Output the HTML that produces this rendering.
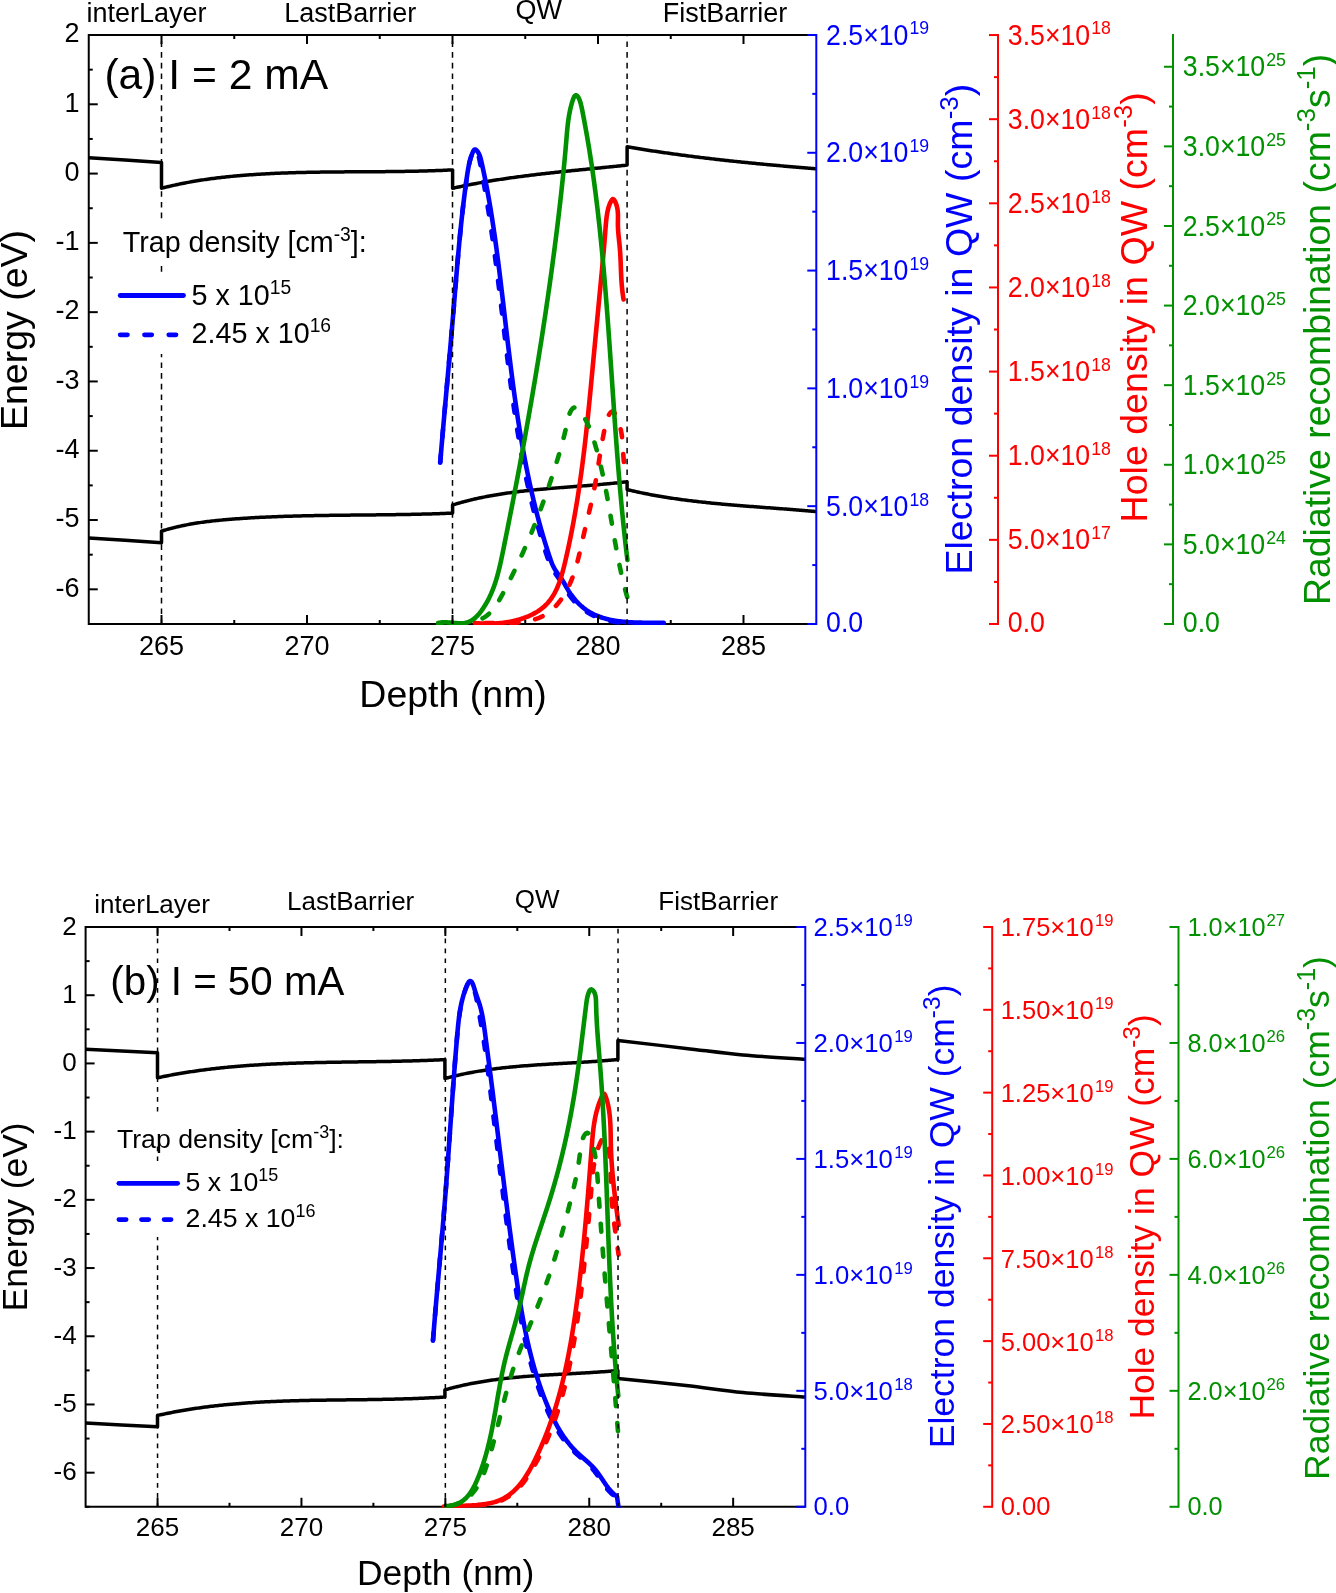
<!DOCTYPE html>
<html><head><meta charset="utf-8"><title>Band diagram</title>
<style>html,body{margin:0;padding:0;background:#fff;overflow:hidden;width:1336px;height:1593px;}svg{display:block;will-change:transform;}text{font-family:"Liberation Sans", sans-serif;}</style>
</head><body>
<svg width="1336" height="1593" viewBox="0 0 1336 1593">
<rect width="1336" height="1593" fill="#fff"/>
<line x1="88.75" y1="34" x2="88.75" y2="624.97" stroke="#000000" stroke-width="2" stroke-linecap="butt"/>
<line x1="88.75" y1="35" x2="816.25" y2="35" stroke="#000000" stroke-width="2" stroke-linecap="butt"/>
<line x1="88.75" y1="623.97" x2="816.25" y2="623.97" stroke="#000000" stroke-width="2" stroke-linecap="butt"/>
<path d="M88.75,157.7 C100.88,158.5 149.38,161.7 161.5,162.5 L161.5,162.5 C161.5,166.8 161.5,184 161.5,188.3 L161.5,188.29 L162.97,187.91 L164.44,187.54 L165.91,187.17 L167.39,186.81 L168.86,186.45 L170.34,186.1 L171.82,185.76 L173.29,185.42 L174.77,185.09 L176.25,184.76 L177.73,184.44 L179.21,184.13 L180.7,183.82 L182.18,183.52 L183.66,183.23 L185.15,182.93 L186.63,182.65 L188.12,182.37 L189.61,182.1 L191.1,181.83 L192.59,181.57 L194.08,181.31 L195.57,181.06 L197.06,180.81 L198.55,180.57 L200.04,180.33 L201.54,180.1 L203.03,179.87 L204.53,179.64 L206.02,179.43 L207.52,179.21 L209.01,179 L210.51,178.8 L212.01,178.6 L213.51,178.4 L215.01,178.21 L216.51,178.02 L218.01,177.84 L219.51,177.66 L221.01,177.49 L222.51,177.32 L224.01,177.15 L225.52,176.99 L227.02,176.83 L228.52,176.67 L230.03,176.52 L231.53,176.37 L233.04,176.23 L234.54,176.09 L236.05,175.95 L237.56,175.81 L239.06,175.68 L240.57,175.56 L242.08,175.43 L243.59,175.31 L245.1,175.19 L246.6,175.07 L248.11,174.96 L249.62,174.85 L251.13,174.74 L252.64,174.64 L254.15,174.54 L255.66,174.44 L257.17,174.34 L258.68,174.25 L260.19,174.15 L261.71,174.06 L263.22,173.98 L264.73,173.89 L266.24,173.81 L267.75,173.73 L269.27,173.65 L270.78,173.58 L272.29,173.51 L273.8,173.43 L275.32,173.37 L276.83,173.3 L278.34,173.23 L279.86,173.17 L281.37,173.11 L282.89,173.05 L284.4,173 L285.92,172.94 L287.43,172.89 L288.95,172.84 L290.46,172.79 L291.98,172.74 L293.49,172.69 L295.01,172.65 L296.52,172.61 L298.04,172.57 L299.55,172.53 L301.07,172.49 L302.59,172.45 L304.1,172.42 L305.62,172.38 L307.14,172.35 L308.65,172.32 L310.17,172.29 L311.69,172.26 L313.2,172.23 L314.72,172.21 L316.24,172.18 L317.76,172.16 L319.27,172.14 L320.79,172.11 L322.31,172.09 L323.83,172.07 L325.34,172.05 L326.86,172.04 L328.38,172.02 L329.9,172 L331.41,171.99 L332.93,171.97 L334.45,171.96 L335.97,171.94 L337.49,171.93 L339,171.92 L340.52,171.91 L342.04,171.89 L343.56,171.88 L345.08,171.87 L346.6,171.86 L348.11,171.85 L349.63,171.84 L351.15,171.83 L352.67,171.83 L354.19,171.82 L355.7,171.81 L357.22,171.8 L358.74,171.79 L360.26,171.78 L361.77,171.77 L363.29,171.77 L364.81,171.76 L366.33,171.75 L367.85,171.74 L369.36,171.73 L370.88,171.72 L372.4,171.71 L373.92,171.7 L375.43,171.69 L376.95,171.68 L378.47,171.67 L379.98,171.66 L381.5,171.65 L383.02,171.64 L384.53,171.63 L386.05,171.61 L387.57,171.6 L389.08,171.59 L390.6,171.57 L392.12,171.55 L393.63,171.54 L395.15,171.52 L396.66,171.5 L398.18,171.48 L399.69,171.46 L401.21,171.44 L402.72,171.42 L404.24,171.4 L405.75,171.37 L407.27,171.35 L408.78,171.32 L410.3,171.29 L411.81,171.27 L413.32,171.24 L414.84,171.21 L416.35,171.17 L417.86,171.14 L419.38,171.1 L420.89,171.07 L422.4,171.03 L423.91,170.99 L425.43,170.95 L426.94,170.91 L428.45,170.86 L429.96,170.81 L431.47,170.77 L432.98,170.72 L434.49,170.67 L436,170.61 L437.51,170.56 L439.02,170.5 L440.53,170.44 L442.04,170.38 L443.55,170.32 L445.06,170.25 L446.57,170.19 L448.08,170.12 L449.59,170.05 L451.09,169.97 L452.6,169.9 L452.6,169.9 C452.6,172.97 452.6,185.23 452.6,188.3 L452.6,188.3 L454.08,187.97 L455.57,187.64 L457.05,187.31 L458.54,186.99 L460.02,186.67 L461.51,186.36 L463,186.05 L464.49,185.74 L465.98,185.44 L467.46,185.14 L468.95,184.85 L470.45,184.55 L471.94,184.26 L473.43,183.98 L474.92,183.7 L476.41,183.42 L477.91,183.14 L479.4,182.87 L480.89,182.6 L482.39,182.34 L483.88,182.08 L485.38,181.82 L486.87,181.56 L488.37,181.31 L489.87,181.06 L491.37,180.81 L492.86,180.57 L494.36,180.33 L495.86,180.09 L497.36,179.85 L498.86,179.62 L500.36,179.39 L501.86,179.16 L503.36,178.93 L504.86,178.71 L506.36,178.49 L507.87,178.27 L509.37,178.06 L510.87,177.84 L512.38,177.63 L513.88,177.42 L515.38,177.22 L516.89,177.01 L518.39,176.81 L519.9,176.61 L521.4,176.41 L522.91,176.22 L524.41,176.02 L525.92,175.83 L527.43,175.64 L528.93,175.45 L530.44,175.27 L531.95,175.08 L533.45,174.9 L534.96,174.72 L536.47,174.54 L537.98,174.36 L539.49,174.19 L540.99,174.01 L542.5,173.84 L544.01,173.66 L545.52,173.49 L547.03,173.32 L548.54,173.16 L550.05,172.99 L551.56,172.82 L553.07,172.66 L554.58,172.5 L556.09,172.33 L557.6,172.17 L559.11,172.01 L560.62,171.85 L562.13,171.69 L563.64,171.54 L565.16,171.38 L566.67,171.22 L568.18,171.07 L569.69,170.91 L571.2,170.76 L572.71,170.6 L574.22,170.45 L575.74,170.3 L577.25,170.15 L578.76,169.99 L580.27,169.84 L581.78,169.69 L583.29,169.54 L584.81,169.39 L586.32,169.24 L587.83,169.09 L589.34,168.94 L590.85,168.79 L592.36,168.64 L593.87,168.49 L595.39,168.34 L596.9,168.19 L598.41,168.04 L599.92,167.89 L601.43,167.74 L602.94,167.59 L604.45,167.44 L605.96,167.29 L607.47,167.13 L608.98,166.98 L610.5,166.83 L612.01,166.67 L613.52,166.52 L615.03,166.37 L616.54,166.21 L618.05,166.05 L619.56,165.9 L621.06,165.74 L622.57,165.58 L624.08,165.42 L625.59,165.26 L627.1,165.1 L627.1,165.1 C627.1,162.05 627.1,149.85 627.1,146.8 L627.1,146.8 L628.59,147.06 L630.08,147.31 L631.57,147.56 L633.06,147.81 L634.55,148.05 L636.04,148.3 L637.53,148.54 L639.03,148.79 L640.52,149.03 L642.01,149.27 L643.5,149.5 L645,149.74 L646.49,149.97 L647.98,150.21 L649.47,150.44 L650.97,150.67 L652.46,150.9 L653.96,151.12 L655.45,151.35 L656.95,151.57 L658.44,151.79 L659.94,152.01 L661.43,152.23 L662.93,152.45 L664.42,152.67 L665.92,152.88 L667.42,153.09 L668.91,153.31 L670.41,153.52 L671.91,153.73 L673.4,153.93 L674.9,154.14 L676.4,154.35 L677.9,154.55 L679.4,154.75 L680.89,154.95 L682.39,155.15 L683.89,155.35 L685.39,155.55 L686.89,155.74 L688.39,155.94 L689.89,156.13 L691.39,156.32 L692.89,156.51 L694.39,156.7 L695.89,156.89 L697.39,157.07 L698.89,157.26 L700.39,157.44 L701.89,157.63 L703.39,157.81 L704.89,157.99 L706.39,158.17 L707.89,158.35 L709.4,158.53 L710.9,158.7 L712.4,158.88 L713.9,159.05 L715.4,159.22 L716.91,159.39 L718.41,159.57 L719.91,159.73 L721.41,159.9 L722.92,160.07 L724.42,160.24 L725.92,160.4 L727.43,160.57 L728.93,160.73 L730.43,160.89 L731.94,161.05 L733.44,161.21 L734.95,161.37 L736.45,161.53 L737.95,161.69 L739.46,161.84 L740.96,162 L742.47,162.15 L743.97,162.31 L745.48,162.46 L746.98,162.61 L748.48,162.76 L749.99,162.91 L751.49,163.06 L753,163.21 L754.5,163.36 L756.01,163.5 L757.52,163.65 L759.02,163.79 L760.53,163.94 L762.03,164.08 L763.54,164.22 L765.04,164.37 L766.55,164.51 L768.05,164.65 L769.56,164.79 L771.07,164.93 L772.57,165.06 L774.08,165.2 L775.58,165.34 L777.09,165.47 L778.59,165.61 L780.1,165.74 L781.61,165.88 L783.11,166.01 L784.62,166.14 L786.13,166.28 L787.63,166.41 L789.14,166.54 L790.64,166.67 L792.15,166.8 L793.66,166.93 L795.16,167.06 L796.67,167.18 L798.18,167.31 L799.68,167.44 L801.19,167.56 L802.69,167.69 L804.2,167.82 L805.71,167.94 L807.21,168.06 L808.72,168.19 L810.23,168.31 L811.73,168.43 L813.24,168.56 L814.74,168.68 L816.25,168.8" fill="none" stroke="#000000" stroke-width="3.5" stroke-linecap="butt" stroke-linejoin="round"/>
<path d="M88.75,537.9 C100.88,538.7 149.38,541.9 161.5,542.7 L161.5,542.7 C161.5,540.78 161.5,533.12 161.5,531.2 L161.5,531.19 L162.95,530.74 L164.4,530.29 L165.86,529.86 L167.31,529.44 L168.77,529.02 L170.24,528.62 L171.7,528.23 L173.17,527.85 L174.63,527.48 L176.1,527.13 L177.57,526.78 L179.05,526.44 L180.52,526.11 L182,525.79 L183.48,525.48 L184.96,525.17 L186.44,524.88 L187.92,524.6 L189.41,524.32 L190.9,524.05 L192.38,523.79 L193.87,523.54 L195.36,523.3 L196.86,523.06 L198.35,522.83 L199.84,522.61 L201.34,522.39 L202.84,522.18 L204.33,521.98 L205.83,521.78 L207.33,521.59 L208.83,521.4 L210.34,521.23 L211.84,521.05 L213.34,520.88 L214.85,520.72 L216.35,520.56 L217.86,520.41 L219.36,520.26 L220.87,520.12 L222.38,519.98 L223.89,519.84 L225.4,519.71 L226.9,519.58 L228.41,519.45 L229.92,519.33 L231.43,519.21 L232.94,519.09 L234.46,518.98 L235.97,518.86 L237.48,518.76 L238.99,518.65 L240.5,518.54 L242.01,518.44 L243.52,518.34 L245.03,518.24 L246.55,518.14 L248.06,518.05 L249.57,517.96 L251.08,517.87 L252.6,517.78 L254.11,517.69 L255.62,517.61 L257.14,517.53 L258.65,517.45 L260.16,517.37 L261.68,517.3 L263.19,517.22 L264.7,517.15 L266.22,517.08 L267.73,517.01 L269.25,516.94 L270.76,516.88 L272.27,516.81 L273.79,516.75 L275.3,516.69 L276.82,516.63 L278.33,516.57 L279.85,516.52 L281.36,516.46 L282.88,516.41 L284.39,516.36 L285.91,516.31 L287.42,516.26 L288.94,516.22 L290.46,516.17 L291.97,516.13 L293.49,516.08 L295,516.04 L296.52,516 L298.04,515.96 L299.55,515.92 L301.07,515.88 L302.58,515.85 L304.1,515.81 L305.62,515.78 L307.13,515.75 L308.65,515.72 L310.17,515.69 L311.68,515.66 L313.2,515.63 L314.72,515.6 L316.23,515.57 L317.75,515.54 L319.27,515.52 L320.78,515.49 L322.3,515.47 L323.82,515.45 L325.33,515.42 L326.85,515.4 L328.37,515.38 L329.88,515.36 L331.4,515.34 L332.92,515.32 L334.44,515.3 L335.95,515.28 L337.47,515.27 L338.99,515.25 L340.5,515.23 L342.02,515.21 L343.54,515.2 L345.06,515.18 L346.57,515.17 L348.09,515.15 L349.61,515.14 L351.12,515.12 L352.64,515.1 L354.16,515.09 L355.68,515.08 L357.19,515.06 L358.71,515.05 L360.23,515.03 L361.74,515.02 L363.26,515 L364.78,514.99 L366.29,514.97 L367.81,514.96 L369.33,514.94 L370.84,514.93 L372.36,514.91 L373.88,514.9 L375.39,514.88 L376.91,514.87 L378.43,514.85 L379.94,514.83 L381.46,514.82 L382.97,514.8 L384.49,514.78 L386.01,514.76 L387.52,514.75 L389.04,514.73 L390.55,514.71 L392.07,514.69 L393.59,514.67 L395.1,514.65 L396.62,514.62 L398.13,514.6 L399.65,514.58 L401.16,514.55 L402.68,514.53 L404.19,514.5 L405.71,514.48 L407.22,514.45 L408.74,514.42 L410.25,514.39 L411.76,514.36 L413.28,514.33 L414.79,514.3 L416.31,514.27 L417.82,514.23 L419.33,514.2 L420.85,514.16 L422.36,514.12 L423.88,514.09 L425.39,514.05 L426.9,514 L428.41,513.96 L429.93,513.92 L431.44,513.88 L432.95,513.83 L434.46,513.78 L435.98,513.73 L437.49,513.68 L439,513.63 L440.51,513.58 L442.02,513.52 L443.54,513.47 L445.05,513.41 L446.56,513.35 L448.07,513.29 L449.58,513.23 L451.09,513.16 L452.6,513.1 L452.6,513.1 C452.6,511.75 452.6,506.35 452.6,505 L452.6,505 L454.06,504.55 L455.52,504.1 L456.98,503.67 L458.44,503.24 L459.9,502.83 L461.37,502.42 L462.84,502.02 L464.31,501.62 L465.78,501.24 L467.25,500.86 L468.72,500.48 L470.2,500.12 L471.67,499.76 L473.15,499.41 L474.63,499.07 L476.11,498.73 L477.59,498.41 L479.07,498.08 L480.56,497.77 L482.04,497.46 L483.53,497.15 L485.02,496.86 L486.51,496.57 L488,496.28 L489.49,496 L490.98,495.73 L492.47,495.46 L493.97,495.2 L495.46,494.95 L496.96,494.69 L498.46,494.45 L499.95,494.21 L501.45,493.97 L502.95,493.74 L504.46,493.52 L505.96,493.3 L507.46,493.08 L508.96,492.87 L510.47,492.66 L511.97,492.46 L513.48,492.26 L514.99,492.07 L516.49,491.88 L518,491.69 L519.51,491.51 L521.02,491.33 L522.53,491.15 L524.04,490.98 L525.55,490.81 L527.07,490.65 L528.58,490.49 L530.09,490.33 L531.61,490.17 L533.12,490.02 L534.64,489.87 L536.15,489.72 L537.67,489.58 L539.18,489.44 L540.7,489.29 L542.22,489.16 L543.73,489.02 L545.25,488.89 L546.77,488.75 L548.29,488.62 L549.81,488.5 L551.33,488.37 L552.84,488.24 L554.36,488.12 L555.88,488 L557.4,487.88 L558.92,487.75 L560.44,487.63 L561.96,487.52 L563.48,487.4 L565,487.28 L566.52,487.16 L568.04,487.05 L569.56,486.93 L571.08,486.81 L572.6,486.7 L574.12,486.58 L575.64,486.47 L577.16,486.35 L578.68,486.23 L580.2,486.12 L581.72,486 L583.24,485.88 L584.76,485.76 L586.28,485.64 L587.79,485.52 L589.31,485.4 L590.83,485.28 L592.35,485.15 L593.86,485.03 L595.38,484.9 L596.9,484.77 L598.41,484.64 L599.93,484.51 L601.44,484.37 L602.96,484.24 L604.47,484.1 L605.98,483.96 L607.49,483.82 L609.01,483.67 L610.52,483.52 L612.03,483.37 L613.54,483.22 L615.05,483.06 L616.56,482.9 L618.07,482.74 L619.57,482.58 L621.08,482.41 L622.59,482.24 L624.09,482.06 L625.6,481.88 L627.1,481.7 L627.1,481.7 C627.1,483.02 627.1,488.28 627.1,489.6 L627.1,489.6 L628.57,489.95 L630.05,490.3 L631.53,490.64 L633,490.98 L634.48,491.31 L635.96,491.64 L637.44,491.96 L638.92,492.28 L640.4,492.59 L641.88,492.9 L643.36,493.2 L644.85,493.5 L646.33,493.8 L647.81,494.09 L649.3,494.37 L650.78,494.66 L652.27,494.93 L653.76,495.21 L655.25,495.47 L656.73,495.74 L658.22,496 L659.71,496.26 L661.2,496.51 L662.69,496.76 L664.18,497 L665.68,497.24 L667.17,497.48 L668.66,497.71 L670.16,497.94 L671.65,498.17 L673.15,498.39 L674.64,498.61 L676.14,498.83 L677.63,499.04 L679.13,499.25 L680.63,499.46 L682.13,499.66 L683.62,499.86 L685.12,500.06 L686.62,500.25 L688.12,500.44 L689.62,500.63 L691.12,500.82 L692.62,501 L694.13,501.18 L695.63,501.35 L697.13,501.53 L698.63,501.7 L700.14,501.87 L701.64,502.04 L703.14,502.2 L704.65,502.36 L706.15,502.52 L707.66,502.68 L709.16,502.83 L710.67,502.99 L712.17,503.14 L713.68,503.29 L715.19,503.43 L716.69,503.58 L718.2,503.72 L719.71,503.86 L721.21,504 L722.72,504.14 L724.23,504.27 L725.74,504.41 L727.24,504.54 L728.75,504.67 L730.26,504.8 L731.77,504.93 L733.28,505.06 L734.79,505.18 L736.3,505.31 L737.81,505.43 L739.32,505.55 L740.83,505.68 L742.34,505.8 L743.85,505.92 L745.36,506.03 L746.87,506.15 L748.38,506.27 L749.89,506.38 L751.4,506.5 L752.91,506.61 L754.42,506.73 L755.93,506.84 L757.44,506.96 L758.95,507.07 L760.46,507.18 L761.97,507.29 L763.48,507.41 L764.99,507.52 L766.5,507.63 L768.01,507.74 L769.52,507.85 L771.03,507.96 L772.54,508.08 L774.05,508.19 L775.56,508.3 L777.07,508.41 L778.58,508.52 L780.09,508.64 L781.6,508.75 L783.11,508.87 L784.61,508.98 L786.12,509.09 L787.63,509.21 L789.14,509.33 L790.65,509.44 L792.16,509.56 L793.66,509.68 L795.17,509.8 L796.68,509.92 L798.19,510.04 L799.69,510.16 L801.2,510.29 L802.71,510.41 L804.21,510.54 L805.72,510.67 L807.22,510.8 L808.73,510.93 L810.23,511.06 L811.74,511.19 L813.24,511.33 L814.75,511.46 L816.25,511.6" fill="none" stroke="#000000" stroke-width="3.5" stroke-linecap="butt" stroke-linejoin="round"/>
<clipPath id="clip35"><rect x="88.75" y="35" width="727.5" height="589.97"/></clipPath>
<g clip-path="url(#clip35)">
<path d="M440.2,462.5 L440.33,461.01 L440.45,459.51 L440.58,458.02 L440.7,456.52 L440.83,455.03 L440.96,453.53 L441.08,452.04 L441.21,450.54 L441.34,449.05 L441.46,447.55 L441.59,446.06 L441.72,444.56 L441.85,443.06 L441.98,441.57 L442.11,440.07 L442.23,438.58 L442.36,437.08 L442.49,435.58 L442.62,434.08 L442.75,432.59 L442.89,431.09 L443.02,429.59 L443.15,428.09 L443.28,426.59 L443.41,425.1 L443.54,423.6 L443.67,422.1 L443.8,420.6 L443.94,419.1 L444.07,417.6 L444.2,416.1 L444.33,414.6 L444.47,413.11 L444.6,411.61 L444.73,410.11 L444.87,408.61 L445,407.11 L445.13,405.61 L445.27,404.11 L445.4,402.61 L445.53,401.11 L445.67,399.61 L445.8,398.11 L445.94,396.61 L446.07,395.11 L446.2,393.61 L446.34,392.11 L446.47,390.61 L446.61,389.11 L446.74,387.61 L446.87,386.11 L447.01,384.6 L447.14,383.1 L447.28,381.6 L447.41,380.1 L447.54,378.6 L447.68,377.1 L447.81,375.6 L447.95,374.1 L448.08,372.6 L448.21,371.1 L448.35,369.6 L448.48,368.1 L448.62,366.6 L448.75,365.1 L448.88,363.6 L449.02,362.1 L449.15,360.6 L449.28,359.1 L449.42,357.6 L449.55,356.1 L449.68,354.6 L449.82,353.1 L449.95,351.6 L450.08,350.1 L450.21,348.6 L450.34,347.1 L450.48,345.6 L450.61,344.1 L450.74,342.6 L450.87,341.1 L451,339.6 L451.13,338.1 L451.26,336.6 L451.39,335.1 L451.52,333.6 L451.65,332.1 L451.78,330.6 L451.91,329.11 L452.04,327.61 L452.17,326.11 L452.3,324.61 L452.43,323.11 L452.56,321.62 L452.68,320.12 L452.81,318.62 L452.94,317.12 L453.07,315.63 L453.19,314.13 L453.32,312.63 L453.44,311.14 L453.57,309.64 L453.69,308.14 L453.82,306.65 L453.94,305.15 L454.07,303.65 L454.19,302.16 L454.32,300.66 L454.44,299.17 L454.56,297.67 L454.69,296.18 L454.81,294.68 L454.93,293.19 L455.06,291.69 L455.18,290.2 L455.3,288.7 L455.43,287.21 L455.55,285.72 L455.67,284.22 L455.8,282.73 L455.92,281.23 L456.05,279.74 L456.17,278.24 L456.3,276.75 L456.42,275.26 L456.55,273.76 L456.67,272.27 L456.8,270.77 L456.93,269.28 L457.05,267.79 L457.18,266.29 L457.31,264.8 L457.44,263.3 L457.57,261.81 L457.7,260.32 L457.83,258.82 L457.96,257.33 L458.09,255.83 L458.23,254.34 L458.36,252.84 L458.5,251.35 L458.63,249.85 L458.77,248.36 L458.91,246.86 L459.04,245.37 L459.18,243.87 L459.32,242.38 L459.47,240.88 L459.61,239.39 L459.75,237.89 L459.9,236.39 L460.04,234.9 L460.19,233.4 L460.34,231.9 L460.49,230.41 L460.64,228.91 L460.79,227.41 L460.95,225.91 L461.1,224.42 L461.26,222.92 L461.42,221.42 L461.58,219.92 L461.74,218.42 L461.9,216.92 L462.06,215.43 L462.23,213.93 L462.4,212.43 L462.56,210.93 L462.74,209.42 L462.91,207.92 L463.08,206.42 L463.26,204.92 L463.44,203.42 L463.62,201.92 L463.8,200.41 L463.98,198.91 L464.17,197.41 L464.35,195.9 L464.54,194.4 L464.73,192.9 L464.93,191.39 L465.12,189.89 L465.32,188.38 L465.52,186.87 L465.72,185.37 L465.93,183.86 L466.13,182.35 L466.34,180.85 L466.55,179.34 L466.77,177.83 L466.98,176.32 L467.2,174.81 L467.43,173.3 L467.66,171.8 L467.91,170.3 L468.16,168.81 L468.44,167.32 L468.72,165.84 L469.03,164.38 L469.36,162.92 L469.7,161.48 L470.08,160.05 L470.48,158.63 L470.91,157.23 L471.37,155.85 L471.87,154.49 L472.4,153.15 L472.97,151.83 L473.58,150.6 L474.29,149.72 L475.11,149.45 L476.05,149.88 L477.01,150.79 L477.89,151.94 L478.65,153.18 L479.29,154.49 L479.84,155.87 L480.31,157.3 L480.72,158.77 L481.09,160.26 L481.43,161.76 L481.77,163.27 L482.1,164.78 L482.43,166.28 L482.76,167.79 L483.08,169.29 L483.4,170.8 L483.72,172.3 L484.03,173.8 L484.34,175.3 L484.65,176.8 L484.95,178.3 L485.25,179.8 L485.55,181.3 L485.84,182.8 L486.13,184.3 L486.42,185.79 L486.71,187.29 L486.99,188.79 L487.27,190.28 L487.55,191.78 L487.82,193.27 L488.1,194.76 L488.36,196.26 L488.63,197.75 L488.9,199.24 L489.16,200.73 L489.42,202.22 L489.67,203.71 L489.93,205.2 L490.18,206.69 L490.43,208.18 L490.68,209.67 L490.92,211.16 L491.16,212.65 L491.4,214.14 L491.64,215.63 L491.88,217.11 L492.11,218.6 L492.34,220.09 L492.57,221.57 L492.8,223.06 L493.03,224.55 L493.25,226.03 L493.47,227.52 L493.7,229 L493.91,230.49 L494.13,231.97 L494.35,233.46 L494.56,234.94 L494.77,236.43 L494.98,237.91 L495.19,239.4 L495.4,240.88 L495.6,242.37 L495.81,243.85 L496.01,245.33 L496.21,246.82 L496.41,248.3 L496.61,249.79 L496.81,251.27 L497,252.76 L497.2,254.24 L497.39,255.72 L497.59,257.21 L497.78,258.69 L497.97,260.18 L498.16,261.66 L498.35,263.15 L498.53,264.63 L498.72,266.12 L498.91,267.6 L499.09,269.09 L499.28,270.58 L499.46,272.06 L499.64,273.55 L499.82,275.04 L500.01,276.52 L500.19,278.01 L500.37,279.5 L500.55,280.98 L500.73,282.47 L500.9,283.96 L501.08,285.45 L501.26,286.94 L501.44,288.43 L501.62,289.92 L501.79,291.41 L501.97,292.9 L502.14,294.39 L502.32,295.88 L502.5,297.37 L502.67,298.86 L502.85,300.35 L503.02,301.84 L503.2,303.34 L503.37,304.83 L503.54,306.32 L503.72,307.81 L503.89,309.3 L504.07,310.8 L504.24,312.29 L504.41,313.78 L504.59,315.28 L504.76,316.77 L504.94,318.26 L505.11,319.76 L505.28,321.25 L505.46,322.75 L505.63,324.24 L505.81,325.73 L505.98,327.23 L506.16,328.72 L506.33,330.22 L506.51,331.71 L506.68,333.21 L506.86,334.7 L507.04,336.2 L507.21,337.69 L507.39,339.19 L507.57,340.68 L507.74,342.18 L507.92,343.67 L508.1,345.17 L508.28,346.66 L508.46,348.16 L508.64,349.65 L508.82,351.15 L509,352.64 L509.18,354.14 L509.36,355.63 L509.55,357.13 L509.73,358.62 L509.91,360.12 L510.1,361.61 L510.28,363.11 L510.47,364.6 L510.66,366.1 L510.84,367.59 L511.03,369.09 L511.22,370.58 L511.41,372.08 L511.6,373.57 L511.8,375.06 L511.99,376.56 L512.18,378.05 L512.38,379.55 L512.57,381.04 L512.77,382.53 L512.97,384.03 L513.17,385.52 L513.37,387.01 L513.57,388.51 L513.77,390 L513.97,391.49 L514.18,392.98 L514.38,394.48 L514.59,395.97 L514.8,397.46 L515.01,398.95 L515.22,400.44 L515.43,401.93 L515.64,403.43 L515.85,404.92 L516.07,406.41 L516.29,407.9 L516.51,409.39 L516.73,410.88 L516.95,412.37 L517.17,413.85 L517.39,415.34 L517.62,416.83 L517.85,418.32 L518.08,419.81 L518.31,421.3 L518.54,422.78 L518.77,424.27 L519.01,425.76 L519.25,427.24 L519.48,428.73 L519.73,430.21 L519.97,431.7 L520.21,433.18 L520.46,434.67 L520.7,436.15 L520.95,437.64 L521.21,439.12 L521.46,440.6 L521.71,442.08 L521.97,443.57 L522.23,445.05 L522.49,446.53 L522.75,448.01 L523.02,449.49 L523.28,450.97 L523.55,452.45 L523.82,453.93 L524.1,455.41 L524.37,456.88 L524.65,458.36 L524.93,459.84 L525.21,461.31 L525.5,462.79 L525.78,464.26 L526.07,465.74 L526.36,467.21 L526.65,468.69 L526.95,470.16 L527.25,471.63 L527.55,473.11 L527.85,474.58 L528.15,476.05 L528.46,477.52 L528.77,478.99 L529.08,480.46 L529.4,481.93 L529.71,483.39 L530.03,484.86 L530.36,486.33 L530.68,487.79 L531.01,489.26 L531.34,490.72 L531.67,492.19 L532.01,493.65 L532.34,495.12 L532.69,496.58 L533.03,498.04 L533.38,499.5 L533.72,500.96 L534.08,502.42 L534.43,503.88 L534.79,505.34 L535.15,506.79 L535.51,508.25 L535.88,509.71 L536.25,511.16 L536.62,512.62 L537,514.07 L537.37,515.52 L537.76,516.98 L538.14,518.43 L538.53,519.88 L538.92,521.33 L539.31,522.78 L539.71,524.22 L540.11,525.67 L540.51,527.12 L540.92,528.56 L541.33,530.01 L541.74,531.45 L542.16,532.9 L542.58,534.34 L543,535.78 L543.43,537.22 L543.85,538.66 L544.29,540.1 L544.72,541.54 L545.16,542.98 L545.61,544.41 L546.05,545.85 L546.5,547.28 L546.96,548.72 L547.42,550.15 L547.88,551.58 L548.34,553.01 L548.81,554.44 L549.28,555.87 L549.76,557.3 L550.24,558.73 L550.73,560.15 L551.25,561.56 L551.79,562.96 L552.36,564.35 L552.98,565.73 L553.64,567.08 L554.35,568.41 L555.13,569.72 L555.96,571.01 L556.82,572.27 L557.71,573.53 L558.62,574.77 L559.52,576.01 L560.41,577.25 L561.27,578.49 L562.1,579.74 L562.88,580.99 L563.63,582.25 L564.36,583.52 L565.08,584.79 L565.79,586.07 L566.51,587.35 L567.25,588.63 L568.01,589.9 L568.8,591.18 L569.62,592.44 L570.47,593.71 L571.35,594.96 L572.27,596.2 L573.21,597.42 L574.18,598.63 L575.17,599.82 L576.19,600.98 L577.24,602.12 L578.31,603.23 L579.41,604.32 L580.53,605.37 L581.67,606.38 L582.83,607.36 L584.01,608.3 L585.21,609.2 L586.43,610.07 L587.67,610.89 L588.92,611.68 L590.2,612.43 L591.49,613.15 L592.79,613.83 L594.12,614.48 L595.45,615.09 L596.81,615.68 L598.17,616.23 L599.55,616.76 L600.94,617.25 L602.35,617.72 L603.77,618.15 L605.19,618.57 L606.63,618.95 L608.08,619.31 L609.54,619.65 L611.01,619.96 L612.48,620.25 L613.97,620.52 L615.46,620.77 L616.96,621 L618.46,621.21 L619.97,621.4 L621.49,621.58 L623.01,621.74 L624.53,621.88 L626.06,622.01 L627.59,622.12 L629.12,622.22 L630.65,622.31 L632.19,622.39 L633.72,622.46 L635.26,622.51 L636.79,622.56 L638.33,622.6 L639.86,622.64 L641.39,622.66 L642.92,622.69 L644.44,622.7 L645.96,622.72 L647.48,622.73 L648.99,622.74 L650.49,622.74 L651.99,622.75 L653.48,622.76 L654.97,622.77 L656.45,622.78 L657.92,622.79 L659.38,622.81 L660.83,622.84 L662.27,622.86 L663.7,622.9" fill="none" stroke="#0000ff" stroke-width="4.6" stroke-linecap="round" stroke-linejoin="round"/>
<path d="M440.2,462.5 L440.33,461.01 L440.45,459.51 L440.58,458.02 L440.7,456.53 L440.83,455.03 L440.95,453.54 L441.08,452.04 L441.21,450.55 L441.33,449.05 L441.46,447.56 L441.59,446.06 L441.72,444.57 L441.84,443.07 L441.97,441.57 L442.1,440.08 L442.23,438.58 L442.36,437.09 L442.49,435.59 L442.62,434.09 L442.75,432.59 L442.88,431.1 L443.01,429.6 L443.14,428.1 L443.27,426.61 L443.4,425.11 L443.54,423.61 L443.67,422.11 L443.8,420.62 L443.93,419.12 L444.06,417.62 L444.2,416.12 L444.33,414.62 L444.46,413.12 L444.59,411.63 L444.73,410.13 L444.86,408.63 L444.99,407.13 L445.13,405.63 L445.26,404.13 L445.4,402.63 L445.53,401.13 L445.66,399.63 L445.8,398.13 L445.93,396.64 L446.06,395.14 L446.2,393.64 L446.33,392.14 L446.47,390.64 L446.6,389.14 L446.74,387.64 L446.87,386.14 L447,384.64 L447.14,383.14 L447.27,381.64 L447.41,380.14 L447.54,378.64 L447.68,377.14 L447.81,375.64 L447.94,374.14 L448.08,372.64 L448.21,371.14 L448.35,369.64 L448.48,368.14 L448.61,366.64 L448.75,365.14 L448.88,363.64 L449.02,362.14 L449.15,360.64 L449.28,359.15 L449.42,357.65 L449.55,356.15 L449.68,354.65 L449.81,353.15 L449.95,351.65 L450.08,350.15 L450.21,348.65 L450.34,347.15 L450.48,345.65 L450.61,344.15 L450.74,342.66 L450.87,341.16 L451,339.66 L451.13,338.16 L451.26,336.66 L451.39,335.16 L451.52,333.66 L451.65,332.17 L451.78,330.67 L451.91,329.17 L452.04,327.67 L452.17,326.18 L452.3,324.68 L452.43,323.18 L452.56,321.68 L452.68,320.19 L452.81,318.69 L452.94,317.19 L453.06,315.7 L453.19,314.2 L453.32,312.7 L453.44,311.21 L453.57,309.71 L453.69,308.22 L453.82,306.72 L453.94,305.22 L454.06,303.73 L454.19,302.23 L454.31,300.74 L454.44,299.24 L454.56,297.75 L454.68,296.25 L454.8,294.76 L454.93,293.26 L455.05,291.77 L455.17,290.28 L455.3,288.78 L455.42,287.29 L455.54,285.79 L455.67,284.3 L455.79,282.81 L455.91,281.31 L456.04,279.82 L456.16,278.32 L456.29,276.83 L456.41,275.34 L456.54,273.84 L456.66,272.35 L456.79,270.85 L456.91,269.36 L457.04,267.87 L457.17,266.37 L457.3,264.88 L457.43,263.39 L457.56,261.89 L457.69,260.4 L457.82,258.9 L457.95,257.41 L458.08,255.92 L458.21,254.42 L458.35,252.93 L458.48,251.43 L458.62,249.94 L458.75,248.44 L458.89,246.95 L459.03,245.46 L459.17,243.96 L459.31,242.47 L459.45,240.97 L459.59,239.48 L459.74,237.98 L459.88,236.48 L460.03,234.99 L460.17,233.49 L460.32,232 L460.47,230.5 L460.62,229 L460.77,227.51 L460.93,226.01 L461.08,224.51 L461.24,223.02 L461.4,221.52 L461.56,220.02 L461.72,218.52 L461.88,217.03 L462.04,215.53 L462.21,214.03 L462.38,212.53 L462.55,211.03 L462.72,209.53 L462.89,208.03 L463.07,206.53 L463.24,205.03 L463.42,203.53 L463.6,202.03 L463.78,200.53 L463.97,199.03 L464.15,197.53 L464.34,196.03 L464.53,194.52 L464.72,193.02 L464.91,191.52 L465.11,190.02 L465.31,188.51 L465.51,187.01 L465.71,185.5 L465.92,184 L466.13,182.49 L466.33,180.99 L466.55,179.48 L466.76,177.98 L466.98,176.47 L467.2,174.96 L467.43,173.46 L467.66,171.96 L467.9,170.46 L468.16,168.97 L468.43,167.48 L468.72,166 L469.03,164.53 L469.35,163.07 L469.7,161.62 L470.08,160.19 L470.48,158.77 L470.91,157.36 L471.37,155.97 L471.87,154.59 L472.4,153.24 L472.97,151.9 L473.58,150.65 L474.23,149.73 L474.95,149.45 L475.71,149.93 L476.46,150.92 L477.13,152.14 L477.71,153.44 L478.21,154.8 L478.64,156.22 L479.02,157.68 L479.35,159.17 L479.65,160.67 L479.95,162.19 L480.23,163.71 L480.52,165.22 L480.8,166.74 L481.09,168.25 L481.37,169.76 L481.64,171.28 L481.92,172.79 L482.19,174.3 L482.47,175.8 L482.74,177.31 L483.01,178.82 L483.27,180.32 L483.54,181.83 L483.8,183.33 L484.06,184.84 L484.33,186.34 L484.58,187.84 L484.84,189.34 L485.1,190.84 L485.35,192.34 L485.6,193.84 L485.85,195.33 L486.1,196.83 L486.35,198.33 L486.59,199.82 L486.84,201.31 L487.08,202.81 L487.32,204.3 L487.56,205.79 L487.8,207.29 L488.04,208.78 L488.27,210.27 L488.5,211.76 L488.74,213.25 L488.97,214.74 L489.2,216.23 L489.43,217.71 L489.65,219.2 L489.88,220.69 L490.1,222.18 L490.33,223.66 L490.55,225.15 L490.77,226.63 L490.99,228.12 L491.2,229.61 L491.42,231.09 L491.64,232.58 L491.85,234.06 L492.06,235.54 L492.28,237.03 L492.49,238.51 L492.7,239.99 L492.9,241.48 L493.11,242.96 L493.32,244.44 L493.52,245.93 L493.73,247.41 L493.93,248.89 L494.13,250.38 L494.33,251.86 L494.53,253.34 L494.73,254.82 L494.93,256.31 L495.13,257.79 L495.33,259.27 L495.52,260.76 L495.72,262.24 L495.91,263.72 L496.1,265.2 L496.3,266.69 L496.49,268.17 L496.68,269.66 L496.87,271.14 L497.06,272.62 L497.25,274.11 L497.43,275.59 L497.62,277.08 L497.81,278.56 L497.99,280.05 L498.18,281.54 L498.36,283.02 L498.54,284.51 L498.73,286 L498.91,287.48 L499.09,288.97 L499.27,290.46 L499.45,291.95 L499.63,293.44 L499.81,294.93 L499.99,296.41 L500.17,297.9 L500.35,299.39 L500.53,300.88 L500.71,302.37 L500.88,303.86 L501.06,305.36 L501.24,306.85 L501.42,308.34 L501.59,309.83 L501.77,311.32 L501.95,312.81 L502.12,314.3 L502.3,315.8 L502.47,317.29 L502.65,318.78 L502.83,320.27 L503,321.77 L503.18,323.26 L503.35,324.75 L503.53,326.25 L503.71,327.74 L503.88,329.23 L504.06,330.73 L504.24,332.22 L504.41,333.71 L504.59,335.21 L504.77,336.7 L504.94,338.2 L505.12,339.69 L505.3,341.19 L505.48,342.68 L505.65,344.17 L505.83,345.67 L506.01,347.16 L506.19,348.66 L506.37,350.15 L506.55,351.65 L506.73,353.14 L506.92,354.64 L507.1,356.13 L507.28,357.62 L507.46,359.12 L507.65,360.61 L507.83,362.11 L508.02,363.6 L508.2,365.1 L508.39,366.59 L508.58,368.09 L508.76,369.58 L508.95,371.07 L509.14,372.57 L509.33,374.06 L509.52,375.56 L509.72,377.05 L509.91,378.54 L510.1,380.04 L510.3,381.53 L510.49,383.02 L510.69,384.52 L510.89,386.01 L511.09,387.5 L511.29,388.99 L511.49,390.49 L511.69,391.98 L511.89,393.47 L512.1,394.96 L512.3,396.45 L512.51,397.95 L512.72,399.44 L512.92,400.93 L513.13,402.42 L513.35,403.91 L513.56,405.4 L513.77,406.89 L513.99,408.38 L514.21,409.87 L514.42,411.36 L514.64,412.85 L514.87,414.34 L515.09,415.82 L515.31,417.31 L515.54,418.8 L515.77,420.29 L516,421.77 L516.23,423.26 L516.46,424.75 L516.69,426.23 L516.93,427.72 L517.17,429.21 L517.4,430.69 L517.65,432.18 L517.89,433.66 L518.13,435.14 L518.38,436.63 L518.63,438.11 L518.88,439.59 L519.13,441.08 L519.38,442.56 L519.64,444.04 L519.89,445.52 L520.15,447 L520.42,448.48 L520.68,449.96 L520.95,451.44 L521.21,452.92 L521.48,454.4 L521.76,455.87 L522.03,457.35 L522.31,458.83 L522.58,460.31 L522.87,461.78 L523.15,463.26 L523.43,464.73 L523.72,466.21 L524.01,467.68 L524.3,469.15 L524.6,470.63 L524.9,472.1 L525.19,473.57 L525.5,475.04 L525.8,476.51 L526.11,477.98 L526.42,479.45 L526.73,480.92 L527.04,482.38 L527.36,483.85 L527.68,485.32 L528,486.78 L528.33,488.25 L528.66,489.71 L528.99,491.18 L529.32,492.64 L529.65,494.11 L529.99,495.57 L530.33,497.03 L530.68,498.49 L531.03,499.95 L531.38,501.41 L531.73,502.87 L532.08,504.32 L532.44,505.78 L532.81,507.24 L533.17,508.69 L533.54,510.15 L533.91,511.6 L534.28,513.06 L534.66,514.51 L535.04,515.96 L535.42,517.41 L535.81,518.86 L536.2,520.31 L536.59,521.76 L536.99,523.21 L537.39,524.66 L537.79,526.1 L538.19,527.55 L538.6,528.99 L539.02,530.43 L539.43,531.88 L539.85,533.32 L540.27,534.76 L540.7,536.2 L541.13,537.64 L541.56,539.08 L542,540.52 L542.44,541.95 L542.88,543.39 L543.33,544.82 L543.78,546.26 L544.24,547.69 L544.69,549.12 L545.16,550.55 L545.62,551.98 L546.09,553.41 L546.57,554.84 L547.04,556.27 L547.52,557.69 L548.01,559.12 L548.52,560.53 L549.04,561.94 L549.59,563.34 L550.18,564.73 L550.8,566.1 L551.47,567.45 L552.2,568.78 L552.98,570.08 L553.81,571.36 L554.67,572.63 L555.56,573.89 L556.45,575.13 L557.35,576.37 L558.23,577.61 L559.09,578.85 L559.9,580.09 L560.69,581.34 L561.45,582.59 L562.2,583.85 L562.93,585.11 L563.66,586.37 L564.4,587.64 L565.16,588.9 L565.94,590.16 L566.74,591.43 L567.58,592.69 L568.44,593.94 L569.34,595.18 L570.25,596.42 L571.2,597.64 L572.17,598.84 L573.16,600.03 L574.18,601.19 L575.23,602.33 L576.29,603.45 L577.38,604.54 L578.49,605.6 L579.63,606.63 L580.78,607.63 L581.95,608.58 L583.14,609.5 L584.35,610.38 L585.58,611.23 L586.83,612.04 L588.09,612.81 L589.37,613.55 L590.67,614.25 L591.98,614.93 L593.31,615.57 L594.65,616.18 L596,616.75 L597.37,617.3 L598.75,617.82 L600.15,618.32 L601.55,618.78 L602.97,619.22 L604.4,619.63 L605.84,620.02 L607.29,620.38 L608.74,620.72 L610.21,621.04 L611.68,621.34 L613.17,621.61 L614.66,621.87 L616.15,622.1 L617.65,622.32 L619.16,622.52 L620.67,622.7 L622.19,622.86 L623.71,623.01 L625.23,623.15 L626.76,623.27 L628.29,623.38 L629.82,623.47 L631.35,623.56 L632.88,623.63 L634.41,623.7 L635.95,623.75 L637.48,623.8 L639.01,623.84 L640.53,623.87 L642.06,623.89 L643.58,623.91 L645.1,623.93 L646.62,623.94 L648.13,623.95 L649.63,623.96 L651.13,623.97 L652.62,623.97 L654.11,623.98 L655.59,623.99 L657.06,624 L658.52,624.01 L659.98,624.02 L661.42,624.04 L662.86,624.07" fill="none" stroke="#0000ff" stroke-width="4.6" stroke-linecap="round" stroke-linejoin="round" stroke-dasharray="8 17"/>
<path d="M474.9,622.89 L476.27,623.06 L477.66,623.2 L479.07,623.33 L480.5,623.44 L481.95,623.54 L483.41,623.61 L484.88,623.67 L486.37,623.7 L487.87,623.72 L489.38,623.72 L490.91,623.7 L492.44,623.66 L493.98,623.6 L495.52,623.51 L497.08,623.41 L498.63,623.29 L500.19,623.14 L501.75,622.98 L503.31,622.79 L504.88,622.58 L506.44,622.35 L508,622.09 L509.55,621.82 L511.1,621.51 L512.65,621.19 L514.18,620.84 L515.71,620.47 L517.23,620.08 L518.74,619.66 L520.24,619.21 L521.72,618.74 L523.2,618.25 L524.65,617.73 L526.09,617.19 L527.52,616.61 L528.92,616.02 L530.31,615.39 L531.67,614.74 L533.01,614.07 L534.33,613.36 L535.63,612.63 L536.9,611.87 L538.14,611.08 L539.36,610.26 L540.55,609.42 L541.71,608.55 L542.83,607.64 L543.93,606.71 L544.99,605.75 L546.02,604.76 L547.01,603.74 L547.97,602.69 L548.89,601.6 L549.78,600.5 L550.63,599.36 L551.46,598.2 L552.25,597.01 L553.02,595.8 L553.75,594.57 L554.46,593.32 L555.14,592.04 L555.8,590.74 L556.43,589.43 L557.04,588.09 L557.62,586.74 L558.19,585.37 L558.73,583.99 L559.26,582.59 L559.76,581.17 L560.25,579.75 L560.72,578.31 L561.18,576.86 L561.62,575.41 L562.05,573.94 L562.46,572.46 L562.87,570.98 L563.26,569.5 L563.64,568 L564.02,566.51 L564.39,565.01 L564.75,563.5 L565.11,562 L565.46,560.5 L565.81,558.99 L566.15,557.49 L566.49,555.99 L566.83,554.49 L567.17,552.98 L567.5,551.48 L567.83,549.98 L568.16,548.49 L568.48,546.99 L568.8,545.49 L569.12,543.99 L569.43,542.5 L569.74,541 L570.05,539.5 L570.36,538.01 L570.66,536.51 L570.96,535.02 L571.26,533.53 L571.55,532.03 L571.84,530.54 L572.13,529.05 L572.42,527.56 L572.7,526.07 L572.98,524.58 L573.26,523.09 L573.53,521.6 L573.8,520.11 L574.07,518.62 L574.34,517.13 L574.61,515.64 L574.87,514.15 L575.13,512.67 L575.39,511.18 L575.64,509.69 L575.89,508.21 L576.14,506.72 L576.39,505.23 L576.64,503.75 L576.88,502.26 L577.12,500.78 L577.36,499.29 L577.6,497.81 L577.83,496.33 L578.06,494.84 L578.29,493.36 L578.52,491.87 L578.74,490.39 L578.97,488.91 L579.19,487.42 L579.41,485.94 L579.63,484.46 L579.84,482.98 L580.06,481.49 L580.27,480.01 L580.48,478.53 L580.69,477.05 L580.89,475.56 L581.1,474.08 L581.3,472.6 L581.5,471.12 L581.7,469.64 L581.9,468.15 L582.09,466.67 L582.29,465.19 L582.48,463.71 L582.67,462.23 L582.86,460.74 L583.05,459.26 L583.23,457.78 L583.42,456.3 L583.6,454.82 L583.78,453.33 L583.96,451.85 L584.14,450.37 L584.32,448.89 L584.49,447.4 L584.67,445.92 L584.84,444.44 L585.01,442.95 L585.19,441.47 L585.36,439.99 L585.52,438.5 L585.69,437.02 L585.86,435.54 L586.02,434.05 L586.19,432.57 L586.35,431.08 L586.51,429.6 L586.67,428.11 L586.83,426.62 L586.99,425.14 L587.15,423.65 L587.31,422.17 L587.46,420.68 L587.62,419.19 L587.77,417.7 L587.93,416.22 L588.08,414.73 L588.23,413.24 L588.39,411.75 L588.54,410.26 L588.69,408.77 L588.84,407.28 L588.99,405.79 L589.13,404.3 L589.28,402.8 L589.43,401.31 L589.58,399.82 L589.72,398.32 L589.87,396.83 L590.01,395.34 L590.16,393.84 L590.3,392.35 L590.45,390.85 L590.59,389.35 L590.73,387.86 L590.88,386.36 L591.02,384.86 L591.16,383.36 L591.31,381.86 L591.45,380.36 L591.59,378.86 L591.73,377.36 L591.87,375.86 L592.02,374.35 L592.16,372.85 L592.3,371.35 L592.44,369.84 L592.58,368.33 L592.73,366.83 L592.87,365.32 L593.01,363.81 L593.15,362.3 L593.29,360.79 L593.44,359.28 L593.58,357.77 L593.72,356.26 L593.86,354.75 L594.01,353.24 L594.15,351.72 L594.29,350.21 L594.44,348.7 L594.58,347.18 L594.73,345.67 L594.87,344.15 L595.01,342.64 L595.16,341.12 L595.3,339.61 L595.45,338.09 L595.59,336.58 L595.73,335.06 L595.88,333.55 L596.02,332.03 L596.17,330.52 L596.31,329.01 L596.46,327.5 L596.6,325.98 L596.75,324.47 L596.89,322.96 L597.04,321.45 L597.18,319.94 L597.32,318.43 L597.47,316.93 L597.61,315.42 L597.76,313.92 L597.9,312.41 L598.05,310.91 L598.19,309.41 L598.33,307.91 L598.48,306.41 L598.62,304.91 L598.77,303.42 L598.91,301.92 L599.05,300.43 L599.2,298.94 L599.34,297.45 L599.48,295.97 L599.63,294.48 L599.77,293 L599.91,291.52 L600.05,290.04 L600.19,288.56 L600.34,287.09 L600.48,285.61 L600.62,284.14 L600.76,282.67 L600.9,281.2 L601.04,279.73 L601.18,278.26 L601.32,276.8 L601.46,275.33 L601.6,273.86 L601.74,272.39 L601.88,270.92 L602.02,269.45 L602.16,267.98 L602.29,266.5 L602.43,265.03 L602.57,263.55 L602.7,262.07 L602.84,260.59 L602.97,259.1 L603.11,257.62 L603.24,256.13 L603.37,254.63 L603.5,253.13 L603.64,251.63 L603.77,250.12 L603.9,248.61 L604.03,247.09 L604.16,245.57 L604.28,244.05 L604.41,242.51 L604.54,240.98 L604.67,239.43 L604.79,237.88 L604.91,236.32 L605.04,234.76 L605.16,233.19 L605.28,231.61 L605.4,230.03 L605.52,228.43 L605.65,226.84 L605.77,225.24 L605.91,223.64 L606.05,222.05 L606.21,220.46 L606.38,218.89 L606.57,217.33 L606.78,215.79 L607.02,214.27 L607.28,212.78 L607.57,211.31 L607.89,209.88 L608.24,208.47 L608.64,207.11 L609.07,205.78 L609.54,204.5 L610.06,203.26 L610.63,202.08 L611.25,200.94 L611.92,199.87 L612.66,199.11 L613.46,199.2 L614.29,200.11 L615.08,201.47 L615.76,202.96 L616.34,204.47 L616.8,205.99 L617.17,207.51 L617.46,209.05 L617.67,210.59 L617.82,212.14 L617.91,213.69 L617.96,215.25 L617.97,216.8 L617.96,218.35 L617.94,219.9 L617.92,221.45 L617.9,222.99 L617.91,224.53 L617.93,226.06 L617.99,227.58 L618.06,229.09 L618.15,230.6 L618.26,232.1 L618.38,233.6 L618.52,235.1 L618.66,236.59 L618.81,238.08 L618.97,239.57 L619.13,241.05 L619.28,242.54 L619.44,244.03 L619.59,245.51 L619.73,247 L619.86,248.49 L619.98,249.98 L620.09,251.48 L620.19,252.97 L620.28,254.47 L620.36,255.97 L620.44,257.47 L620.51,258.98 L620.58,260.48 L620.64,261.99 L620.7,263.49 L620.76,265 L620.82,266.51 L620.87,268.01 L620.93,269.52 L620.99,271.03 L621.05,272.54 L621.12,274.05 L621.19,275.55 L621.26,277.06 L621.34,278.57 L621.43,280.07 L621.52,281.58 L621.63,283.08 L621.74,284.58 L621.86,286.08 L622,287.58 L622.14,289.08 L622.31,290.58 L622.48,292.07 L622.67,293.56 L622.88,295.05 L623.1,296.54 L623.34,298.02 L623.6,299.5" fill="none" stroke="#ff0000" stroke-width="4.6" stroke-linecap="round" stroke-linejoin="round"/>
<path d="M474.9,623.44 L476.29,623.34 L477.69,623.26 L479.11,623.19 L480.55,623.13 L482,623.09 L483.47,623.06 L484.95,623.03 L486.44,623.02 L487.95,623.01 L489.47,623.01 L490.99,623.01 L492.53,623.02 L494.07,623.03 L495.63,623.03 L497.18,623.04 L498.75,623.05 L500.32,623.05 L501.89,623.05 L503.46,623.04 L505.04,623.02 L506.61,623 L508.19,622.96 L509.77,622.91 L511.34,622.85 L512.91,622.78 L514.48,622.69 L516.04,622.59 L517.6,622.46 L519.15,622.32 L520.69,622.16 L522.23,621.97 L523.75,621.77 L525.27,621.53 L526.77,621.27 L528.26,620.99 L529.74,620.67 L531.21,620.33 L532.66,619.95 L534.09,619.55 L535.51,619.11 L536.91,618.63 L538.29,618.12 L539.65,617.56 L540.99,616.97 L542.31,616.34 L543.61,615.67 L544.88,614.96 L546.13,614.2 L547.35,613.39 L548.55,612.54 L549.73,611.65 L550.88,610.72 L552,609.74 L553.1,608.74 L554.17,607.69 L555.22,606.61 L556.25,605.51 L557.25,604.37 L558.22,603.2 L559.17,602.01 L560.1,600.8 L561,599.56 L561.87,598.3 L562.72,597.03 L563.55,595.74 L564.36,594.44 L565.14,593.12 L565.89,591.79 L566.62,590.46 L567.33,589.11 L568.01,587.76 L568.68,586.41 L569.32,585.04 L569.94,583.67 L570.54,582.29 L571.12,580.91 L571.68,579.52 L572.23,578.12 L572.76,576.72 L573.27,575.31 L573.76,573.9 L574.24,572.48 L574.71,571.06 L575.16,569.63 L575.6,568.2 L576.03,566.76 L576.45,565.32 L576.85,563.87 L577.25,562.42 L577.63,560.97 L578.01,559.51 L578.38,558.05 L578.74,556.58 L579.1,555.12 L579.45,553.65 L579.8,552.18 L580.14,550.7 L580.47,549.22 L580.81,547.75 L581.14,546.26 L581.47,544.78 L581.8,543.3 L582.13,541.81 L582.46,540.33 L582.79,538.84 L583.13,537.36 L583.47,535.87 L583.81,534.38 L584.15,532.89 L584.5,531.4 L584.84,529.92 L585.19,528.43 L585.55,526.94 L585.9,525.45 L586.26,523.97 L586.61,522.48 L586.97,520.99 L587.33,519.51 L587.69,518.02 L588.04,516.54 L588.4,515.05 L588.76,513.57 L589.11,512.09 L589.46,510.6 L589.81,509.12 L590.16,507.64 L590.51,506.17 L590.85,504.69 L591.19,503.21 L591.52,501.74 L591.85,500.27 L592.18,498.79 L592.5,497.32 L592.82,495.86 L593.13,494.39 L593.43,492.92 L593.73,491.46 L594.03,490 L594.31,488.54 L594.6,487.08 L594.87,485.63 L595.14,484.17 L595.4,482.72 L595.66,481.26 L595.92,479.81 L596.17,478.36 L596.42,476.9 L596.66,475.45 L596.9,473.99 L597.14,472.54 L597.38,471.08 L597.62,469.62 L597.85,468.16 L598.08,466.7 L598.32,465.23 L598.55,463.76 L598.78,462.29 L599.02,460.82 L599.25,459.34 L599.48,457.86 L599.72,456.37 L599.96,454.88 L600.2,453.39 L600.45,451.89 L600.69,450.38 L600.94,448.87 L601.2,447.36 L601.46,445.83 L601.72,444.3 L601.99,442.77 L602.26,441.23 L602.54,439.68 L602.83,438.12 L603.12,436.56 L603.42,434.99 L603.73,433.41 L604.04,431.82 L604.36,430.22 L604.69,428.61 L605.03,427 L605.39,425.39 L605.76,423.8 L606.16,422.24 L606.58,420.72 L607.04,419.26 L607.53,417.87 L608.07,416.56 L608.65,415.34 L609.28,414.23 L609.97,413.25 L610.73,412.4 L611.52,411.79 L612.32,411.57 L613.12,411.75 L613.9,412.29 L614.67,413.14 L615.42,414.24 L616.14,415.56 L616.83,417.02 L617.48,418.6 L618.1,420.23 L618.66,421.86 L619.17,423.48 L619.64,425.09 L620.07,426.68 L620.46,428.25 L620.81,429.82 L621.12,431.37 L621.4,432.9 L621.65,434.43 L621.87,435.95 L622.07,437.46 L622.24,438.95 L622.39,440.45 L622.53,441.93 L622.65,443.41 L622.75,444.88 L622.85,446.35 L622.94,447.81 L623.02,449.27 L623.1,450.73 L623.18,452.19 L623.26,453.64 L623.35,455.1 L623.44,456.56 L623.54,458.02 L623.66,459.48 L623.79,460.94 L623.93,462.41 L624.1,463.89 L624.29,465.37 L624.5,466.85 L624.74,468.35 L625.01,469.85 L625.32,471.36 L625.65,472.88 L626.03,474.41 L626.44,475.95 L626.9,477.5" fill="none" stroke="#ff0000" stroke-width="4.6" stroke-linecap="round" stroke-linejoin="round" stroke-dasharray="8 17" stroke-dashoffset="14.37"/>
<path d="M438.2,623 L439.47,622.68 L440.81,622.46 L442.2,622.33 L443.65,622.27 L445.15,622.29 L446.68,622.35 L448.25,622.45 L449.85,622.59 L451.46,622.74 L453.09,622.89 L454.72,623.03 L456.35,623.15 L457.97,623.24 L459.58,623.29 L461.16,623.27 L462.72,623.19 L464.24,623.02 L465.72,622.76 L467.15,622.4 L468.53,621.92 L469.86,621.35 L471.14,620.67 L472.38,619.91 L473.57,619.07 L474.72,618.16 L475.82,617.18 L476.89,616.14 L477.93,615.05 L478.92,613.91 L479.89,612.74 L480.82,611.54 L481.73,610.31 L482.6,609.07 L483.45,607.81 L484.27,606.55 L485.07,605.28 L485.85,603.99 L486.6,602.7 L487.32,601.39 L488.03,600.08 L488.71,598.75 L489.37,597.42 L490.01,596.08 L490.63,594.73 L491.23,593.37 L491.81,592.01 L492.37,590.63 L492.92,589.25 L493.45,587.87 L493.96,586.47 L494.45,585.07 L494.93,583.66 L495.4,582.25 L495.85,580.83 L496.29,579.4 L496.71,577.98 L497.13,576.54 L497.53,575.1 L497.92,573.66 L498.3,572.21 L498.67,570.76 L499.03,569.3 L499.39,567.84 L499.73,566.38 L500.07,564.91 L500.4,563.45 L500.73,561.98 L501.05,560.5 L501.37,559.03 L501.68,557.55 L501.99,556.08 L502.29,554.6 L502.6,553.12 L502.9,551.64 L503.2,550.16 L503.5,548.68 L503.8,547.2 L504.1,545.72 L504.4,544.24 L504.69,542.76 L504.99,541.28 L505.29,539.8 L505.59,538.33 L505.88,536.85 L506.18,535.37 L506.48,533.89 L506.77,532.41 L507.07,530.93 L507.36,529.45 L507.66,527.97 L507.95,526.49 L508.25,525.01 L508.54,523.53 L508.83,522.06 L509.13,520.58 L509.42,519.1 L509.71,517.62 L510,516.14 L510.29,514.66 L510.58,513.18 L510.87,511.7 L511.16,510.23 L511.45,508.75 L511.74,507.27 L512.03,505.79 L512.32,504.31 L512.61,502.83 L512.89,501.35 L513.18,499.88 L513.47,498.4 L513.75,496.92 L514.04,495.44 L514.33,493.96 L514.61,492.48 L514.9,491 L515.18,489.53 L515.46,488.05 L515.75,486.57 L516.03,485.09 L516.31,483.61 L516.59,482.13 L516.87,480.65 L517.16,479.18 L517.44,477.7 L517.72,476.22 L518,474.74 L518.28,473.26 L518.55,471.78 L518.83,470.3 L519.11,468.83 L519.39,467.35 L519.67,465.87 L519.94,464.39 L520.22,462.91 L520.49,461.43 L520.77,459.95 L521.04,458.48 L521.32,457 L521.59,455.52 L521.86,454.04 L522.14,452.56 L522.41,451.08 L522.68,449.6 L522.95,448.12 L523.22,446.65 L523.5,445.17 L523.77,443.69 L524.03,442.21 L524.3,440.73 L524.57,439.25 L524.84,437.77 L525.11,436.29 L525.38,434.81 L525.64,433.34 L525.91,431.86 L526.17,430.38 L526.44,428.9 L526.7,427.42 L526.97,425.94 L527.23,424.46 L527.5,422.98 L527.76,421.5 L528.02,420.02 L528.28,418.54 L528.54,417.06 L528.8,415.58 L529.06,414.1 L529.32,412.62 L529.58,411.14 L529.84,409.66 L530.1,408.19 L530.36,406.71 L530.61,405.23 L530.87,403.75 L531.13,402.27 L531.38,400.79 L531.64,399.31 L531.89,397.83 L532.15,396.35 L532.4,394.86 L532.65,393.38 L532.91,391.9 L533.16,390.42 L533.41,388.94 L533.66,387.46 L533.91,385.98 L534.16,384.5 L534.41,383.02 L534.66,381.54 L534.91,380.06 L535.15,378.58 L535.4,377.1 L535.65,375.62 L535.89,374.13 L536.14,372.65 L536.38,371.17 L536.63,369.69 L536.87,368.21 L537.11,366.73 L537.36,365.25 L537.6,363.76 L537.84,362.28 L538.08,360.8 L538.32,359.32 L538.56,357.84 L538.8,356.35 L539.04,354.87 L539.28,353.39 L539.51,351.91 L539.75,350.43 L539.99,348.94 L540.22,347.46 L540.46,345.98 L540.69,344.49 L540.93,343.01 L541.16,341.53 L541.39,340.05 L541.63,338.56 L541.86,337.08 L542.09,335.6 L542.32,334.11 L542.55,332.63 L542.78,331.14 L543.01,329.66 L543.24,328.18 L543.46,326.69 L543.69,325.21 L543.92,323.72 L544.14,322.24 L544.37,320.76 L544.59,319.27 L544.82,317.79 L545.04,316.3 L545.26,314.82 L545.48,313.33 L545.71,311.85 L545.93,310.36 L546.15,308.88 L546.37,307.39 L546.58,305.91 L546.8,304.42 L547.02,302.93 L547.24,301.45 L547.45,299.96 L547.67,298.48 L547.89,296.99 L548.1,295.5 L548.31,294.02 L548.53,292.53 L548.74,291.04 L548.95,289.56 L549.16,288.07 L549.37,286.58 L549.59,285.1 L549.79,283.61 L550,282.12 L550.21,280.63 L550.42,279.14 L550.63,277.66 L550.83,276.17 L551.04,274.68 L551.24,273.19 L551.45,271.7 L551.65,270.21 L551.85,268.73 L552.06,267.24 L552.26,265.75 L552.46,264.26 L552.66,262.77 L552.86,261.28 L553.06,259.79 L553.26,258.3 L553.45,256.81 L553.65,255.32 L553.85,253.83 L554.04,252.34 L554.24,250.85 L554.43,249.36 L554.63,247.87 L554.82,246.38 L555.01,244.89 L555.2,243.39 L555.39,241.9 L555.58,240.41 L555.77,238.92 L555.96,237.43 L556.15,235.93 L556.34,234.44 L556.52,232.95 L556.71,231.46 L556.9,229.96 L557.08,228.47 L557.26,226.98 L557.45,225.48 L557.63,223.99 L557.81,222.5 L557.99,221 L558.17,219.51 L558.35,218.02 L558.53,216.52 L558.71,215.03 L558.89,213.53 L559.06,212.04 L559.24,210.54 L559.41,209.05 L559.59,207.55 L559.76,206.06 L559.93,204.56 L560.1,203.07 L560.27,201.57 L560.44,200.07 L560.61,198.58 L560.78,197.08 L560.94,195.59 L561.11,194.09 L561.27,192.59 L561.44,191.1 L561.6,189.6 L561.76,188.1 L561.92,186.6 L562.08,185.11 L562.24,183.61 L562.4,182.11 L562.55,180.62 L562.71,179.12 L562.86,177.62 L563.02,176.12 L563.17,174.62 L563.32,173.13 L563.47,171.63 L563.62,170.13 L563.77,168.63 L563.91,167.13 L564.06,165.63 L564.2,164.13 L564.35,162.64 L564.49,161.14 L564.63,159.64 L564.77,158.14 L564.91,156.64 L565.05,155.14 L565.18,153.64 L565.32,152.14 L565.45,150.64 L565.58,149.14 L565.71,147.64 L565.84,146.14 L565.97,144.64 L566.1,143.14 L566.23,141.64 L566.35,140.14 L566.47,138.64 L566.6,137.14 L566.72,135.64 L566.85,134.14 L566.98,132.64 L567.11,131.14 L567.25,129.63 L567.4,128.13 L567.55,126.63 L567.72,125.12 L567.89,123.62 L568.07,122.11 L568.27,120.61 L568.49,119.1 L568.71,117.59 L568.96,116.08 L569.22,114.57 L569.5,113.06 L569.8,111.55 L570.12,110.03 L570.46,108.52 L570.82,107 L571.21,105.48 L571.63,103.96 L572.07,102.44 L572.54,100.92 L573.04,99.42 L573.57,98.04 L574.12,96.86 L574.7,95.97 L575.31,95.44 L575.93,95.29 L576.56,95.46 L577.18,95.89 L577.76,96.53 L578.32,97.33 L578.83,98.27 L579.32,99.34 L579.78,100.53 L580.21,101.83 L580.61,103.22 L581,104.68 L581.37,106.21 L581.72,107.79 L582.06,109.4 L582.39,111.04 L582.71,112.69 L583.03,114.34 L583.34,115.98 L583.65,117.61 L583.96,119.23 L584.26,120.85 L584.56,122.46 L584.86,124.07 L585.15,125.67 L585.44,127.26 L585.73,128.85 L586.01,130.43 L586.3,132 L586.57,133.57 L586.85,135.13 L587.12,136.69 L587.39,138.24 L587.65,139.79 L587.91,141.33 L588.17,142.87 L588.43,144.41 L588.68,145.94 L588.93,147.46 L589.18,148.98 L589.43,150.5 L589.67,152.02 L589.91,153.53 L590.15,155.03 L590.38,156.54 L590.62,158.04 L590.85,159.53 L591.08,161.03 L591.3,162.52 L591.53,164.01 L591.75,165.5 L591.97,166.98 L592.18,168.47 L592.4,169.95 L592.61,171.43 L592.82,172.91 L593.03,174.38 L593.24,175.86 L593.45,177.33 L593.65,178.81 L593.85,180.28 L594.05,181.75 L594.25,183.22 L594.45,184.69 L594.65,186.17 L594.84,187.64 L595.03,189.11 L595.22,190.58 L595.41,192.05 L595.6,193.53 L595.79,195 L595.97,196.47 L596.16,197.95 L596.34,199.42 L596.52,200.9 L596.7,202.37 L596.88,203.85 L597.06,205.33 L597.24,206.8 L597.41,208.28 L597.59,209.76 L597.76,211.24 L597.93,212.71 L598.1,214.19 L598.27,215.67 L598.44,217.15 L598.6,218.63 L598.77,220.11 L598.93,221.6 L599.1,223.08 L599.26,224.56 L599.42,226.04 L599.58,227.52 L599.74,229.01 L599.9,230.49 L600.05,231.97 L600.21,233.46 L600.36,234.94 L600.52,236.43 L600.67,237.91 L600.82,239.4 L600.97,240.89 L601.12,242.37 L601.27,243.86 L601.41,245.35 L601.56,246.83 L601.71,248.32 L601.85,249.81 L601.99,251.3 L602.14,252.79 L602.28,254.28 L602.42,255.77 L602.56,257.26 L602.7,258.75 L602.83,260.24 L602.97,261.73 L603.11,263.22 L603.24,264.71 L603.38,266.2 L603.51,267.7 L603.64,269.19 L603.77,270.68 L603.91,272.17 L604.04,273.67 L604.17,275.16 L604.29,276.65 L604.42,278.15 L604.55,279.64 L604.68,281.14 L604.8,282.63 L604.93,284.13 L605.05,285.62 L605.18,287.12 L605.3,288.61 L605.42,290.11 L605.54,291.61 L605.66,293.1 L605.78,294.6 L605.9,296.1 L606.02,297.6 L606.14,299.09 L606.26,300.59 L606.38,302.09 L606.49,303.59 L606.61,305.09 L606.73,306.58 L606.84,308.08 L606.96,309.58 L607.07,311.08 L607.18,312.58 L607.3,314.08 L607.41,315.58 L607.52,317.08 L607.64,318.58 L607.75,320.08 L607.86,321.58 L607.97,323.08 L608.08,324.58 L608.19,326.08 L608.3,327.59 L608.41,329.09 L608.51,330.59 L608.62,332.09 L608.73,333.59 L608.84,335.09 L608.95,336.6 L609.05,338.1 L609.16,339.6 L609.27,341.1 L609.37,342.61 L609.48,344.11 L609.58,345.61 L609.69,347.11 L609.79,348.62 L609.9,350.12 L610,351.62 L610.11,353.13 L610.21,354.63 L610.31,356.13 L610.42,357.64 L610.52,359.14 L610.63,360.65 L610.73,362.15 L610.83,363.65 L610.94,365.16 L611.04,366.66 L611.14,368.17 L611.24,369.67 L611.35,371.18 L611.45,372.68 L611.55,374.18 L611.65,375.69 L611.76,377.19 L611.86,378.7 L611.96,380.2 L612.06,381.71 L612.17,383.21 L612.27,384.72 L612.37,386.22 L612.47,387.73 L612.58,389.23 L612.68,390.74 L612.78,392.24 L612.89,393.75 L612.99,395.25 L613.09,396.75 L613.19,398.26 L613.3,399.76 L613.4,401.27 L613.51,402.77 L613.61,404.28 L613.71,405.78 L613.82,407.29 L613.92,408.79 L614.03,410.3 L614.13,411.8 L614.24,413.31 L614.34,414.81 L614.45,416.32 L614.55,417.82 L614.66,419.32 L614.76,420.83 L614.87,422.33 L614.98,423.84 L615.09,425.34 L615.19,426.85 L615.3,428.35 L615.41,429.85 L615.52,431.36 L615.63,432.86 L615.74,434.36 L615.85,435.87 L615.96,437.37 L616.07,438.87 L616.18,440.38 L616.29,441.88 L616.4,443.38 L616.51,444.89 L616.63,446.39 L616.74,447.89 L616.85,449.4 L616.97,450.9 L617.08,452.4 L617.2,453.9 L617.31,455.4 L617.43,456.91 L617.55,458.41 L617.66,459.91 L617.78,461.41 L617.9,462.91 L618.02,464.41 L618.14,465.91 L618.26,467.42 L618.38,468.92 L618.5,470.42 L618.63,471.92 L618.75,473.42 L618.87,474.92 L619,476.42 L619.12,477.92 L619.25,479.42 L619.38,480.91 L619.5,482.41 L619.63,483.91 L619.76,485.41 L619.89,486.91 L620.02,488.41 L620.15,489.91 L620.28,491.4 L620.42,492.9 L620.55,494.4 L620.68,495.89 L620.82,497.39 L620.96,498.89 L621.09,500.38 L621.23,501.88 L621.37,503.38 L621.51,504.87 L621.65,506.37 L621.79,507.86 L621.93,509.36 L622.08,510.85 L622.22,512.35 L622.37,513.84 L622.51,515.33 L622.66,516.83 L622.81,518.32 L622.96,519.81 L623.11,521.3 L623.26,522.8 L623.41,524.29 L623.57,525.78 L623.72,527.27 L623.88,528.76 L624.03,530.25 L624.19,531.74 L624.35,533.23 L624.51,534.72 L624.67,536.21 L624.83,537.7 L624.99,539.19 L625.16,540.68 L625.32,542.17 L625.49,543.66 L625.66,545.14 L625.83,546.63 L626,548.12 L626.17,549.6 L626.34,551.09 L626.52,552.57 L626.69,554.06 L626.87,555.54 L627.05,557.03 L627.23,558.51 L627.41,560" fill="none" stroke="#009000" stroke-width="4.6" stroke-linecap="round" stroke-linejoin="round"/>
<path d="M438.2,623.59 L439.5,623.63 L440.84,623.68 L442.21,623.73 L443.62,623.78 L445.07,623.82 L446.54,623.86 L448.04,623.9 L449.57,623.92 L451.11,623.94 L452.68,623.94 L454.26,623.93 L455.85,623.9 L457.44,623.85 L459.05,623.78 L460.66,623.69 L462.26,623.57 L463.86,623.43 L465.46,623.25 L467.05,623.05 L468.62,622.81 L470.18,622.53 L471.72,622.22 L473.24,621.87 L474.74,621.48 L476.21,621.04 L477.64,620.56 L479.05,620.03 L480.41,619.45 L481.74,618.82 L483.03,618.13 L484.27,617.39 L485.46,616.6 L486.62,615.75 L487.73,614.85 L488.8,613.91 L489.84,612.92 L490.84,611.9 L491.81,610.83 L492.75,609.72 L493.66,608.59 L494.55,607.42 L495.41,606.22 L496.24,605 L497.06,603.75 L497.86,602.48 L498.64,601.19 L499.4,599.89 L500.16,598.57 L500.9,597.24 L501.63,595.91 L502.36,594.56 L503.08,593.22 L503.79,591.87 L504.51,590.52 L505.22,589.17 L505.92,587.82 L506.62,586.47 L507.32,585.11 L508.02,583.75 L508.71,582.4 L509.4,581.04 L510.09,579.68 L510.77,578.31 L511.45,576.95 L512.12,575.59 L512.79,574.22 L513.46,572.85 L514.13,571.49 L514.79,570.12 L515.44,568.75 L516.1,567.37 L516.75,566 L517.4,564.63 L518.04,563.25 L518.69,561.88 L519.32,560.5 L519.96,559.12 L520.59,557.74 L521.22,556.36 L521.84,554.98 L522.47,553.6 L523.08,552.21 L523.7,550.83 L524.31,549.44 L524.92,548.06 L525.53,546.67 L526.13,545.28 L526.73,543.89 L527.33,542.5 L527.92,541.11 L528.51,539.72 L529.1,538.33 L529.68,536.93 L530.26,535.54 L530.84,534.14 L531.42,532.75 L531.99,531.35 L532.56,529.95 L533.13,528.56 L533.69,527.16 L534.25,525.76 L534.81,524.36 L535.36,522.96 L535.91,521.56 L536.46,520.16 L537.01,518.75 L537.55,517.35 L538.09,515.95 L538.63,514.54 L539.16,513.14 L539.69,511.73 L540.22,510.33 L540.74,508.92 L541.27,507.52 L541.79,506.11 L542.3,504.7 L542.82,503.3 L543.33,501.89 L543.84,500.48 L544.34,499.07 L544.85,497.66 L545.35,496.26 L545.85,494.85 L546.34,493.44 L546.83,492.03 L547.32,490.62 L547.81,489.21 L548.3,487.8 L548.78,486.39 L549.26,484.98 L549.73,483.57 L550.21,482.15 L550.68,480.74 L551.15,479.33 L551.62,477.92 L552.08,476.51 L552.54,475.1 L553,473.69 L553.46,472.28 L553.91,470.87 L554.36,469.45 L554.81,468.04 L555.26,466.63 L555.7,465.22 L556.14,463.81 L556.58,462.4 L557.02,460.99 L557.45,459.58 L557.89,458.17 L558.32,456.75 L558.74,455.33 L559.17,453.91 L559.59,452.48 L560.01,451.05 L560.42,449.61 L560.84,448.17 L561.25,446.71 L561.66,445.25 L562.06,443.78 L562.46,442.29 L562.86,440.8 L563.26,439.29 L563.65,437.77 L564.04,436.24 L564.43,434.69 L564.81,433.13 L565.19,431.55 L565.57,429.95 L565.94,428.34 L566.32,426.71 L566.68,425.05 L567.05,423.38 L567.41,421.7 L567.79,420.03 L568.19,418.39 L568.61,416.78 L569.06,415.24 L569.55,413.78 L570.1,412.41 L570.7,411.16 L571.37,410.03 L572.11,409.06 L572.94,408.25 L573.82,407.67 L574.74,407.36 L575.66,407.37 L576.59,407.68 L577.51,408.24 L578.42,409.02 L579.33,409.98 L580.22,411.08 L581.09,412.29 L581.94,413.56 L582.76,414.87 L583.55,416.19 L584.32,417.52 L585.06,418.87 L585.78,420.22 L586.47,421.59 L587.14,422.96 L587.78,424.34 L588.41,425.73 L589.01,427.13 L589.6,428.54 L590.17,429.95 L590.72,431.37 L591.25,432.8 L591.77,434.23 L592.27,435.67 L592.76,437.11 L593.24,438.55 L593.71,440 L594.16,441.45 L594.61,442.9 L595.05,444.36 L595.48,445.81 L595.9,447.27 L596.32,448.73 L596.73,450.19 L597.13,451.65 L597.53,453.11 L597.93,454.58 L598.31,456.04 L598.69,457.5 L599.07,458.97 L599.44,460.43 L599.8,461.9 L600.16,463.37 L600.52,464.83 L600.87,466.3 L601.21,467.77 L601.55,469.24 L601.88,470.71 L602.21,472.18 L602.54,473.66 L602.86,475.13 L603.18,476.6 L603.49,478.08 L603.8,479.55 L604.11,481.03 L604.41,482.5 L604.71,483.98 L605.01,485.45 L605.3,486.93 L605.59,488.41 L605.88,489.89 L606.16,491.36 L606.44,492.84 L606.72,494.32 L606.99,495.8 L607.27,497.28 L607.54,498.76 L607.81,500.24 L608.08,501.72 L608.34,503.2 L608.61,504.68 L608.87,506.17 L609.13,507.65 L609.39,509.13 L609.65,510.61 L609.9,512.09 L610.16,513.58 L610.42,515.06 L610.67,516.54 L610.93,518.02 L611.18,519.51 L611.43,520.99 L611.69,522.47 L611.94,523.95 L612.2,525.44 L612.45,526.92 L612.7,528.4 L612.96,529.88 L613.21,531.37 L613.47,532.85 L613.73,534.33 L613.99,535.81 L614.24,537.3 L614.5,538.78 L614.77,540.26 L615.03,541.74 L615.29,543.22 L615.56,544.7 L615.83,546.18 L616.1,547.66 L616.37,549.14 L616.65,550.62 L616.93,552.1 L617.21,553.58 L617.49,555.06 L617.77,556.54 L618.06,558.02 L618.35,559.49 L618.65,560.97 L618.94,562.45 L619.25,563.92 L619.55,565.4 L619.86,566.87 L620.17,568.35 L620.49,569.82 L620.81,571.3 L621.13,572.77 L621.46,574.24 L621.79,575.71 L622.13,577.18 L622.47,578.65 L622.82,580.12 L623.17,581.59 L623.53,583.06 L623.89,584.53 L624.26,585.99 L624.63,587.46 L625.01,588.92 L625.39,590.39 L625.78,591.85 L626.18,593.31 L626.58,594.78 L626.99,596.24 L627.41,597.7" fill="none" stroke="#009000" stroke-width="4.6" stroke-linecap="round" stroke-linejoin="round" stroke-dasharray="8 17" stroke-dashoffset="4.8"/>
</g>
<line x1="161.5" y1="35" x2="161.5" y2="623.97" stroke="#000" stroke-width="1.5" stroke-dasharray="5.6 5.1" stroke-dashoffset="4.3"/>
<line x1="452.5" y1="35" x2="452.5" y2="623.97" stroke="#000" stroke-width="1.5" stroke-dasharray="5.6 5.1" stroke-dashoffset="4.3"/>
<line x1="627.1" y1="35" x2="627.1" y2="623.97" stroke="#000" stroke-width="1.5" stroke-dasharray="5.6 5.1" stroke-dashoffset="4.3"/>
<rect x="115" y="219" width="255" height="44" fill="#fff"/>
<rect x="115" y="273" width="255" height="81" fill="#fff"/>
<text x="122.7" y="251.8" font-size="28.7" fill="#000000" text-anchor="start">Trap density [cm<tspan dy="-11" font-size="19.3">-3</tspan><tspan dy="11">]:</tspan></text>
<line x1="120.2" y1="295.5" x2="183.5" y2="295.5" stroke="#0000ff" stroke-width="4.8" stroke-linecap="round"/>
<line x1="120.2" y1="334.8" x2="176.7" y2="334.8" stroke="#0000ff" stroke-width="4.8" stroke-linecap="round" stroke-dasharray="7.2 17.1"/>
<text x="191.6" y="304.7" font-size="28.7" fill="#000000" text-anchor="start">5 x 10<tspan dy="-11" font-size="19.3">15</tspan></text>
<text x="191.6" y="343" font-size="28.7" fill="#000000" text-anchor="start">2.45 x 10<tspan dy="-11" font-size="19.3">16</tspan></text>
<text x="104.4" y="89.3" font-size="42.6" fill="#000000" text-anchor="start">(a) I = 2 mA</text>
<line x1="161.5" y1="623.97" x2="161.5" y2="614.97" stroke="#000000" stroke-width="2" stroke-linecap="butt"/>
<line x1="161.5" y1="35" x2="161.5" y2="44" stroke="#000000" stroke-width="2" stroke-linecap="butt"/>
<text x="161.5" y="654.8" font-size="27" fill="#000000" text-anchor="middle">265</text>
<line x1="307" y1="623.97" x2="307" y2="614.97" stroke="#000000" stroke-width="2" stroke-linecap="butt"/>
<line x1="307" y1="35" x2="307" y2="44" stroke="#000000" stroke-width="2" stroke-linecap="butt"/>
<text x="307" y="654.8" font-size="27" fill="#000000" text-anchor="middle">270</text>
<line x1="452.5" y1="623.97" x2="452.5" y2="614.97" stroke="#000000" stroke-width="2" stroke-linecap="butt"/>
<line x1="452.5" y1="35" x2="452.5" y2="44" stroke="#000000" stroke-width="2" stroke-linecap="butt"/>
<text x="452.5" y="654.8" font-size="27" fill="#000000" text-anchor="middle">275</text>
<line x1="598" y1="623.97" x2="598" y2="614.97" stroke="#000000" stroke-width="2" stroke-linecap="butt"/>
<line x1="598" y1="35" x2="598" y2="44" stroke="#000000" stroke-width="2" stroke-linecap="butt"/>
<text x="598" y="654.8" font-size="27" fill="#000000" text-anchor="middle">280</text>
<line x1="743.5" y1="623.97" x2="743.5" y2="614.97" stroke="#000000" stroke-width="2" stroke-linecap="butt"/>
<line x1="743.5" y1="35" x2="743.5" y2="44" stroke="#000000" stroke-width="2" stroke-linecap="butt"/>
<text x="743.5" y="654.8" font-size="27" fill="#000000" text-anchor="middle">285</text>
<line x1="234.25" y1="623.97" x2="234.25" y2="619.97" stroke="#000000" stroke-width="2" stroke-linecap="butt"/>
<line x1="234.25" y1="35" x2="234.25" y2="39" stroke="#000000" stroke-width="2" stroke-linecap="butt"/>
<line x1="379.75" y1="623.97" x2="379.75" y2="619.97" stroke="#000000" stroke-width="2" stroke-linecap="butt"/>
<line x1="379.75" y1="35" x2="379.75" y2="39" stroke="#000000" stroke-width="2" stroke-linecap="butt"/>
<line x1="525.25" y1="623.97" x2="525.25" y2="619.97" stroke="#000000" stroke-width="2" stroke-linecap="butt"/>
<line x1="525.25" y1="35" x2="525.25" y2="39" stroke="#000000" stroke-width="2" stroke-linecap="butt"/>
<line x1="670.75" y1="623.97" x2="670.75" y2="619.97" stroke="#000000" stroke-width="2" stroke-linecap="butt"/>
<line x1="670.75" y1="35" x2="670.75" y2="39" stroke="#000000" stroke-width="2" stroke-linecap="butt"/>
<line x1="88.75" y1="35" x2="97.75" y2="35" stroke="#000000" stroke-width="2" stroke-linecap="butt"/>
<text x="79.5" y="42.3" font-size="27" fill="#000000" text-anchor="end">2</text>
<line x1="88.75" y1="104.29" x2="97.75" y2="104.29" stroke="#000000" stroke-width="2" stroke-linecap="butt"/>
<text x="79.5" y="111.59" font-size="27" fill="#000000" text-anchor="end">1</text>
<line x1="88.75" y1="173.58" x2="97.75" y2="173.58" stroke="#000000" stroke-width="2" stroke-linecap="butt"/>
<text x="79.5" y="180.88" font-size="27" fill="#000000" text-anchor="end">0</text>
<line x1="88.75" y1="242.87" x2="97.75" y2="242.87" stroke="#000000" stroke-width="2" stroke-linecap="butt"/>
<text x="79.5" y="250.17" font-size="27" fill="#000000" text-anchor="end">-1</text>
<line x1="88.75" y1="312.16" x2="97.75" y2="312.16" stroke="#000000" stroke-width="2" stroke-linecap="butt"/>
<text x="79.5" y="319.46" font-size="27" fill="#000000" text-anchor="end">-2</text>
<line x1="88.75" y1="381.45" x2="97.75" y2="381.45" stroke="#000000" stroke-width="2" stroke-linecap="butt"/>
<text x="79.5" y="388.75" font-size="27" fill="#000000" text-anchor="end">-3</text>
<line x1="88.75" y1="450.74" x2="97.75" y2="450.74" stroke="#000000" stroke-width="2" stroke-linecap="butt"/>
<text x="79.5" y="458.04" font-size="27" fill="#000000" text-anchor="end">-4</text>
<line x1="88.75" y1="520.03" x2="97.75" y2="520.03" stroke="#000000" stroke-width="2" stroke-linecap="butt"/>
<text x="79.5" y="527.33" font-size="27" fill="#000000" text-anchor="end">-5</text>
<line x1="88.75" y1="589.32" x2="97.75" y2="589.32" stroke="#000000" stroke-width="2" stroke-linecap="butt"/>
<text x="79.5" y="596.62" font-size="27" fill="#000000" text-anchor="end">-6</text>
<line x1="88.75" y1="69.65" x2="92.75" y2="69.65" stroke="#000000" stroke-width="2" stroke-linecap="butt"/>
<line x1="88.75" y1="138.94" x2="92.75" y2="138.94" stroke="#000000" stroke-width="2" stroke-linecap="butt"/>
<line x1="88.75" y1="208.23" x2="92.75" y2="208.23" stroke="#000000" stroke-width="2" stroke-linecap="butt"/>
<line x1="88.75" y1="277.51" x2="92.75" y2="277.51" stroke="#000000" stroke-width="2" stroke-linecap="butt"/>
<line x1="88.75" y1="346.81" x2="92.75" y2="346.81" stroke="#000000" stroke-width="2" stroke-linecap="butt"/>
<line x1="88.75" y1="416.1" x2="92.75" y2="416.1" stroke="#000000" stroke-width="2" stroke-linecap="butt"/>
<line x1="88.75" y1="485.39" x2="92.75" y2="485.39" stroke="#000000" stroke-width="2" stroke-linecap="butt"/>
<line x1="88.75" y1="554.68" x2="92.75" y2="554.68" stroke="#000000" stroke-width="2" stroke-linecap="butt"/>
<line x1="88.75" y1="623.97" x2="92.75" y2="623.97" stroke="#000000" stroke-width="2" stroke-linecap="butt"/>
<line x1="816.3" y1="34" x2="816.3" y2="624.97" stroke="#0000ff" stroke-width="2" stroke-linecap="butt"/>
<line x1="816.3" y1="623.97" x2="807.3" y2="623.97" stroke="#0000ff" stroke-width="2" stroke-linecap="butt"/>
<text transform="translate(826.1,631.97) scale(1,1.08)" font-size="26.7" fill="#0000ff" text-anchor="start">0.0</text>
<line x1="816.3" y1="565.07" x2="812.3" y2="565.07" stroke="#0000ff" stroke-width="2" stroke-linecap="butt"/>
<line x1="816.3" y1="506.17" x2="807.3" y2="506.17" stroke="#0000ff" stroke-width="2" stroke-linecap="butt"/>
<text transform="translate(826.1,515.76) scale(1,1.08)" font-size="26.7" fill="#0000ff" text-anchor="start">5.0&#215;10<tspan dx="1" dy="-9.5" font-size="17.7">18</tspan></text>
<line x1="816.3" y1="447.27" x2="812.3" y2="447.27" stroke="#0000ff" stroke-width="2" stroke-linecap="butt"/>
<line x1="816.3" y1="388.37" x2="807.3" y2="388.37" stroke="#0000ff" stroke-width="2" stroke-linecap="butt"/>
<text transform="translate(826.1,397.97) scale(1,1.08)" font-size="26.7" fill="#0000ff" text-anchor="start">1.0&#215;10<tspan dx="1" dy="-9.5" font-size="17.7">19</tspan></text>
<line x1="816.3" y1="329.47" x2="812.3" y2="329.47" stroke="#0000ff" stroke-width="2" stroke-linecap="butt"/>
<line x1="816.3" y1="270.57" x2="807.3" y2="270.57" stroke="#0000ff" stroke-width="2" stroke-linecap="butt"/>
<text transform="translate(826.1,280.17) scale(1,1.08)" font-size="26.7" fill="#0000ff" text-anchor="start">1.5&#215;10<tspan dx="1" dy="-9.5" font-size="17.7">19</tspan></text>
<line x1="816.3" y1="211.67" x2="812.3" y2="211.67" stroke="#0000ff" stroke-width="2" stroke-linecap="butt"/>
<line x1="816.3" y1="152.77" x2="807.3" y2="152.77" stroke="#0000ff" stroke-width="2" stroke-linecap="butt"/>
<text transform="translate(826.1,162.37) scale(1,1.08)" font-size="26.7" fill="#0000ff" text-anchor="start">2.0&#215;10<tspan dx="1" dy="-9.5" font-size="17.7">19</tspan></text>
<line x1="816.3" y1="93.87" x2="812.3" y2="93.87" stroke="#0000ff" stroke-width="2" stroke-linecap="butt"/>
<line x1="816.3" y1="34.97" x2="807.3" y2="34.97" stroke="#0000ff" stroke-width="2" stroke-linecap="butt"/>
<text transform="translate(826.1,44.57) scale(1,1.08)" font-size="26.7" fill="#0000ff" text-anchor="start">2.5&#215;10<tspan dx="1" dy="-9.5" font-size="17.7">19</tspan></text>
<text transform="translate(972,574.6) rotate(-90)" font-size="37.6" fill="#0000ff">Electron density in QW (cm<tspan dy="-14.5" font-size="26">-3</tspan><tspan dy="14.5">)</tspan></text>
<line x1="998" y1="34" x2="998" y2="624.97" stroke="#ff0000" stroke-width="2" stroke-linecap="butt"/>
<line x1="998" y1="623.97" x2="989" y2="623.97" stroke="#ff0000" stroke-width="2" stroke-linecap="butt"/>
<text transform="translate(1007.8,631.97) scale(1,1.08)" font-size="26.7" fill="#ff0000" text-anchor="start">0.0</text>
<line x1="998" y1="581.9" x2="994" y2="581.9" stroke="#ff0000" stroke-width="2" stroke-linecap="butt"/>
<line x1="998" y1="539.84" x2="989" y2="539.84" stroke="#ff0000" stroke-width="2" stroke-linecap="butt"/>
<text transform="translate(1007.8,549.44) scale(1,1.08)" font-size="26.7" fill="#ff0000" text-anchor="start">5.0&#215;10<tspan dx="1" dy="-9.5" font-size="17.7">17</tspan></text>
<line x1="998" y1="497.77" x2="994" y2="497.77" stroke="#ff0000" stroke-width="2" stroke-linecap="butt"/>
<line x1="998" y1="455.71" x2="989" y2="455.71" stroke="#ff0000" stroke-width="2" stroke-linecap="butt"/>
<text transform="translate(1007.8,465.31) scale(1,1.08)" font-size="26.7" fill="#ff0000" text-anchor="start">1.0&#215;10<tspan dx="1" dy="-9.5" font-size="17.7">18</tspan></text>
<line x1="998" y1="413.64" x2="994" y2="413.64" stroke="#ff0000" stroke-width="2" stroke-linecap="butt"/>
<line x1="998" y1="371.58" x2="989" y2="371.58" stroke="#ff0000" stroke-width="2" stroke-linecap="butt"/>
<text transform="translate(1007.8,381.18) scale(1,1.08)" font-size="26.7" fill="#ff0000" text-anchor="start">1.5&#215;10<tspan dx="1" dy="-9.5" font-size="17.7">18</tspan></text>
<line x1="998" y1="329.51" x2="994" y2="329.51" stroke="#ff0000" stroke-width="2" stroke-linecap="butt"/>
<line x1="998" y1="287.45" x2="989" y2="287.45" stroke="#ff0000" stroke-width="2" stroke-linecap="butt"/>
<text transform="translate(1007.8,297.05) scale(1,1.08)" font-size="26.7" fill="#ff0000" text-anchor="start">2.0&#215;10<tspan dx="1" dy="-9.5" font-size="17.7">18</tspan></text>
<line x1="998" y1="245.38" x2="994" y2="245.38" stroke="#ff0000" stroke-width="2" stroke-linecap="butt"/>
<line x1="998" y1="203.32" x2="989" y2="203.32" stroke="#ff0000" stroke-width="2" stroke-linecap="butt"/>
<text transform="translate(1007.8,212.92) scale(1,1.08)" font-size="26.7" fill="#ff0000" text-anchor="start">2.5&#215;10<tspan dx="1" dy="-9.5" font-size="17.7">18</tspan></text>
<line x1="998" y1="161.25" x2="994" y2="161.25" stroke="#ff0000" stroke-width="2" stroke-linecap="butt"/>
<line x1="998" y1="119.19" x2="989" y2="119.19" stroke="#ff0000" stroke-width="2" stroke-linecap="butt"/>
<text transform="translate(1007.8,128.79) scale(1,1.08)" font-size="26.7" fill="#ff0000" text-anchor="start">3.0&#215;10<tspan dx="1" dy="-9.5" font-size="17.7">18</tspan></text>
<line x1="998" y1="77.12" x2="994" y2="77.12" stroke="#ff0000" stroke-width="2" stroke-linecap="butt"/>
<line x1="998" y1="35.06" x2="989" y2="35.06" stroke="#ff0000" stroke-width="2" stroke-linecap="butt"/>
<text transform="translate(1007.8,44.66) scale(1,1.08)" font-size="26.7" fill="#ff0000" text-anchor="start">3.5&#215;10<tspan dx="1" dy="-9.5" font-size="17.7">18</tspan></text>
<text transform="translate(1146.6,522.5) rotate(-90)" font-size="37.6" fill="#ff0000">Hole density in QW (cm<tspan dy="-14.5" font-size="26">-3</tspan><tspan dy="14.5">)</tspan></text>
<line x1="1173" y1="34" x2="1173" y2="624.97" stroke="#009000" stroke-width="2" stroke-linecap="butt"/>
<line x1="1173" y1="623.97" x2="1164" y2="623.97" stroke="#009000" stroke-width="2" stroke-linecap="butt"/>
<text transform="translate(1182.8,631.97) scale(1,1.08)" font-size="26.7" fill="#009000" text-anchor="start">0.0</text>
<line x1="1173" y1="584.17" x2="1169" y2="584.17" stroke="#009000" stroke-width="2" stroke-linecap="butt"/>
<line x1="1173" y1="544.37" x2="1164" y2="544.37" stroke="#009000" stroke-width="2" stroke-linecap="butt"/>
<text transform="translate(1182.8,553.97) scale(1,1.08)" font-size="26.7" fill="#009000" text-anchor="start">5.0&#215;10<tspan dx="1" dy="-9.5" font-size="17.7">24</tspan></text>
<line x1="1173" y1="504.56" x2="1169" y2="504.56" stroke="#009000" stroke-width="2" stroke-linecap="butt"/>
<line x1="1173" y1="464.77" x2="1164" y2="464.77" stroke="#009000" stroke-width="2" stroke-linecap="butt"/>
<text transform="translate(1182.8,474.37) scale(1,1.08)" font-size="26.7" fill="#009000" text-anchor="start">1.0&#215;10<tspan dx="1" dy="-9.5" font-size="17.7">25</tspan></text>
<line x1="1173" y1="424.97" x2="1169" y2="424.97" stroke="#009000" stroke-width="2" stroke-linecap="butt"/>
<line x1="1173" y1="385.17" x2="1164" y2="385.17" stroke="#009000" stroke-width="2" stroke-linecap="butt"/>
<text transform="translate(1182.8,394.77) scale(1,1.08)" font-size="26.7" fill="#009000" text-anchor="start">1.5&#215;10<tspan dx="1" dy="-9.5" font-size="17.7">25</tspan></text>
<line x1="1173" y1="345.37" x2="1169" y2="345.37" stroke="#009000" stroke-width="2" stroke-linecap="butt"/>
<line x1="1173" y1="305.57" x2="1164" y2="305.57" stroke="#009000" stroke-width="2" stroke-linecap="butt"/>
<text transform="translate(1182.8,315.17) scale(1,1.08)" font-size="26.7" fill="#009000" text-anchor="start">2.0&#215;10<tspan dx="1" dy="-9.5" font-size="17.7">25</tspan></text>
<line x1="1173" y1="265.77" x2="1169" y2="265.77" stroke="#009000" stroke-width="2" stroke-linecap="butt"/>
<line x1="1173" y1="225.97" x2="1164" y2="225.97" stroke="#009000" stroke-width="2" stroke-linecap="butt"/>
<text transform="translate(1182.8,235.57) scale(1,1.08)" font-size="26.7" fill="#009000" text-anchor="start">2.5&#215;10<tspan dx="1" dy="-9.5" font-size="17.7">25</tspan></text>
<line x1="1173" y1="186.17" x2="1169" y2="186.17" stroke="#009000" stroke-width="2" stroke-linecap="butt"/>
<line x1="1173" y1="146.37" x2="1164" y2="146.37" stroke="#009000" stroke-width="2" stroke-linecap="butt"/>
<text transform="translate(1182.8,155.97) scale(1,1.08)" font-size="26.7" fill="#009000" text-anchor="start">3.0&#215;10<tspan dx="1" dy="-9.5" font-size="17.7">25</tspan></text>
<line x1="1173" y1="106.57" x2="1169" y2="106.57" stroke="#009000" stroke-width="2" stroke-linecap="butt"/>
<line x1="1173" y1="66.77" x2="1164" y2="66.77" stroke="#009000" stroke-width="2" stroke-linecap="butt"/>
<text transform="translate(1182.8,76.37) scale(1,1.08)" font-size="26.7" fill="#009000" text-anchor="start">3.5&#215;10<tspan dx="1" dy="-9.5" font-size="17.7">25</tspan></text>
<text transform="translate(1329.8,605) rotate(-90)" font-size="37.4" fill="#009000">Radiative recombination (cm<tspan dy="-14.5" font-size="26">-3</tspan><tspan dy="14.5">s</tspan><tspan dy="-14.5" font-size="26">-1</tspan><tspan dy="14.5">)</tspan></text>
<text x="86.4" y="22.3" font-size="27" fill="#000000" text-anchor="start">interLayer</text>
<text x="284.2" y="21.9" font-size="27" fill="#000000" text-anchor="start">LastBarrier</text>
<text x="515.5" y="19.4" font-size="27" fill="#000000" text-anchor="start">QW</text>
<text x="662.8" y="21.7" font-size="27" fill="#000000" text-anchor="start">FistBarrier</text>
<text transform="translate(27,430) rotate(-90)" font-size="37.5" fill="#000000">Energy (eV)</text>
<text x="359.3" y="707.4" font-size="37.5" fill="#000000" text-anchor="start">Depth (nm)</text>
<line x1="85.6" y1="926" x2="85.6" y2="1507.78" stroke="#000000" stroke-width="2" stroke-linecap="butt"/>
<line x1="85.6" y1="927" x2="805.1" y2="927" stroke="#000000" stroke-width="2" stroke-linecap="butt"/>
<line x1="85.6" y1="1506.78" x2="805.1" y2="1506.78" stroke="#000000" stroke-width="2" stroke-linecap="butt"/>
<path d="M85.6,1049.3 C97.58,1049.88 145.52,1052.22 157.5,1052.8 L157.5,1052.8 C157.5,1056.97 157.5,1073.63 157.5,1077.8 L157.5,1077.8 L158.98,1077.48 L160.46,1077.17 L161.94,1076.87 L163.42,1076.56 L164.91,1076.27 L166.39,1075.97 L167.87,1075.69 L169.36,1075.4 L170.84,1075.12 L172.33,1074.84 L173.81,1074.57 L175.3,1074.3 L176.79,1074.04 L178.27,1073.78 L179.76,1073.52 L181.25,1073.27 L182.74,1073.02 L184.23,1072.78 L185.72,1072.54 L187.21,1072.3 L188.7,1072.07 L190.19,1071.84 L191.68,1071.62 L193.17,1071.4 L194.66,1071.18 L196.15,1070.96 L197.65,1070.75 L199.14,1070.54 L200.64,1070.34 L202.13,1070.14 L203.62,1069.94 L205.12,1069.75 L206.62,1069.56 L208.11,1069.37 L209.61,1069.19 L211.11,1069.01 L212.6,1068.83 L214.1,1068.66 L215.6,1068.49 L217.1,1068.32 L218.59,1068.16 L220.09,1068 L221.59,1067.84 L223.09,1067.69 L224.59,1067.53 L226.09,1067.38 L227.59,1067.24 L229.1,1067.09 L230.6,1066.95 L232.1,1066.82 L233.6,1066.68 L235.1,1066.55 L236.61,1066.42 L238.11,1066.29 L239.61,1066.17 L241.12,1066.05 L242.62,1065.93 L244.13,1065.81 L245.63,1065.7 L247.13,1065.59 L248.64,1065.48 L250.15,1065.37 L251.65,1065.27 L253.16,1065.17 L254.66,1065.07 L256.17,1064.97 L257.68,1064.88 L259.18,1064.78 L260.69,1064.69 L262.2,1064.6 L263.71,1064.52 L265.21,1064.43 L266.72,1064.35 L268.23,1064.27 L269.74,1064.19 L271.25,1064.12 L272.76,1064.04 L274.26,1063.97 L275.77,1063.9 L277.28,1063.83 L278.79,1063.76 L280.3,1063.7 L281.81,1063.64 L283.32,1063.57 L284.83,1063.51 L286.34,1063.45 L287.85,1063.4 L289.37,1063.34 L290.88,1063.29 L292.39,1063.24 L293.9,1063.18 L295.41,1063.13 L296.92,1063.09 L298.43,1063.04 L299.94,1062.99 L301.46,1062.95 L302.97,1062.91 L304.48,1062.86 L305.99,1062.82 L307.51,1062.78 L309.02,1062.75 L310.53,1062.71 L312.04,1062.67 L313.55,1062.64 L315.07,1062.6 L316.58,1062.57 L318.09,1062.54 L319.61,1062.5 L321.12,1062.47 L322.63,1062.44 L324.14,1062.41 L325.66,1062.38 L327.17,1062.36 L328.68,1062.33 L330.2,1062.3 L331.71,1062.28 L333.22,1062.25 L334.74,1062.23 L336.25,1062.2 L337.76,1062.18 L339.28,1062.16 L340.79,1062.13 L342.3,1062.11 L343.81,1062.09 L345.33,1062.07 L346.84,1062.04 L348.35,1062.02 L349.87,1062 L351.38,1061.98 L352.89,1061.96 L354.4,1061.94 L355.92,1061.92 L357.43,1061.9 L358.94,1061.87 L360.46,1061.85 L361.97,1061.83 L363.48,1061.81 L364.99,1061.79 L366.5,1061.77 L368.02,1061.75 L369.53,1061.73 L371.04,1061.7 L372.55,1061.68 L374.06,1061.66 L375.58,1061.64 L377.09,1061.61 L378.6,1061.59 L380.11,1061.56 L381.62,1061.54 L383.13,1061.51 L384.64,1061.49 L386.15,1061.46 L387.66,1061.43 L389.17,1061.41 L390.68,1061.38 L392.19,1061.35 L393.7,1061.32 L395.21,1061.29 L396.72,1061.26 L398.23,1061.22 L399.74,1061.19 L401.25,1061.16 L402.76,1061.12 L404.27,1061.08 L405.78,1061.05 L407.28,1061.01 L408.79,1060.97 L410.3,1060.93 L411.81,1060.89 L413.31,1060.84 L414.82,1060.8 L416.33,1060.75 L417.83,1060.71 L419.34,1060.66 L420.84,1060.61 L422.35,1060.56 L423.86,1060.5 L425.36,1060.45 L426.87,1060.39 L428.37,1060.34 L429.87,1060.28 L431.38,1060.22 L432.88,1060.16 L434.39,1060.09 L435.89,1060.03 L437.39,1059.96 L438.89,1059.89 L440.4,1059.82 L441.9,1059.75 L443.4,1059.68 L444.9,1059.6 L444.9,1059.6 C444.9,1062.75 444.9,1075.35 444.9,1078.5 L444.9,1078.5 L446.37,1078.1 L447.85,1077.71 L449.32,1077.33 L450.79,1076.95 L452.27,1076.58 L453.75,1076.22 L455.23,1075.87 L456.71,1075.52 L458.19,1075.18 L459.67,1074.85 L461.15,1074.53 L462.63,1074.21 L464.12,1073.9 L465.6,1073.59 L467.09,1073.3 L468.58,1073.01 L470.07,1072.72 L471.55,1072.44 L473.04,1072.17 L474.54,1071.9 L476.03,1071.64 L477.52,1071.39 L479.01,1071.14 L480.51,1070.9 L482,1070.66 L483.5,1070.43 L484.99,1070.2 L486.49,1069.98 L487.99,1069.76 L489.49,1069.55 L490.98,1069.34 L492.48,1069.14 L493.98,1068.95 L495.49,1068.75 L496.99,1068.57 L498.49,1068.38 L499.99,1068.21 L501.5,1068.03 L503,1067.86 L504.5,1067.69 L506.01,1067.53 L507.52,1067.37 L509.02,1067.22 L510.53,1067.07 L512.04,1066.92 L513.54,1066.78 L515.05,1066.64 L516.56,1066.5 L518.07,1066.37 L519.58,1066.24 L521.09,1066.11 L522.6,1065.98 L524.11,1065.86 L525.62,1065.74 L527.13,1065.63 L528.64,1065.51 L530.16,1065.4 L531.67,1065.29 L533.18,1065.18 L534.69,1065.08 L536.21,1064.97 L537.72,1064.87 L539.23,1064.77 L540.75,1064.67 L542.26,1064.58 L543.77,1064.48 L545.29,1064.39 L546.8,1064.29 L548.32,1064.2 L549.83,1064.11 L551.35,1064.02 L552.86,1063.93 L554.38,1063.84 L555.89,1063.76 L557.41,1063.67 L558.92,1063.58 L560.44,1063.5 L561.95,1063.41 L563.47,1063.33 L564.98,1063.24 L566.5,1063.16 L568.02,1063.07 L569.53,1062.98 L571.05,1062.9 L572.56,1062.81 L574.08,1062.72 L575.59,1062.64 L577.1,1062.55 L578.62,1062.46 L580.13,1062.37 L581.65,1062.28 L583.16,1062.18 L584.68,1062.09 L586.19,1061.99 L587.7,1061.9 L589.22,1061.8 L590.73,1061.7 L592.24,1061.6 L593.75,1061.49 L595.27,1061.39 L596.78,1061.28 L598.29,1061.17 L599.8,1061.06 L601.31,1060.94 L602.82,1060.83 L604.33,1060.71 L605.84,1060.59 L607.35,1060.46 L608.86,1060.33 L610.37,1060.2 L611.87,1060.07 L613.38,1059.93 L614.89,1059.79 L616.39,1059.65 L617.9,1059.5 L617.9,1059.5 C617.9,1056.33 617.9,1043.67 617.9,1040.5 L617.9,1040.5 C629.25,1041.82 665.17,1045.98 686,1048.4 C706.83,1050.82 723.05,1053.2 742.9,1055 C762.75,1056.8 794.73,1058.5 805.1,1059.2" fill="none" stroke="#000000" stroke-width="3.5" stroke-linecap="butt" stroke-linejoin="round"/>
<path d="M85.6,1423.1 C97.58,1423.72 145.52,1426.18 157.5,1426.8 L157.5,1426.8 C157.5,1424.92 157.5,1417.38 157.5,1415.5 L157.5,1415.5 L158.98,1415.16 L160.45,1414.83 L161.93,1414.51 L163.41,1414.19 L164.89,1413.87 L166.37,1413.56 L167.85,1413.26 L169.33,1412.96 L170.81,1412.66 L172.3,1412.37 L173.78,1412.09 L175.26,1411.81 L176.75,1411.53 L178.23,1411.26 L179.72,1410.99 L181.2,1410.73 L182.69,1410.47 L184.18,1410.21 L185.66,1409.96 L187.15,1409.72 L188.64,1409.48 L190.13,1409.24 L191.62,1409.01 L193.11,1408.78 L194.6,1408.55 L196.09,1408.33 L197.58,1408.12 L199.08,1407.9 L200.57,1407.69 L202.06,1407.49 L203.56,1407.29 L205.05,1407.09 L206.55,1406.9 L208.04,1406.71 L209.54,1406.52 L211.03,1406.34 L212.53,1406.16 L214.03,1405.99 L215.52,1405.81 L217.02,1405.65 L218.52,1405.48 L220.02,1405.32 L221.52,1405.16 L223.02,1405.01 L224.52,1404.86 L226.02,1404.71 L227.52,1404.56 L229.02,1404.42 L230.52,1404.28 L232.02,1404.15 L233.53,1404.02 L235.03,1403.89 L236.53,1403.76 L238.03,1403.64 L239.54,1403.52 L241.04,1403.4 L242.55,1403.28 L244.05,1403.17 L245.56,1403.06 L247.06,1402.96 L248.57,1402.85 L250.07,1402.75 L251.58,1402.65 L253.09,1402.56 L254.59,1402.46 L256.1,1402.37 L257.61,1402.28 L259.12,1402.19 L260.62,1402.11 L262.13,1402.03 L263.64,1401.95 L265.15,1401.87 L266.66,1401.8 L268.17,1401.72 L269.68,1401.65 L271.19,1401.58 L272.7,1401.51 L274.21,1401.45 L275.72,1401.39 L277.23,1401.32 L278.74,1401.27 L280.25,1401.21 L281.76,1401.15 L283.27,1401.1 L284.78,1401.05 L286.3,1400.99 L287.81,1400.95 L289.32,1400.9 L290.83,1400.85 L292.34,1400.81 L293.86,1400.76 L295.37,1400.72 L296.88,1400.68 L298.4,1400.64 L299.91,1400.61 L301.42,1400.57 L302.93,1400.53 L304.45,1400.5 L305.96,1400.47 L307.48,1400.44 L308.99,1400.4 L310.5,1400.37 L312.02,1400.35 L313.53,1400.32 L315.04,1400.29 L316.56,1400.27 L318.07,1400.24 L319.59,1400.22 L321.1,1400.19 L322.62,1400.17 L324.13,1400.15 L325.64,1400.13 L327.16,1400.1 L328.67,1400.08 L330.19,1400.06 L331.7,1400.04 L333.22,1400.02 L334.73,1400.01 L336.24,1399.99 L337.76,1399.97 L339.27,1399.95 L340.79,1399.93 L342.3,1399.92 L343.82,1399.9 L345.33,1399.88 L346.84,1399.86 L348.36,1399.85 L349.87,1399.83 L351.39,1399.81 L352.9,1399.8 L354.41,1399.78 L355.93,1399.76 L357.44,1399.74 L358.96,1399.73 L360.47,1399.71 L361.98,1399.69 L363.5,1399.67 L365.01,1399.65 L366.52,1399.63 L368.04,1399.61 L369.55,1399.59 L371.06,1399.57 L372.57,1399.55 L374.09,1399.52 L375.6,1399.5 L377.11,1399.48 L378.62,1399.45 L380.13,1399.43 L381.65,1399.4 L383.16,1399.37 L384.67,1399.34 L386.18,1399.31 L387.69,1399.28 L389.2,1399.25 L390.71,1399.22 L392.22,1399.19 L393.73,1399.15 L395.24,1399.12 L396.75,1399.08 L398.26,1399.04 L399.77,1399 L401.28,1398.96 L402.79,1398.92 L404.29,1398.87 L405.8,1398.83 L407.31,1398.78 L408.82,1398.73 L410.32,1398.68 L411.83,1398.63 L413.34,1398.58 L414.84,1398.52 L416.35,1398.47 L417.86,1398.41 L419.36,1398.35 L420.87,1398.28 L422.37,1398.22 L423.88,1398.15 L425.38,1398.09 L426.88,1398.02 L428.39,1397.94 L429.89,1397.87 L431.39,1397.79 L432.89,1397.71 L434.4,1397.63 L435.9,1397.55 L437.4,1397.46 L438.9,1397.38 L440.4,1397.29 L441.9,1397.19 L443.4,1397.1 L444.9,1397 L444.9,1397 C444.9,1395.82 444.9,1391.08 444.9,1389.9 L444.9,1389.9 L446.36,1389.48 L447.83,1389.07 L449.3,1388.67 L450.77,1388.28 L452.24,1387.89 L453.71,1387.51 L455.19,1387.14 L456.66,1386.78 L458.14,1386.43 L459.61,1386.08 L461.09,1385.74 L462.57,1385.4 L464.05,1385.08 L465.53,1384.76 L467.01,1384.44 L468.5,1384.14 L469.98,1383.84 L471.47,1383.54 L472.95,1383.26 L474.44,1382.98 L475.93,1382.7 L477.42,1382.43 L478.91,1382.17 L480.4,1381.92 L481.9,1381.66 L483.39,1381.42 L484.88,1381.18 L486.38,1380.95 L487.88,1380.72 L489.37,1380.5 L490.87,1380.28 L492.37,1380.07 L493.87,1379.86 L495.37,1379.66 L496.87,1379.46 L498.37,1379.27 L499.88,1379.08 L501.38,1378.89 L502.88,1378.71 L504.39,1378.54 L505.89,1378.37 L507.4,1378.2 L508.91,1378.04 L510.41,1377.88 L511.92,1377.73 L513.43,1377.57 L514.94,1377.43 L516.45,1377.28 L517.96,1377.14 L519.47,1377.01 L520.98,1376.87 L522.49,1376.74 L524,1376.61 L525.52,1376.49 L527.03,1376.37 L528.54,1376.25 L530.05,1376.13 L531.57,1376.02 L533.08,1375.91 L534.6,1375.8 L536.11,1375.69 L537.63,1375.59 L539.14,1375.49 L540.66,1375.39 L542.17,1375.29 L543.69,1375.19 L545.21,1375.1 L546.72,1375 L548.24,1374.91 L549.76,1374.82 L551.27,1374.73 L552.79,1374.64 L554.31,1374.56 L555.83,1374.47 L557.34,1374.39 L558.86,1374.3 L560.38,1374.22 L561.9,1374.14 L563.41,1374.05 L564.93,1373.97 L566.45,1373.89 L567.97,1373.81 L569.48,1373.73 L571,1373.65 L572.52,1373.57 L574.04,1373.48 L575.55,1373.4 L577.07,1373.32 L578.59,1373.24 L580.1,1373.15 L581.62,1373.07 L583.13,1372.99 L584.65,1372.9 L586.17,1372.81 L587.68,1372.73 L589.2,1372.64 L590.71,1372.55 L592.22,1372.46 L593.74,1372.36 L595.25,1372.27 L596.77,1372.17 L598.28,1372.07 L599.79,1371.98 L601.3,1371.87 L602.81,1371.77 L604.32,1371.66 L605.84,1371.56 L607.35,1371.45 L608.85,1371.33 L610.36,1371.22 L611.87,1371.1 L613.38,1370.98 L614.89,1370.85 L616.39,1370.73 L617.9,1370.6 L617.9,1370.6 C617.9,1371.9 617.9,1377.1 617.9,1378.4 L617.9,1378.4 C629.25,1379.58 665.15,1383.13 686,1385.5 C706.85,1387.87 723.15,1390.7 743,1392.6 C762.85,1394.5 794.75,1396.18 805.1,1396.9" fill="none" stroke="#000000" stroke-width="3.5" stroke-linecap="butt" stroke-linejoin="round"/>
<clipPath id="clip927"><rect x="85.6" y="927" width="719.5" height="580.78"/></clipPath>
<g clip-path="url(#clip927)">
<path d="M433,1340.5 L433.12,1339.01 L433.23,1337.51 L433.35,1336.02 L433.47,1334.52 L433.59,1333.03 L433.71,1331.53 L433.83,1330.03 L433.95,1328.54 L434.07,1327.04 L434.19,1325.55 L434.31,1324.05 L434.43,1322.55 L434.56,1321.06 L434.68,1319.56 L434.8,1318.06 L434.93,1316.57 L435.06,1315.07 L435.18,1313.57 L435.31,1312.07 L435.43,1310.58 L435.56,1309.08 L435.69,1307.58 L435.82,1306.08 L435.95,1304.59 L436.07,1303.09 L436.2,1301.59 L436.33,1300.09 L436.46,1298.59 L436.59,1297.09 L436.72,1295.6 L436.85,1294.1 L436.98,1292.6 L437.12,1291.1 L437.25,1289.6 L437.38,1288.1 L437.51,1286.6 L437.64,1285.1 L437.77,1283.6 L437.91,1282.1 L438.04,1280.61 L438.17,1279.11 L438.31,1277.61 L438.44,1276.11 L438.57,1274.61 L438.7,1273.11 L438.84,1271.61 L438.97,1270.11 L439.1,1268.61 L439.24,1267.11 L439.37,1265.61 L439.5,1264.11 L439.64,1262.61 L439.77,1261.11 L439.9,1259.61 L440.04,1258.11 L440.17,1256.61 L440.3,1255.11 L440.43,1253.61 L440.57,1252.11 L440.7,1250.61 L440.83,1249.11 L440.96,1247.61 L441.1,1246.11 L441.23,1244.61 L441.36,1243.11 L441.49,1241.61 L441.62,1240.11 L441.75,1238.61 L441.88,1237.11 L442.01,1235.61 L442.14,1234.11 L442.27,1232.61 L442.4,1231.11 L442.53,1229.61 L442.66,1228.11 L442.79,1226.62 L442.92,1225.12 L443.04,1223.62 L443.17,1222.12 L443.3,1220.62 L443.42,1219.12 L443.55,1217.62 L443.67,1216.12 L443.8,1214.62 L443.92,1213.12 L444.04,1211.63 L444.17,1210.13 L444.29,1208.63 L444.41,1207.13 L444.53,1205.63 L444.65,1204.13 L444.77,1202.64 L444.89,1201.14 L445.01,1199.64 L445.13,1198.14 L445.25,1196.65 L445.36,1195.15 L445.48,1193.65 L445.6,1192.15 L445.71,1190.66 L445.83,1189.16 L445.94,1187.66 L446.05,1186.17 L446.17,1184.67 L446.28,1183.17 L446.39,1181.68 L446.51,1180.18 L446.62,1178.68 L446.73,1177.19 L446.84,1175.69 L446.95,1174.19 L447.06,1172.7 L447.17,1171.2 L447.28,1169.7 L447.39,1168.21 L447.49,1166.71 L447.6,1165.21 L447.71,1163.72 L447.82,1162.22 L447.93,1160.73 L448.03,1159.23 L448.14,1157.73 L448.25,1156.24 L448.35,1154.74 L448.46,1153.24 L448.56,1151.75 L448.67,1150.25 L448.78,1148.76 L448.88,1147.26 L448.99,1145.76 L449.09,1144.27 L449.2,1142.77 L449.3,1141.27 L449.41,1139.78 L449.51,1138.28 L449.62,1136.78 L449.72,1135.29 L449.83,1133.79 L449.93,1132.29 L450.03,1130.79 L450.14,1129.3 L450.24,1127.8 L450.35,1126.3 L450.45,1124.8 L450.56,1123.31 L450.66,1121.81 L450.77,1120.31 L450.87,1118.81 L450.98,1117.32 L451.08,1115.82 L451.19,1114.32 L451.29,1112.82 L451.4,1111.32 L451.5,1109.82 L451.61,1108.33 L451.71,1106.83 L451.82,1105.33 L451.93,1103.83 L452.03,1102.33 L452.14,1100.83 L452.25,1099.33 L452.36,1097.83 L452.46,1096.33 L452.57,1094.83 L452.68,1093.33 L452.79,1091.83 L452.9,1090.33 L453.01,1088.83 L453.12,1087.33 L453.23,1085.82 L453.34,1084.32 L453.45,1082.82 L453.56,1081.32 L453.67,1079.82 L453.78,1078.31 L453.9,1076.81 L454.01,1075.31 L454.12,1073.81 L454.24,1072.3 L454.35,1070.8 L454.47,1069.29 L454.58,1067.79 L454.7,1066.29 L454.81,1064.78 L454.93,1063.28 L455.05,1061.77 L455.17,1060.27 L455.29,1058.76 L455.41,1057.25 L455.53,1055.75 L455.65,1054.24 L455.77,1052.73 L455.89,1051.23 L456.01,1049.72 L456.14,1048.21 L456.26,1046.7 L456.39,1045.2 L456.51,1043.69 L456.64,1042.18 L456.77,1040.67 L456.89,1039.16 L457.02,1037.65 L457.15,1036.14 L457.28,1034.63 L457.42,1033.12 L457.55,1031.61 L457.68,1030.09 L457.82,1028.58 L457.97,1027.08 L458.12,1025.57 L458.27,1024.06 L458.43,1022.56 L458.6,1021.05 L458.77,1019.55 L458.95,1018.06 L459.15,1016.56 L459.35,1015.07 L459.56,1013.58 L459.79,1012.1 L460.02,1010.62 L460.27,1009.14 L460.54,1007.67 L460.82,1006.21 L461.11,1004.75 L461.42,1003.29 L461.75,1001.84 L462.09,1000.4 L462.45,998.97 L462.83,997.54 L463.23,996.11 L463.65,994.7 L464.1,993.29 L464.56,991.89 L465.05,990.5 L465.56,989.12 L466.09,987.74 L466.65,986.38 L467.24,985.02 L467.85,983.68 L468.49,982.41 L469.21,981.44 L470.01,981.02 L470.87,981.21 L471.68,981.97 L472.42,983.21 L473.1,984.79 L473.73,986.61 L474.33,988.52 L474.9,990.4 L475.45,992.17 L475.99,993.82 L476.51,995.38 L477.01,996.85 L477.5,998.26 L477.97,999.61 L478.43,1000.92 L478.87,1002.2 L479.29,1003.48 L479.69,1004.76 L480.08,1006.06 L480.45,1007.38 L480.8,1008.73 L481.13,1010.1 L481.46,1011.48 L481.76,1012.89 L482.06,1014.32 L482.34,1015.76 L482.61,1017.21 L482.88,1018.68 L483.13,1020.16 L483.37,1021.66 L483.61,1023.16 L483.83,1024.67 L484.06,1026.18 L484.27,1027.71 L484.48,1029.23 L484.69,1030.76 L484.9,1032.29 L485.1,1033.82 L485.3,1035.35 L485.5,1036.88 L485.71,1038.41 L485.91,1039.93 L486.11,1041.45 L486.31,1042.97 L486.51,1044.48 L486.71,1046 L486.9,1047.51 L487.1,1049.02 L487.3,1050.53 L487.5,1052.04 L487.69,1053.55 L487.89,1055.05 L488.09,1056.56 L488.28,1058.06 L488.48,1059.56 L488.67,1061.06 L488.87,1062.55 L489.06,1064.05 L489.26,1065.55 L489.45,1067.04 L489.64,1068.54 L489.83,1070.03 L490.03,1071.52 L490.22,1073.01 L490.41,1074.5 L490.6,1075.99 L490.79,1077.48 L490.98,1078.97 L491.17,1080.46 L491.36,1081.95 L491.55,1083.43 L491.74,1084.92 L491.93,1086.41 L492.12,1087.9 L492.31,1089.38 L492.5,1090.87 L492.68,1092.36 L492.87,1093.85 L493.06,1095.33 L493.24,1096.82 L493.43,1098.31 L493.62,1099.79 L493.8,1101.28 L493.99,1102.77 L494.17,1104.26 L494.36,1105.75 L494.55,1107.23 L494.73,1108.72 L494.91,1110.21 L495.1,1111.7 L495.28,1113.19 L495.47,1114.67 L495.65,1116.16 L495.84,1117.65 L496.02,1119.14 L496.2,1120.63 L496.39,1122.12 L496.57,1123.6 L496.75,1125.09 L496.93,1126.58 L497.12,1128.07 L497.3,1129.56 L497.48,1131.05 L497.67,1132.54 L497.85,1134.03 L498.03,1135.52 L498.21,1137.01 L498.4,1138.49 L498.58,1139.98 L498.76,1141.47 L498.94,1142.96 L499.12,1144.45 L499.31,1145.94 L499.49,1147.43 L499.67,1148.92 L499.85,1150.41 L500.04,1151.9 L500.22,1153.39 L500.4,1154.88 L500.58,1156.37 L500.76,1157.86 L500.95,1159.35 L501.13,1160.84 L501.31,1162.33 L501.49,1163.82 L501.68,1165.31 L501.86,1166.8 L502.04,1168.29 L502.23,1169.78 L502.41,1171.27 L502.59,1172.76 L502.78,1174.25 L502.96,1175.74 L503.14,1177.24 L503.33,1178.73 L503.51,1180.22 L503.7,1181.71 L503.88,1183.2 L504.07,1184.69 L504.25,1186.18 L504.44,1187.67 L504.62,1189.16 L504.81,1190.65 L504.99,1192.14 L505.18,1193.64 L505.37,1195.13 L505.55,1196.62 L505.74,1198.11 L505.93,1199.6 L506.11,1201.09 L506.3,1202.58 L506.49,1204.08 L506.68,1205.57 L506.87,1207.06 L507.06,1208.55 L507.25,1210.04 L507.44,1211.53 L507.63,1213.02 L507.82,1214.52 L508.01,1216.01 L508.2,1217.5 L508.39,1218.99 L508.58,1220.48 L508.78,1221.98 L508.97,1223.47 L509.16,1224.96 L509.36,1226.45 L509.55,1227.94 L509.74,1229.44 L509.94,1230.93 L510.13,1232.42 L510.33,1233.91 L510.53,1235.4 L510.72,1236.9 L510.92,1238.39 L511.12,1239.88 L511.32,1241.37 L511.52,1242.87 L511.72,1244.36 L511.92,1245.85 L512.12,1247.34 L512.32,1248.83 L512.52,1250.33 L512.72,1251.82 L512.93,1253.31 L513.13,1254.8 L513.33,1256.3 L513.54,1257.79 L513.74,1259.28 L513.95,1260.77 L514.16,1262.27 L514.36,1263.76 L514.57,1265.25 L514.78,1266.74 L514.99,1268.24 L515.2,1269.73 L515.41,1271.22 L515.62,1272.72 L515.83,1274.21 L516.05,1275.7 L516.26,1277.19 L516.48,1278.68 L516.69,1280.18 L516.91,1281.67 L517.13,1283.16 L517.35,1284.65 L517.57,1286.14 L517.79,1287.63 L518.02,1289.12 L518.25,1290.61 L518.48,1292.1 L518.71,1293.59 L518.94,1295.08 L519.17,1296.57 L519.41,1298.06 L519.65,1299.55 L519.89,1301.04 L520.13,1302.52 L520.37,1304.01 L520.62,1305.5 L520.87,1306.98 L521.12,1308.46 L521.38,1309.95 L521.63,1311.43 L521.89,1312.92 L522.16,1314.4 L522.42,1315.88 L522.69,1317.36 L522.96,1318.84 L523.24,1320.32 L523.51,1321.8 L523.8,1323.27 L524.08,1324.75 L524.37,1326.23 L524.66,1327.7 L524.95,1329.17 L525.25,1330.65 L525.55,1332.12 L525.86,1333.59 L526.16,1335.06 L526.48,1336.53 L526.79,1338 L527.11,1339.46 L527.44,1340.93 L527.77,1342.39 L528.1,1343.86 L528.44,1345.32 L528.78,1346.78 L529.12,1348.24 L529.47,1349.7 L529.83,1351.15 L530.19,1352.61 L530.55,1354.06 L530.92,1355.52 L531.29,1356.97 L531.67,1358.42 L532.05,1359.87 L532.44,1361.32 L532.83,1362.76 L533.23,1364.21 L533.63,1365.65 L534.04,1367.09 L534.46,1368.53 L534.87,1369.97 L535.3,1371.41 L535.73,1372.84 L536.17,1374.28 L536.61,1375.71 L537.05,1377.14 L537.51,1378.57 L537.97,1379.99 L538.43,1381.42 L538.9,1382.84 L539.38,1384.26 L539.86,1385.68 L540.35,1387.1 L540.85,1388.52 L541.35,1389.93 L541.86,1391.34 L542.37,1392.75 L542.89,1394.16 L543.42,1395.57 L543.96,1396.97 L544.5,1398.37 L545.05,1399.77 L545.6,1401.17 L546.16,1402.56 L546.73,1403.96 L547.31,1405.35 L547.89,1406.74 L548.48,1408.13 L549.08,1409.51 L549.69,1410.89 L550.31,1412.26 L550.93,1413.64 L551.57,1415 L552.21,1416.37 L552.87,1417.72 L553.53,1419.07 L554.21,1420.42 L554.9,1421.76 L555.59,1423.09 L556.3,1424.42 L557.03,1425.74 L557.76,1427.05 L558.51,1428.35 L559.27,1429.64 L560.04,1430.92 L560.83,1432.2 L561.63,1433.46 L562.45,1434.72 L563.28,1435.97 L564.13,1437.2 L564.99,1438.42 L565.87,1439.63 L566.76,1440.83 L567.67,1442.02 L568.6,1443.2 L569.54,1444.36 L570.51,1445.51 L571.49,1446.64 L572.49,1447.76 L573.5,1448.87 L574.54,1449.96 L575.6,1451.03 L576.67,1452.09 L577.77,1453.14 L578.88,1454.17 L580,1455.19 L581.14,1456.2 L582.28,1457.21 L583.43,1458.21 L584.57,1459.22 L585.72,1460.22 L586.86,1461.23 L587.99,1462.25 L589.11,1463.27 L590.21,1464.31 L591.3,1465.36 L592.36,1466.43 L593.4,1467.52 L594.41,1468.64 L595.38,1469.77 L596.33,1470.94 L597.25,1472.12 L598.14,1473.33 L599.01,1474.55 L599.87,1475.78 L600.71,1477.03 L601.55,1478.28 L602.38,1479.53 L603.21,1480.78 L604.04,1482.03 L604.88,1483.28 L605.73,1484.51 L606.6,1485.73 L607.48,1486.93 L608.39,1488.12 L609.33,1489.28 L610.3,1490.42 L611.31,1491.52 L612.35,1492.6 L613.44,1493.63 L614.57,1494.63 L615.76,1495.59 L617,1496.5 L617,1496.5 L618.5,1507" fill="none" stroke="#0000ff" stroke-width="4.6" stroke-linecap="round" stroke-linejoin="round"/>
<path d="M433,1340.5 L433.12,1339 L433.23,1337.5 L433.35,1336 L433.47,1334.5 L433.59,1333 L433.71,1331.5 L433.83,1330 L433.95,1328.5 L434.07,1327 L434.19,1325.5 L434.32,1324.01 L434.44,1322.51 L434.56,1321.01 L434.69,1319.51 L434.81,1318.01 L434.94,1316.51 L435.06,1315.02 L435.19,1313.52 L435.32,1312.02 L435.44,1310.52 L435.57,1309.03 L435.7,1307.53 L435.82,1306.03 L435.95,1304.54 L436.08,1303.04 L436.21,1301.54 L436.34,1300.05 L436.47,1298.55 L436.6,1297.05 L436.73,1295.56 L436.86,1294.06 L436.99,1292.56 L437.12,1291.07 L437.25,1289.57 L437.38,1288.08 L437.51,1286.58 L437.65,1285.08 L437.78,1283.59 L437.91,1282.09 L438.04,1280.6 L438.17,1279.1 L438.31,1277.61 L438.44,1276.11 L438.57,1274.61 L438.7,1273.12 L438.84,1271.62 L438.97,1270.13 L439.1,1268.63 L439.23,1267.14 L439.37,1265.64 L439.5,1264.15 L439.63,1262.65 L439.76,1261.15 L439.9,1259.66 L440.03,1258.16 L440.16,1256.67 L440.29,1255.17 L440.43,1253.68 L440.56,1252.18 L440.69,1250.69 L440.82,1249.19 L440.95,1247.69 L441.09,1246.2 L441.22,1244.7 L441.35,1243.21 L441.48,1241.71 L441.61,1240.22 L441.74,1238.72 L441.87,1237.22 L442,1235.73 L442.13,1234.23 L442.26,1232.73 L442.39,1231.24 L442.52,1229.74 L442.64,1228.24 L442.77,1226.75 L442.9,1225.25 L443.03,1223.75 L443.15,1222.26 L443.28,1220.76 L443.41,1219.26 L443.53,1217.77 L443.66,1216.27 L443.78,1214.77 L443.9,1213.27 L444.03,1211.77 L444.15,1210.28 L444.27,1208.78 L444.4,1207.28 L444.52,1205.78 L444.64,1204.28 L444.76,1202.78 L444.88,1201.28 L445,1199.79 L445.12,1198.29 L445.23,1196.79 L445.35,1195.29 L445.47,1193.79 L445.58,1192.29 L445.7,1190.79 L445.82,1189.29 L445.93,1187.79 L446.05,1186.29 L446.16,1184.79 L446.27,1183.29 L446.39,1181.79 L446.5,1180.29 L446.61,1178.78 L446.72,1177.28 L446.83,1175.78 L446.95,1174.28 L447.06,1172.78 L447.17,1171.28 L447.28,1169.78 L447.39,1168.28 L447.49,1166.78 L447.6,1165.28 L447.71,1163.78 L447.82,1162.28 L447.93,1160.77 L448.04,1159.27 L448.14,1157.77 L448.25,1156.27 L448.36,1154.77 L448.47,1153.27 L448.57,1151.77 L448.68,1150.27 L448.78,1148.77 L448.89,1147.27 L449,1145.77 L449.1,1144.27 L449.21,1142.77 L449.31,1141.27 L449.42,1139.77 L449.52,1138.27 L449.63,1136.77 L449.73,1135.27 L449.84,1133.77 L449.94,1132.27 L450.05,1130.77 L450.15,1129.27 L450.26,1127.77 L450.36,1126.27 L450.47,1124.77 L450.57,1123.28 L450.68,1121.78 L450.78,1120.28 L450.88,1118.78 L450.99,1117.28 L451.09,1115.79 L451.2,1114.29 L451.3,1112.79 L451.41,1111.29 L451.51,1109.8 L451.62,1108.3 L451.72,1106.81 L451.83,1105.31 L451.93,1103.81 L452.04,1102.32 L452.15,1100.82 L452.25,1099.33 L452.36,1097.83 L452.46,1096.34 L452.57,1094.85 L452.68,1093.35 L452.78,1091.86 L452.89,1090.37 L453,1088.87 L453.11,1087.38 L453.22,1085.89 L453.32,1084.4 L453.43,1082.91 L453.54,1081.41 L453.65,1079.92 L453.76,1078.43 L453.87,1076.94 L453.98,1075.45 L454.09,1073.95 L454.21,1072.46 L454.32,1070.97 L454.43,1069.47 L454.55,1067.98 L454.66,1066.49 L454.78,1064.99 L454.89,1063.5 L455.01,1062 L455.13,1060.51 L455.24,1059.01 L455.36,1057.52 L455.48,1056.02 L455.6,1054.52 L455.72,1053.02 L455.85,1051.52 L455.97,1050.02 L456.09,1048.52 L456.22,1047.02 L456.34,1045.51 L456.47,1044.01 L456.6,1042.5 L456.73,1041 L456.86,1039.49 L456.99,1037.98 L457.12,1036.47 L457.25,1034.96 L457.39,1033.45 L457.53,1031.93 L457.67,1030.42 L457.81,1028.9 L457.96,1027.39 L458.11,1025.88 L458.27,1024.36 L458.43,1022.85 L458.6,1021.34 L458.78,1019.83 L458.97,1018.32 L459.16,1016.82 L459.37,1015.31 L459.58,1013.81 L459.81,1012.32 L460.05,1010.82 L460.3,1009.33 L460.57,1007.84 L460.84,1006.36 L461.14,1004.89 L461.45,1003.41 L461.77,1001.95 L462.11,1000.48 L462.47,999.03 L462.85,997.58 L463.24,996.14 L463.66,994.7 L464.09,993.27 L464.55,991.85 L465.03,990.44 L465.53,989.03 L466.05,987.63 L466.6,986.24 L467.17,984.86 L467.76,983.49 L468.39,982.21 L469.06,981.38 L469.78,981.39 L470.53,982.16 L471.25,983.23 L471.92,984.39 L472.54,985.61 L473.11,986.91 L473.65,988.26 L474.14,989.66 L474.6,991.12 L475.02,992.61 L475.42,994.14 L475.79,995.69 L476.13,997.26 L476.46,998.85 L476.77,1000.45 L477.07,1002.06 L477.36,1003.65 L477.65,1005.24 L477.93,1006.81 L478.21,1008.37 L478.48,1009.91 L478.76,1011.44 L479.03,1012.96 L479.3,1014.46 L479.56,1015.96 L479.83,1017.44 L480.09,1018.92 L480.35,1020.38 L480.6,1021.84 L480.86,1023.3 L481.11,1024.75 L481.36,1026.19 L481.61,1027.64 L481.85,1029.08 L482.09,1030.52 L482.33,1031.96 L482.57,1033.4 L482.8,1034.84 L483.03,1036.28 L483.26,1037.73 L483.49,1039.19 L483.71,1040.64 L483.94,1042.1 L484.16,1043.56 L484.37,1045.02 L484.59,1046.49 L484.8,1047.96 L485.02,1049.43 L485.23,1050.9 L485.43,1052.38 L485.64,1053.85 L485.84,1055.33 L486.05,1056.82 L486.25,1058.3 L486.45,1059.79 L486.65,1061.27 L486.85,1062.76 L487.04,1064.25 L487.24,1065.74 L487.43,1067.24 L487.62,1068.73 L487.81,1070.23 L488,1071.72 L488.19,1073.22 L488.38,1074.72 L488.57,1076.22 L488.76,1077.72 L488.94,1079.22 L489.13,1080.72 L489.31,1082.22 L489.5,1083.72 L489.68,1085.22 L489.86,1086.72 L490.05,1088.22 L490.23,1089.72 L490.41,1091.22 L490.6,1092.72 L490.78,1094.22 L490.96,1095.72 L491.14,1097.22 L491.33,1098.72 L491.51,1100.22 L491.69,1101.72 L491.87,1103.21 L492.05,1104.71 L492.23,1106.21 L492.42,1107.71 L492.6,1109.2 L492.78,1110.7 L492.96,1112.2 L493.14,1113.69 L493.32,1115.19 L493.5,1116.68 L493.68,1118.18 L493.86,1119.67 L494.05,1121.17 L494.23,1122.66 L494.41,1124.16 L494.59,1125.65 L494.77,1127.14 L494.95,1128.64 L495.13,1130.13 L495.31,1131.62 L495.49,1133.11 L495.67,1134.61 L495.85,1136.1 L496.03,1137.59 L496.22,1139.08 L496.4,1140.57 L496.58,1142.07 L496.76,1143.56 L496.94,1145.05 L497.12,1146.54 L497.3,1148.03 L497.48,1149.52 L497.67,1151.01 L497.85,1152.5 L498.03,1153.99 L498.21,1155.48 L498.39,1156.97 L498.58,1158.46 L498.76,1159.95 L498.94,1161.44 L499.12,1162.93 L499.31,1164.42 L499.49,1165.91 L499.67,1167.39 L499.86,1168.88 L500.04,1170.37 L500.22,1171.86 L500.41,1173.35 L500.59,1174.84 L500.78,1176.32 L500.96,1177.81 L501.14,1179.3 L501.33,1180.79 L501.51,1182.28 L501.7,1183.76 L501.89,1185.25 L502.07,1186.74 L502.26,1188.23 L502.44,1189.71 L502.63,1191.2 L502.82,1192.69 L503,1194.18 L503.19,1195.66 L503.38,1197.15 L503.57,1198.64 L503.76,1200.12 L503.95,1201.61 L504.13,1203.1 L504.32,1204.59 L504.51,1206.07 L504.7,1207.56 L504.89,1209.05 L505.08,1210.53 L505.28,1212.02 L505.47,1213.51 L505.66,1214.99 L505.85,1216.48 L506.04,1217.97 L506.24,1219.46 L506.43,1220.94 L506.63,1222.43 L506.82,1223.92 L507.01,1225.41 L507.21,1226.89 L507.4,1228.38 L507.6,1229.87 L507.8,1231.35 L507.99,1232.84 L508.19,1234.33 L508.39,1235.82 L508.59,1237.31 L508.79,1238.79 L508.99,1240.28 L509.19,1241.77 L509.39,1243.26 L509.59,1244.75 L509.79,1246.24 L509.99,1247.72 L510.19,1249.21 L510.4,1250.7 L510.6,1252.19 L510.8,1253.68 L511.01,1255.17 L511.21,1256.66 L511.42,1258.15 L511.62,1259.64 L511.83,1261.13 L512.04,1262.62 L512.25,1264.11 L512.45,1265.6 L512.66,1267.09 L512.87,1268.58 L513.08,1270.07 L513.29,1271.56 L513.51,1273.05 L513.72,1274.54 L513.93,1276.03 L514.15,1277.52 L514.36,1279.02 L514.58,1280.51 L514.8,1282 L515.02,1283.49 L515.24,1284.98 L515.46,1286.47 L515.69,1287.96 L515.91,1289.45 L516.14,1290.94 L516.37,1292.43 L516.6,1293.92 L516.83,1295.41 L517.06,1296.9 L517.3,1298.39 L517.54,1299.88 L517.78,1301.36 L518.02,1302.85 L518.27,1304.34 L518.51,1305.83 L518.76,1307.31 L519.01,1308.8 L519.27,1310.28 L519.53,1311.77 L519.79,1313.25 L520.05,1314.73 L520.31,1316.22 L520.58,1317.7 L520.85,1319.18 L521.13,1320.66 L521.41,1322.14 L521.69,1323.62 L521.97,1325.09 L522.26,1326.57 L522.55,1328.05 L522.84,1329.52 L523.14,1331 L523.44,1332.47 L523.75,1333.94 L524.06,1335.41 L524.37,1336.88 L524.69,1338.35 L525.01,1339.82 L525.33,1341.29 L525.66,1342.75 L525.99,1344.22 L526.33,1345.68 L526.67,1347.14 L527.02,1348.61 L527.37,1350.06 L527.72,1351.52 L528.08,1352.98 L528.44,1354.44 L528.81,1355.89 L529.19,1357.34 L529.56,1358.79 L529.95,1360.24 L530.33,1361.69 L530.73,1363.14 L531.13,1364.59 L531.53,1366.03 L531.94,1367.47 L532.35,1368.91 L532.77,1370.35 L533.2,1371.79 L533.63,1373.22 L534.06,1374.66 L534.51,1376.09 L534.95,1377.52 L535.41,1378.95 L535.87,1380.37 L536.33,1381.8 L536.8,1383.22 L537.28,1384.64 L537.77,1386.06 L538.26,1387.48 L538.75,1388.89 L539.26,1390.31 L539.77,1391.72 L540.28,1393.13 L540.8,1394.53 L541.33,1395.94 L541.87,1397.34 L542.41,1398.74 L542.96,1400.14 L543.52,1401.53 L544.08,1402.93 L544.65,1404.32 L545.23,1405.71 L545.82,1407.09 L546.41,1408.48 L547.01,1409.86 L547.62,1411.23 L548.24,1412.61 L548.87,1413.97 L549.51,1415.34 L550.15,1416.7 L550.81,1418.05 L551.48,1419.4 L552.16,1420.74 L552.85,1422.07 L553.55,1423.4 L554.26,1424.72 L554.99,1426.03 L555.72,1427.34 L556.47,1428.64 L557.24,1429.92 L558.01,1431.2 L558.81,1432.47 L559.61,1433.73 L560.43,1434.98 L561.27,1436.22 L562.12,1437.45 L562.98,1438.67 L563.87,1439.88 L564.76,1441.07 L565.68,1442.26 L566.61,1443.43 L567.56,1444.59 L568.53,1445.73 L569.51,1446.86 L570.52,1447.98 L571.54,1449.08 L572.58,1450.17 L573.64,1451.24 L574.72,1452.3 L575.82,1453.34 L576.93,1454.37 L578.06,1455.39 L579.2,1456.4 L580.34,1457.41 L581.49,1458.41 L582.64,1459.42 L583.78,1460.42 L584.92,1461.44 L586.05,1462.45 L587.17,1463.48 L588.27,1464.52 L589.35,1465.58 L590.41,1466.65 L591.44,1467.74 L592.45,1468.86 L593.42,1469.99 L594.36,1471.16 L595.28,1472.34 L596.17,1473.55 L597.04,1474.77 L597.89,1476 L598.73,1477.24 L599.57,1478.48 L600.4,1479.73 L601.24,1480.98 L602.08,1482.22 L602.93,1483.45 L603.79,1484.68 L604.67,1485.89 L605.57,1487.08 L606.5,1488.26 L607.46,1489.41 L608.46,1490.53 L609.49,1491.63 L610.57,1492.69 L611.69,1493.71 L612.84,1494.71 L613.98,1495.71 L615.07,1496.72 L616.09,1497.78 L616.98,1498.9 L617.71,1500.11 L618.25,1501.42 L618.56,1502.86 L618.59,1504.46 L618.32,1506.24 L617.71,1508.21" fill="none" stroke="#0000ff" stroke-width="4.6" stroke-linecap="round" stroke-linejoin="round" stroke-dasharray="8 17"/>
<path d="M444,1506.5 L445.33,1506.39 L446.68,1506.29 L448.05,1506.21 L449.46,1506.14 L450.89,1506.07 L452.34,1506.02 L453.81,1505.97 L455.3,1505.93 L456.81,1505.89 L458.33,1505.86 L459.87,1505.82 L461.42,1505.78 L462.99,1505.74 L464.56,1505.7 L466.14,1505.65 L467.73,1505.6 L469.33,1505.54 L470.93,1505.46 L472.53,1505.38 L474.13,1505.28 L475.72,1505.17 L477.32,1505.04 L478.91,1504.89 L480.5,1504.73 L482.08,1504.54 L483.65,1504.33 L485.2,1504.1 L486.75,1503.85 L488.28,1503.56 L489.8,1503.25 L491.3,1502.91 L492.78,1502.54 L494.24,1502.14 L495.68,1501.7 L497.1,1501.22 L498.49,1500.71 L499.85,1500.16 L501.19,1499.57 L502.49,1498.94 L503.77,1498.27 L505.03,1497.57 L506.26,1496.82 L507.46,1496.05 L508.64,1495.23 L509.79,1494.39 L510.92,1493.51 L512.02,1492.6 L513.1,1491.66 L514.16,1490.69 L515.2,1489.69 L516.22,1488.66 L517.21,1487.61 L518.19,1486.53 L519.14,1485.43 L520.08,1484.3 L521,1483.16 L521.9,1481.99 L522.78,1480.8 L523.65,1479.59 L524.5,1478.36 L525.34,1477.12 L526.15,1475.85 L526.96,1474.58 L527.75,1473.29 L528.53,1471.98 L529.29,1470.67 L530.04,1469.34 L530.78,1468 L531.51,1466.65 L532.23,1465.3 L532.94,1463.94 L533.64,1462.57 L534.33,1461.19 L535.01,1459.82 L535.68,1458.44 L536.34,1457.05 L537,1455.67 L537.65,1454.28 L538.3,1452.89 L538.93,1451.5 L539.56,1450.11 L540.19,1448.71 L540.8,1447.32 L541.41,1445.92 L542.02,1444.52 L542.61,1443.12 L543.2,1441.72 L543.78,1440.32 L544.36,1438.91 L544.93,1437.51 L545.49,1436.1 L546.05,1434.69 L546.6,1433.28 L547.15,1431.86 L547.68,1430.45 L548.22,1429.03 L548.74,1427.61 L549.26,1426.19 L549.78,1424.77 L550.28,1423.35 L550.79,1421.93 L551.28,1420.5 L551.77,1419.08 L552.26,1417.65 L552.74,1416.22 L553.21,1414.79 L553.68,1413.36 L554.14,1411.93 L554.6,1410.49 L555.05,1409.06 L555.5,1407.62 L555.94,1406.18 L556.37,1404.74 L556.8,1403.3 L557.23,1401.86 L557.65,1400.41 L558.06,1398.97 L558.47,1397.52 L558.88,1396.08 L559.28,1394.63 L559.67,1393.18 L560.06,1391.73 L560.45,1390.28 L560.83,1388.82 L561.21,1387.37 L561.58,1385.92 L561.95,1384.46 L562.31,1383 L562.67,1381.54 L563.02,1380.09 L563.37,1378.63 L563.72,1377.16 L564.06,1375.7 L564.4,1374.24 L564.73,1372.77 L565.06,1371.31 L565.38,1369.84 L565.71,1368.38 L566.02,1366.91 L566.34,1365.44 L566.65,1363.97 L566.95,1362.5 L567.26,1361.03 L567.55,1359.56 L567.85,1358.08 L568.14,1356.61 L568.43,1355.14 L568.71,1353.66 L569,1352.18 L569.27,1350.71 L569.55,1349.23 L569.82,1347.75 L570.09,1346.27 L570.36,1344.79 L570.62,1343.31 L570.88,1341.83 L571.13,1340.35 L571.39,1338.87 L571.64,1337.38 L571.89,1335.9 L572.13,1334.41 L572.38,1332.93 L572.62,1331.44 L572.85,1329.96 L573.09,1328.47 L573.32,1326.98 L573.55,1325.5 L573.78,1324.01 L574.01,1322.52 L574.23,1321.03 L574.45,1319.54 L574.67,1318.05 L574.89,1316.56 L575.1,1315.07 L575.32,1313.58 L575.53,1312.09 L575.74,1310.59 L575.94,1309.1 L576.15,1307.61 L576.35,1306.12 L576.56,1304.62 L576.76,1303.13 L576.96,1301.63 L577.15,1300.14 L577.35,1298.64 L577.54,1297.15 L577.74,1295.65 L577.93,1294.16 L578.12,1292.66 L578.31,1291.17 L578.49,1289.67 L578.68,1288.17 L578.86,1286.68 L579.05,1285.18 L579.23,1283.68 L579.41,1282.18 L579.59,1280.69 L579.76,1279.19 L579.94,1277.69 L580.11,1276.19 L580.28,1274.69 L580.46,1273.19 L580.63,1271.69 L580.8,1270.19 L580.96,1268.69 L581.13,1267.19 L581.3,1265.69 L581.46,1264.19 L581.62,1262.69 L581.78,1261.19 L581.94,1259.69 L582.1,1258.19 L582.26,1256.69 L582.42,1255.19 L582.57,1253.69 L582.73,1252.19 L582.88,1250.69 L583.04,1249.19 L583.19,1247.68 L583.34,1246.18 L583.49,1244.68 L583.64,1243.18 L583.78,1241.68 L583.93,1240.17 L584.07,1238.67 L584.22,1237.17 L584.36,1235.67 L584.51,1234.17 L584.65,1232.66 L584.79,1231.16 L584.93,1229.66 L585.07,1228.16 L585.21,1226.65 L585.34,1225.15 L585.48,1223.65 L585.62,1222.15 L585.75,1220.64 L585.88,1219.14 L586.02,1217.64 L586.15,1216.14 L586.28,1214.64 L586.41,1213.13 L586.54,1211.63 L586.67,1210.13 L586.8,1208.63 L586.93,1207.12 L587.06,1205.62 L587.19,1204.12 L587.31,1202.62 L587.44,1201.12 L587.57,1199.62 L587.69,1198.11 L587.82,1196.61 L587.94,1195.11 L588.06,1193.61 L588.19,1192.11 L588.31,1190.61 L588.43,1189.11 L588.55,1187.61 L588.67,1186.1 L588.79,1184.6 L588.91,1183.1 L589.03,1181.6 L589.15,1180.1 L589.27,1178.6 L589.39,1177.1 L589.51,1175.6 L589.63,1174.1 L589.74,1172.61 L589.86,1171.11 L589.98,1169.61 L590.09,1168.11 L590.21,1166.61 L590.33,1165.11 L590.44,1163.61 L590.56,1162.12 L590.68,1160.62 L590.79,1159.12 L590.91,1157.63 L591.02,1156.13 L591.14,1154.63 L591.25,1153.14 L591.37,1151.64 L591.48,1150.14 L591.6,1148.65 L591.71,1147.15 L591.83,1145.66 L591.94,1144.17 L592.06,1142.67 L592.18,1141.18 L592.3,1139.68 L592.43,1138.19 L592.56,1136.7 L592.7,1135.2 L592.85,1133.71 L593,1132.22 L593.17,1130.72 L593.34,1129.23 L593.53,1127.74 L593.73,1126.24 L593.95,1124.75 L594.18,1123.25 L594.42,1121.76 L594.68,1120.26 L594.96,1118.77 L595.26,1117.27 L595.58,1115.78 L595.92,1114.28 L596.28,1112.79 L596.66,1111.29 L597.07,1109.79 L597.5,1108.29 L597.96,1106.8 L598.44,1105.3 L598.95,1103.8 L599.49,1102.3 L600.07,1100.8 L600.67,1099.29 L601.3,1097.79 L601.97,1096.29 L602.65,1094.94 L603.33,1094 L603.97,1093.73 L604.56,1094.15 L605.11,1095.07 L605.62,1096.31 L606.1,1097.69 L606.54,1099.08 L606.96,1100.48 L607.34,1101.9 L607.69,1103.32 L608.02,1104.76 L608.33,1106.21 L608.6,1107.66 L608.86,1109.13 L609.09,1110.6 L609.3,1112.08 L609.49,1113.56 L609.66,1115.06 L609.81,1116.56 L609.95,1118.07 L610.07,1119.58 L610.17,1121.09 L610.27,1122.62 L610.35,1124.14 L610.42,1125.67 L610.48,1127.2 L610.53,1128.74 L610.57,1130.27 L610.61,1131.81 L610.65,1133.35 L610.67,1134.89 L610.7,1136.44 L610.73,1137.98 L610.75,1139.52 L610.78,1141.06 L610.81,1142.59 L610.84,1144.13 L610.87,1145.66 L610.91,1147.19 L610.96,1148.72 L611.01,1150.25 L611.07,1151.77 L611.14,1153.28 L611.21,1154.8 L611.28,1156.31 L611.36,1157.82 L611.45,1159.33 L611.54,1160.84 L611.64,1162.34 L611.74,1163.84 L611.84,1165.34 L611.96,1166.84 L612.07,1168.34 L612.19,1169.83 L612.31,1171.33 L612.44,1172.82 L612.57,1174.31 L612.71,1175.8 L612.85,1177.29 L612.99,1178.77 L613.14,1180.26 L613.29,1181.74 L613.45,1183.23 L613.6,1184.71 L613.76,1186.2 L613.93,1187.68 L614.09,1189.16 L614.26,1190.65 L614.43,1192.13 L614.6,1193.62 L614.78,1195.1 L614.96,1196.58 L615.14,1198.07 L615.32,1199.55 L615.5,1201.04 L615.69,1202.53 L615.88,1204.01 L616.07,1205.5 L616.26,1206.99 L616.45,1208.48 L616.64,1209.98 L616.83,1211.47 L617.03,1212.97 L617.22,1214.46 L617.42,1215.96 L617.61,1217.46 L617.81,1218.97 L618.01,1220.47 L618.2,1221.98 L618.4,1223.49 L618.59,1225" fill="none" stroke="#ff0000" stroke-width="4.6" stroke-linecap="round" stroke-linejoin="round"/>
<path d="M444,1506.53 L445.33,1506.39 L446.68,1506.26 L448.07,1506.15 L449.47,1506.06 L450.9,1505.99 L452.35,1505.92 L453.82,1505.87 L455.31,1505.83 L456.82,1505.79 L458.34,1505.76 L459.88,1505.74 L461.43,1505.72 L462.99,1505.69 L464.56,1505.67 L466.14,1505.65 L467.73,1505.62 L469.32,1505.58 L470.92,1505.54 L472.52,1505.49 L474.11,1505.43 L475.71,1505.35 L477.31,1505.26 L478.9,1505.16 L480.49,1505.03 L482.07,1504.89 L483.64,1504.73 L485.2,1504.54 L486.75,1504.33 L488.29,1504.09 L489.81,1503.82 L491.32,1503.53 L492.81,1503.2 L494.28,1502.84 L495.73,1502.44 L497.16,1502.01 L498.57,1501.54 L499.95,1501.03 L501.3,1500.47 L502.63,1499.88 L503.93,1499.25 L505.21,1498.58 L506.46,1497.87 L507.69,1497.12 L508.9,1496.34 L510.08,1495.53 L511.24,1494.68 L512.38,1493.8 L513.5,1492.88 L514.59,1491.94 L515.67,1490.97 L516.72,1489.97 L517.76,1488.95 L518.77,1487.89 L519.77,1486.82 L520.75,1485.72 L521.71,1484.6 L522.66,1483.45 L523.58,1482.29 L524.5,1481.11 L525.39,1479.9 L526.27,1478.68 L527.14,1477.45 L527.99,1476.2 L528.83,1474.94 L529.66,1473.66 L530.47,1472.37 L531.27,1471.07 L532.06,1469.77 L532.84,1468.45 L533.6,1467.12 L534.36,1465.79 L535.11,1464.46 L535.85,1463.12 L536.57,1461.78 L537.3,1460.43 L538.01,1459.08 L538.71,1457.73 L539.41,1456.37 L540.09,1455.02 L540.77,1453.66 L541.44,1452.29 L542.11,1450.93 L542.76,1449.56 L543.41,1448.19 L544.05,1446.81 L544.68,1445.44 L545.3,1444.06 L545.91,1442.68 L546.52,1441.29 L547.12,1439.91 L547.72,1438.52 L548.3,1437.13 L548.88,1435.73 L549.45,1434.33 L550.01,1432.94 L550.57,1431.54 L551.12,1430.13 L551.66,1428.73 L552.2,1427.32 L552.73,1425.91 L553.25,1424.5 L553.76,1423.08 L554.27,1421.67 L554.77,1420.25 L555.27,1418.83 L555.76,1417.41 L556.24,1415.98 L556.72,1414.55 L557.19,1413.13 L557.65,1411.7 L558.11,1410.26 L558.56,1408.83 L559.01,1407.39 L559.45,1405.96 L559.88,1404.52 L560.31,1403.08 L560.73,1401.63 L561.15,1400.19 L561.56,1398.74 L561.97,1397.3 L562.37,1395.85 L562.77,1394.4 L563.16,1392.95 L563.54,1391.49 L563.92,1390.04 L564.3,1388.58 L564.67,1387.12 L565.03,1385.66 L565.39,1384.2 L565.75,1382.74 L566.1,1381.28 L566.45,1379.81 L566.79,1378.35 L567.13,1376.88 L567.46,1375.41 L567.79,1373.95 L568.11,1372.48 L568.43,1371 L568.75,1369.53 L569.06,1368.06 L569.37,1366.59 L569.67,1365.11 L569.97,1363.64 L570.27,1362.16 L570.56,1360.68 L570.85,1359.2 L571.14,1357.72 L571.42,1356.24 L571.7,1354.76 L571.97,1353.28 L572.25,1351.8 L572.51,1350.32 L572.78,1348.83 L573.04,1347.35 L573.3,1345.87 L573.56,1344.38 L573.81,1342.9 L574.06,1341.41 L574.31,1339.92 L574.56,1338.44 L574.8,1336.95 L575.04,1335.46 L575.28,1333.97 L575.51,1332.49 L575.75,1331 L575.98,1329.51 L576.21,1328.02 L576.43,1326.53 L576.66,1325.04 L576.88,1323.56 L577.1,1322.07 L577.32,1320.58 L577.54,1319.09 L577.75,1317.6 L577.96,1316.11 L578.17,1314.62 L578.38,1313.13 L578.59,1311.64 L578.8,1310.15 L579,1308.66 L579.2,1307.17 L579.4,1305.68 L579.6,1304.19 L579.8,1302.7 L579.99,1301.2 L580.19,1299.71 L580.38,1298.22 L580.57,1296.73 L580.76,1295.24 L580.94,1293.75 L581.13,1292.25 L581.31,1290.76 L581.49,1289.27 L581.68,1287.78 L581.85,1286.29 L582.03,1284.79 L582.21,1283.3 L582.38,1281.81 L582.56,1280.31 L582.73,1278.82 L582.9,1277.33 L583.07,1275.83 L583.24,1274.34 L583.41,1272.84 L583.57,1271.35 L583.74,1269.85 L583.9,1268.36 L584.06,1266.86 L584.22,1265.37 L584.38,1263.87 L584.54,1262.38 L584.7,1260.88 L584.86,1259.38 L585.01,1257.89 L585.17,1256.39 L585.32,1254.89 L585.47,1253.4 L585.62,1251.9 L585.77,1250.4 L585.92,1248.9 L586.07,1247.41 L586.22,1245.91 L586.37,1244.41 L586.51,1242.91 L586.66,1241.41 L586.8,1239.91 L586.95,1238.41 L587.09,1236.91 L587.23,1235.41 L587.37,1233.91 L587.52,1232.41 L587.66,1230.91 L587.8,1229.41 L587.93,1227.91 L588.07,1226.41 L588.21,1224.91 L588.35,1223.41 L588.48,1221.9 L588.62,1220.4 L588.76,1218.9 L588.89,1217.39 L589.03,1215.89 L589.16,1214.39 L589.3,1212.88 L589.43,1211.38 L589.56,1209.88 L589.7,1208.37 L589.83,1206.87 L589.96,1205.36 L590.09,1203.86 L590.22,1202.35 L590.36,1200.84 L590.49,1199.34 L590.62,1197.83 L590.75,1196.32 L590.88,1194.82 L591.01,1193.31 L591.14,1191.8 L591.27,1190.29 L591.4,1188.78 L591.53,1187.27 L591.66,1185.77 L591.8,1184.26 L591.93,1182.75 L592.06,1181.24 L592.19,1179.73 L592.33,1178.22 L592.48,1176.71 L592.63,1175.2 L592.78,1173.69 L592.95,1172.19 L593.13,1170.68 L593.32,1169.18 L593.52,1167.68 L593.74,1166.18 L593.98,1164.69 L594.23,1163.2 L594.5,1161.71 L594.79,1160.22 L595.1,1158.74 L595.44,1157.26 L595.8,1155.78 L596.18,1154.31 L596.59,1152.84 L597.03,1151.38 L597.5,1149.92 L598,1148.47 L598.53,1147.02 L599.1,1145.58 L599.7,1144.14 L600.33,1142.71 L601.01,1141.29 L601.72,1139.87 L602.46,1138.55 L603.2,1137.59 L603.91,1137.26 L604.56,1137.62 L605.17,1138.48 L605.73,1139.64 L606.25,1140.93 L606.73,1142.24 L607.17,1143.58 L607.58,1144.94 L607.95,1146.32 L608.29,1147.71 L608.6,1149.13 L608.88,1150.57 L609.14,1152.02 L609.36,1153.49 L609.56,1154.97 L609.74,1156.46 L609.9,1157.97 L610.04,1159.49 L610.16,1161.02 L610.26,1162.56 L610.35,1164.11 L610.43,1165.66 L610.49,1167.22 L610.55,1168.78 L610.59,1170.35 L610.63,1171.92 L610.66,1173.49 L610.69,1175.07 L610.72,1176.64 L610.75,1178.21 L610.78,1179.78 L610.81,1181.34 L610.85,1182.9 L610.89,1184.46 L610.94,1186 L611,1187.54 L611.06,1189.08 L611.13,1190.61 L611.21,1192.13 L611.3,1193.65 L611.39,1195.16 L611.49,1196.66 L611.6,1198.17 L611.71,1199.66 L611.83,1201.16 L611.95,1202.65 L612.08,1204.13 L612.21,1205.62 L612.35,1207.1 L612.5,1208.58 L612.65,1210.05 L612.8,1211.52 L612.96,1212.99 L613.13,1214.46 L613.3,1215.93 L613.47,1217.4 L613.64,1218.87 L613.82,1220.33 L614.01,1221.8 L614.19,1223.27 L614.38,1224.73 L614.58,1226.2 L614.77,1227.67 L614.97,1229.14 L615.17,1230.61 L615.38,1232.08 L615.58,1233.56 L615.79,1235.04 L616,1236.52 L616.21,1238 L616.42,1239.49 L616.64,1240.98 L616.85,1242.47 L617.07,1243.97 L617.29,1245.47 L617.5,1246.98 L617.72,1248.49 L617.94,1250.01 L618.16,1251.53 L618.38,1253.06 L618.59,1254.59" fill="none" stroke="#ff0000" stroke-width="4.6" stroke-linecap="round" stroke-linejoin="round" stroke-dasharray="8 17" stroke-dashoffset="16.76"/>
<path d="M445.49,1506.1 L447.28,1506.07 L449,1505.95 L450.65,1505.75 L452.24,1505.47 L453.78,1505.11 L455.25,1504.67 L456.66,1504.16 L458.02,1503.58 L459.33,1502.94 L460.58,1502.23 L461.79,1501.45 L462.95,1500.62 L464.06,1499.74 L465.12,1498.8 L466.14,1497.81 L467.13,1496.77 L468.07,1495.69 L468.97,1494.57 L469.84,1493.4 L470.68,1492.2 L471.48,1490.97 L472.26,1489.71 L473,1488.42 L473.72,1487.11 L474.42,1485.77 L475.09,1484.42 L475.74,1483.04 L476.37,1481.66 L476.98,1480.26 L477.58,1478.86 L478.16,1477.45 L478.74,1476.04 L479.29,1474.63 L479.84,1473.21 L480.38,1471.79 L480.9,1470.37 L481.41,1468.95 L481.91,1467.52 L482.4,1466.09 L482.88,1464.66 L483.35,1463.22 L483.81,1461.79 L484.26,1460.35 L484.7,1458.91 L485.13,1457.47 L485.55,1456.02 L485.97,1454.58 L486.37,1453.13 L486.77,1451.68 L487.15,1450.23 L487.53,1448.77 L487.9,1447.32 L488.27,1445.86 L488.63,1444.4 L488.98,1442.94 L489.32,1441.48 L489.66,1440.02 L489.99,1438.55 L490.31,1437.09 L490.63,1435.62 L490.95,1434.15 L491.25,1432.68 L491.56,1431.21 L491.86,1429.74 L492.15,1428.27 L492.44,1426.79 L492.73,1425.32 L493.01,1423.84 L493.29,1422.37 L493.56,1420.89 L493.84,1419.41 L494.11,1417.93 L494.37,1416.46 L494.64,1414.98 L494.9,1413.5 L495.16,1412.02 L495.42,1410.54 L495.68,1409.06 L495.94,1407.58 L496.19,1406.09 L496.45,1404.61 L496.7,1403.13 L496.96,1401.65 L497.21,1400.17 L497.47,1398.69 L497.72,1397.21 L497.98,1395.73 L498.24,1394.25 L498.5,1392.77 L498.76,1391.29 L499.02,1389.81 L499.28,1388.33 L499.55,1386.85 L499.82,1385.37 L500.09,1383.89 L500.37,1382.42 L500.65,1380.94 L500.93,1379.47 L501.21,1377.99 L501.5,1376.52 L501.8,1375.05 L502.1,1373.57 L502.4,1372.1 L502.71,1370.63 L503.02,1369.17 L503.34,1367.7 L503.66,1366.23 L503.99,1364.77 L504.33,1363.31 L504.67,1361.84 L505.02,1360.38 L505.38,1358.93 L505.74,1357.47 L506.11,1356.01 L506.48,1354.56 L506.86,1353.1 L507.25,1351.65 L507.64,1350.2 L508.03,1348.75 L508.42,1347.3 L508.82,1345.85 L509.23,1344.4 L509.63,1342.95 L510.04,1341.51 L510.45,1340.06 L510.86,1338.61 L511.27,1337.16 L511.68,1335.72 L512.09,1334.27 L512.51,1332.82 L512.92,1331.38 L513.33,1329.93 L513.74,1328.48 L514.15,1327.03 L514.55,1325.58 L514.96,1324.13 L515.36,1322.68 L515.76,1321.23 L516.15,1319.78 L516.54,1318.33 L516.93,1316.87 L517.31,1315.42 L517.69,1313.96 L518.06,1312.5 L518.43,1311.05 L518.79,1309.58 L519.14,1308.12 L519.49,1306.66 L519.83,1305.19 L520.17,1303.73 L520.51,1302.26 L520.84,1300.79 L521.16,1299.32 L521.49,1297.85 L521.81,1296.38 L522.13,1294.91 L522.45,1293.44 L522.76,1291.97 L523.08,1290.5 L523.4,1289.03 L523.72,1287.56 L524.03,1286.09 L524.35,1284.62 L524.67,1283.15 L525,1281.68 L525.32,1280.21 L525.65,1278.74 L525.98,1277.28 L526.32,1275.81 L526.66,1274.35 L527.01,1272.89 L527.36,1271.43 L527.71,1269.97 L528.08,1268.51 L528.45,1267.05 L528.82,1265.6 L529.21,1264.15 L529.6,1262.7 L530,1261.25 L530.4,1259.81 L530.81,1258.36 L531.22,1256.92 L531.64,1255.48 L532.06,1254.04 L532.49,1252.6 L532.93,1251.16 L533.36,1249.72 L533.81,1248.29 L534.25,1246.86 L534.7,1245.42 L535.16,1243.99 L535.61,1242.56 L536.07,1241.13 L536.54,1239.7 L537,1238.27 L537.47,1236.84 L537.94,1235.41 L538.41,1233.99 L538.89,1232.56 L539.36,1231.13 L539.84,1229.71 L540.32,1228.28 L540.79,1226.85 L541.27,1225.43 L541.75,1224 L542.23,1222.57 L542.71,1221.15 L543.19,1219.72 L543.67,1218.3 L544.15,1216.87 L544.62,1215.44 L545.1,1214.01 L545.57,1212.58 L546.04,1211.16 L546.51,1209.73 L546.98,1208.3 L547.45,1206.86 L547.91,1205.43 L548.37,1204 L548.83,1202.57 L549.28,1201.13 L549.74,1199.69 L550.18,1198.26 L550.63,1196.82 L551.07,1195.38 L551.51,1193.94 L551.94,1192.5 L552.37,1191.06 L552.8,1189.61 L553.23,1188.17 L553.65,1186.72 L554.07,1185.28 L554.49,1183.83 L554.9,1182.38 L555.31,1180.94 L555.72,1179.49 L556.12,1178.04 L556.52,1176.59 L556.92,1175.13 L557.32,1173.68 L557.71,1172.23 L558.1,1170.77 L558.48,1169.32 L558.86,1167.86 L559.24,1166.4 L559.62,1164.95 L559.99,1163.49 L560.36,1162.03 L560.73,1160.57 L561.1,1159.11 L561.46,1157.65 L561.82,1156.19 L562.17,1154.72 L562.53,1153.26 L562.88,1151.8 L563.22,1150.33 L563.57,1148.87 L563.91,1147.4 L564.25,1145.93 L564.58,1144.47 L564.92,1143 L565.25,1141.53 L565.57,1140.06 L565.9,1138.59 L566.22,1137.12 L566.54,1135.65 L566.85,1134.18 L567.16,1132.71 L567.47,1131.24 L567.78,1129.77 L568.09,1128.29 L568.39,1126.82 L568.69,1125.35 L568.98,1123.87 L569.27,1122.4 L569.57,1120.92 L569.85,1119.45 L570.14,1117.97 L570.42,1116.5 L570.7,1115.02 L570.98,1113.54 L571.25,1112.06 L571.52,1110.59 L571.79,1109.11 L572.06,1107.63 L572.32,1106.15 L572.58,1104.67 L572.84,1103.19 L573.09,1101.71 L573.35,1100.23 L573.6,1098.75 L573.85,1097.27 L574.09,1095.79 L574.33,1094.31 L574.57,1092.83 L574.81,1091.35 L575.04,1089.87 L575.28,1088.39 L575.51,1086.91 L575.73,1085.43 L575.96,1083.94 L576.18,1082.46 L576.4,1080.98 L576.62,1079.5 L576.84,1078.01 L577.05,1076.53 L577.26,1075.05 L577.48,1073.56 L577.68,1072.08 L577.89,1070.59 L578.1,1069.11 L578.3,1067.62 L578.5,1066.14 L578.7,1064.65 L578.9,1063.16 L579.1,1061.68 L579.3,1060.19 L579.49,1058.7 L579.68,1057.21 L579.88,1055.72 L580.07,1054.23 L580.26,1052.74 L580.45,1051.25 L580.64,1049.76 L580.83,1048.27 L581.01,1046.78 L581.2,1045.29 L581.38,1043.79 L581.57,1042.3 L581.75,1040.8 L581.94,1039.31 L582.12,1037.81 L582.3,1036.32 L582.49,1034.82 L582.67,1033.32 L582.85,1031.82 L583.03,1030.33 L583.22,1028.83 L583.4,1027.33 L583.58,1025.82 L583.76,1024.32 L583.94,1022.82 L584.13,1021.32 L584.31,1019.81 L584.49,1018.31 L584.68,1016.8 L584.86,1015.29 L585.04,1013.79 L585.23,1012.28 L585.42,1010.77 L585.6,1009.26 L585.79,1007.75 L585.98,1006.24 L586.17,1004.72 L586.36,1003.21 L586.56,1001.7 L586.79,1000.18 L587.06,998.67 L587.37,997.16 L587.74,995.65 L588.17,994.14 L588.68,992.64 L589.28,991.24 L589.96,990.13 L590.72,989.46 L591.57,989.39 L592.46,989.89 L593.31,990.77 L594.05,991.87 L594.64,993.08 L595.1,994.38 L595.44,995.75 L595.69,997.19 L595.86,998.69 L595.97,1000.22 L596.03,1001.78 L596.07,1003.36 L596.11,1004.94 L596.15,1006.51 L596.19,1008.09 L596.24,1009.65 L596.29,1011.22 L596.35,1012.78 L596.41,1014.33 L596.48,1015.89 L596.55,1017.43 L596.63,1018.98 L596.71,1020.52 L596.79,1022.06 L596.88,1023.59 L596.97,1025.12 L597.06,1026.65 L597.16,1028.18 L597.26,1029.7 L597.36,1031.22 L597.47,1032.74 L597.57,1034.25 L597.68,1035.76 L597.8,1037.27 L597.91,1038.78 L598.03,1040.29 L598.14,1041.79 L598.26,1043.3 L598.38,1044.8 L598.5,1046.3 L598.63,1047.79 L598.75,1049.29 L598.87,1050.79 L598.99,1052.28 L599.12,1053.78 L599.24,1055.27 L599.37,1056.76 L599.49,1058.26 L599.61,1059.75 L599.73,1061.24 L599.86,1062.73 L599.98,1064.22 L600.1,1065.72 L600.21,1067.21 L600.33,1068.7 L600.44,1070.19 L600.56,1071.69 L600.67,1073.18 L600.78,1074.67 L600.89,1076.17 L601,1077.66 L601.11,1079.15 L601.22,1080.65 L601.32,1082.14 L601.43,1083.64 L601.53,1085.13 L601.63,1086.63 L601.73,1088.12 L601.83,1089.62 L601.93,1091.11 L602.03,1092.61 L602.12,1094.1 L602.22,1095.6 L602.31,1097.1 L602.4,1098.59 L602.5,1100.09 L602.59,1101.59 L602.68,1103.08 L602.77,1104.58 L602.85,1106.08 L602.94,1107.58 L603.03,1109.07 L603.11,1110.57 L603.2,1112.07 L603.28,1113.57 L603.36,1115.07 L603.44,1116.56 L603.53,1118.06 L603.6,1119.56 L603.68,1121.06 L603.76,1122.56 L603.84,1124.06 L603.92,1125.56 L603.99,1127.06 L604.07,1128.56 L604.14,1130.06 L604.22,1131.56 L604.29,1133.06 L604.36,1134.56 L604.43,1136.06 L604.5,1137.56 L604.57,1139.06 L604.64,1140.56 L604.71,1142.06 L604.78,1143.56 L604.85,1145.07 L604.91,1146.57 L604.98,1148.07 L605.04,1149.57 L605.11,1151.07 L605.17,1152.57 L605.24,1154.08 L605.3,1155.58 L605.37,1157.08 L605.43,1158.58 L605.49,1160.08 L605.55,1161.59 L605.61,1163.09 L605.67,1164.59 L605.73,1166.09 L605.79,1167.6 L605.85,1169.1 L605.91,1170.6 L605.97,1172.11 L606.03,1173.61 L606.09,1175.11 L606.15,1176.62 L606.2,1178.12 L606.26,1179.62 L606.32,1181.13 L606.37,1182.63 L606.43,1184.13 L606.49,1185.64 L606.54,1187.14 L606.6,1188.65 L606.65,1190.15 L606.71,1191.65 L606.76,1193.16 L606.82,1194.66 L606.87,1196.17 L606.93,1197.67 L606.98,1199.18 L607.04,1200.68 L607.09,1202.18 L607.14,1203.69 L607.2,1205.19 L607.25,1206.7 L607.31,1208.2 L607.36,1209.71 L607.41,1211.21 L607.47,1212.72 L607.52,1214.22 L607.58,1215.73 L607.63,1217.23 L607.68,1218.74 L607.74,1220.24 L607.79,1221.75 L607.85,1223.25 L607.9,1224.76 L607.95,1226.26 L608.01,1227.77 L608.06,1229.27 L608.12,1230.78 L608.17,1232.28 L608.23,1233.79 L608.29,1235.29 L608.34,1236.8 L608.4,1238.3 L608.45,1239.8 L608.51,1241.31 L608.57,1242.81 L608.62,1244.32 L608.68,1245.82 L608.74,1247.33 L608.8,1248.83 L608.86,1250.34 L608.91,1251.84 L608.97,1253.35 L609.03,1254.85 L609.09,1256.36 L609.15,1257.86 L609.21,1259.37 L609.27,1260.87 L609.34,1262.38 L609.4,1263.88 L609.46,1265.39 L609.52,1266.89 L609.59,1268.4 L609.65,1269.9 L609.72,1271.4 L609.78,1272.91 L609.85,1274.41 L609.91,1275.92 L609.98,1277.42 L610.05,1278.93 L610.12,1280.43 L610.18,1281.93 L610.25,1283.44 L610.32,1284.94 L610.4,1286.44 L610.47,1287.95 L610.54,1289.45 L610.61,1290.96 L610.68,1292.46 L610.76,1293.96 L610.83,1295.47 L610.91,1296.97 L610.99,1298.47 L611.06,1299.98 L611.14,1301.48 L611.22,1302.98 L611.3,1304.48 L611.38,1305.99 L611.46,1307.49 L611.55,1308.99 L611.63,1310.49 L611.71,1312 L611.8,1313.5 L611.88,1315 L611.97,1316.5 L612.06,1318 L612.15,1319.51 L612.24,1321.01 L612.33,1322.51 L612.42,1324.01 L612.52,1325.51 L612.61,1327.01 L612.7,1328.51 L612.8,1330.02 L612.9,1331.52 L613,1333.02 L613.1,1334.52 L613.2,1336.02 L613.3,1337.52 L613.4,1339.02 L613.5,1340.52 L613.61,1342.02 L613.72,1343.52 L613.82,1345.02 L613.93,1346.52 L614.04,1348.02 L614.15,1349.52 L614.27,1351.01 L614.38,1352.51 L614.5,1354.01 L614.61,1355.51 L614.73,1357.01 L614.85,1358.51 L614.97,1360 L615.09,1361.5 L615.22,1363 L615.34,1364.5 L615.47,1365.99 L615.59,1367.49 L615.72,1368.99 L615.85,1370.48 L615.98,1371.98 L616.12,1373.48 L616.25,1374.97 L616.39,1376.47 L616.53,1377.97 L616.67,1379.46 L616.81,1380.96 L616.95,1382.45 L617.09,1383.95 L617.24,1385.44 L617.38,1386.94 L617.53,1388.43 L617.68,1389.92 L617.84,1391.42 L617.99,1392.91 L618.14,1394.41 L618.3,1395.9" fill="none" stroke="#009000" stroke-width="4.6" stroke-linecap="round" stroke-linejoin="round"/>
<path d="M447,1506 L448.7,1505.81 L450.36,1505.56 L451.97,1505.25 L453.53,1504.89 L455.05,1504.48 L456.52,1504.01 L457.94,1503.49 L459.32,1502.93 L460.66,1502.32 L461.96,1501.66 L463.21,1500.95 L464.43,1500.2 L465.61,1499.41 L466.75,1498.58 L467.85,1497.7 L468.92,1496.79 L469.95,1495.84 L470.95,1494.86 L471.92,1493.84 L472.85,1492.78 L473.76,1491.69 L474.63,1490.58 L475.48,1489.43 L476.29,1488.25 L477.08,1487.05 L477.85,1485.82 L478.58,1484.56 L479.3,1483.28 L479.99,1481.98 L480.66,1480.66 L481.31,1479.32 L481.94,1477.96 L482.54,1476.58 L483.14,1475.19 L483.71,1473.78 L484.27,1472.36 L484.81,1470.93 L485.33,1469.48 L485.85,1468.03 L486.35,1466.57 L486.84,1465.1 L487.32,1463.63 L487.79,1462.15 L488.25,1460.67 L488.71,1459.19 L489.16,1457.7 L489.6,1456.22 L490.04,1454.74 L490.47,1453.26 L490.89,1451.78 L491.31,1450.3 L491.73,1448.82 L492.14,1447.34 L492.55,1445.86 L492.96,1444.39 L493.36,1442.91 L493.75,1441.43 L494.15,1439.96 L494.54,1438.49 L494.92,1437.01 L495.31,1435.54 L495.69,1434.07 L496.06,1432.6 L496.44,1431.13 L496.81,1429.66 L497.19,1428.19 L497.56,1426.73 L497.93,1425.26 L498.29,1423.79 L498.66,1422.33 L499.02,1420.87 L499.39,1419.41 L499.75,1417.94 L500.12,1416.48 L500.48,1415.03 L500.84,1413.57 L501.21,1412.11 L501.57,1410.66 L501.94,1409.2 L502.3,1407.75 L502.67,1406.3 L503.04,1404.84 L503.41,1403.39 L503.78,1401.95 L504.15,1400.5 L504.53,1399.05 L504.9,1397.61 L505.28,1396.16 L505.66,1394.72 L506.05,1393.28 L506.44,1391.84 L506.83,1390.4 L507.22,1388.97 L507.62,1387.53 L508.02,1386.1 L508.43,1384.66 L508.84,1383.23 L509.25,1381.8 L509.67,1380.37 L510.1,1378.95 L510.53,1377.52 L510.96,1376.1 L511.4,1374.67 L511.84,1373.25 L512.29,1371.83 L512.75,1370.41 L513.21,1369 L513.68,1367.58 L514.16,1366.17 L514.64,1364.76 L515.12,1363.35 L515.62,1361.94 L516.11,1360.53 L516.62,1359.12 L517.12,1357.72 L517.63,1356.31 L518.15,1354.91 L518.67,1353.51 L519.2,1352.11 L519.72,1350.71 L520.26,1349.31 L520.79,1347.91 L521.33,1346.51 L521.88,1345.11 L522.42,1343.72 L522.97,1342.32 L523.52,1340.93 L524.08,1339.53 L524.64,1338.14 L525.19,1336.74 L525.76,1335.35 L526.32,1333.95 L526.88,1332.56 L527.45,1331.17 L528.02,1329.77 L528.59,1328.38 L529.16,1326.99 L529.73,1325.59 L530.3,1324.2 L530.87,1322.81 L531.44,1321.41 L532.02,1320.02 L532.59,1318.62 L533.16,1317.23 L533.73,1315.83 L534.3,1314.44 L534.87,1313.04 L535.44,1311.64 L536.01,1310.25 L536.58,1308.85 L537.14,1307.45 L537.71,1306.05 L538.27,1304.65 L538.83,1303.24 L539.39,1301.84 L539.94,1300.44 L540.49,1299.03 L541.04,1297.63 L541.59,1296.22 L542.13,1294.81 L542.68,1293.4 L543.21,1291.99 L543.75,1290.58 L544.28,1289.16 L544.8,1287.74 L545.32,1286.33 L545.84,1284.91 L546.36,1283.49 L546.86,1282.06 L547.37,1280.64 L547.87,1279.22 L548.37,1277.79 L548.86,1276.36 L549.35,1274.93 L549.83,1273.5 L550.31,1272.07 L550.79,1270.64 L551.27,1269.2 L551.74,1267.77 L552.2,1266.33 L552.66,1264.89 L553.12,1263.46 L553.58,1262.02 L554.03,1260.58 L554.48,1259.14 L554.93,1257.7 L555.37,1256.25 L555.81,1254.81 L556.25,1253.37 L556.68,1251.92 L557.11,1250.48 L557.54,1249.04 L557.96,1247.59 L558.38,1246.15 L558.8,1244.7 L559.22,1243.26 L559.63,1241.81 L560.04,1240.37 L560.45,1238.92 L560.85,1237.47 L561.26,1236.03 L561.66,1234.58 L562.06,1233.14 L562.45,1231.69 L562.85,1230.25 L563.24,1228.8 L563.63,1227.36 L564.01,1225.92 L564.4,1224.47 L564.78,1223.03 L565.16,1221.59 L565.54,1220.15 L565.92,1218.71 L566.3,1217.27 L566.67,1215.83 L567.04,1214.39 L567.42,1212.95 L567.78,1211.51 L568.15,1210.08 L568.52,1208.64 L568.88,1207.21 L569.25,1205.78 L569.61,1204.35 L569.97,1202.92 L570.33,1201.49 L570.69,1200.06 L571.05,1198.63 L571.41,1197.21 L571.76,1195.78 L572.12,1194.36 L572.47,1192.93 L572.82,1191.5 L573.16,1190.07 L573.5,1188.64 L573.84,1187.2 L574.18,1185.76 L574.51,1184.31 L574.84,1182.86 L575.17,1181.41 L575.49,1179.94 L575.8,1178.47 L576.11,1177 L576.41,1175.51 L576.71,1174.02 L577,1172.51 L577.29,1171 L577.57,1169.48 L577.84,1167.94 L578.11,1166.39 L578.37,1164.84 L578.62,1163.27 L578.86,1161.68 L579.1,1160.08 L579.33,1158.47 L579.55,1156.84 L579.76,1155.2 L579.96,1153.54 L580.16,1151.88 L580.37,1150.21 L580.59,1148.56 L580.82,1146.92 L581.09,1145.32 L581.39,1143.74 L581.72,1142.22 L582.11,1140.74 L582.55,1139.32 L583.05,1137.97 L583.61,1136.7 L584.25,1135.52 L584.94,1134.49 L585.66,1133.65 L586.39,1133.09 L587.11,1132.84 L587.79,1132.96 L588.44,1133.43 L589.06,1134.19 L589.64,1135.2 L590.18,1136.4 L590.7,1137.74 L591.2,1139.18 L591.66,1140.66 L592.11,1142.15 L592.52,1143.64 L592.92,1145.13 L593.29,1146.62 L593.64,1148.12 L593.98,1149.61 L594.29,1151.11 L594.58,1152.61 L594.86,1154.1 L595.12,1155.6 L595.36,1157.1 L595.59,1158.6 L595.81,1160.11 L596.01,1161.61 L596.2,1163.11 L596.37,1164.62 L596.54,1166.12 L596.69,1167.63 L596.84,1169.13 L596.97,1170.64 L597.1,1172.14 L597.23,1173.65 L597.34,1175.16 L597.45,1176.66 L597.56,1178.17 L597.66,1179.68 L597.76,1181.18 L597.86,1182.69 L597.96,1184.2 L598.06,1185.7 L598.16,1187.21 L598.26,1188.72 L598.36,1190.22 L598.46,1191.73 L598.56,1193.23 L598.66,1194.74 L598.76,1196.24 L598.86,1197.75 L598.97,1199.25 L599.07,1200.76 L599.17,1202.26 L599.28,1203.77 L599.38,1205.27 L599.49,1206.77 L599.6,1208.28 L599.7,1209.78 L599.81,1211.28 L599.92,1212.79 L600.03,1214.29 L600.13,1215.79 L600.24,1217.3 L600.35,1218.8 L600.46,1220.3 L600.57,1221.8 L600.69,1223.3 L600.8,1224.81 L600.91,1226.31 L601.02,1227.81 L601.13,1229.31 L601.25,1230.81 L601.36,1232.31 L601.48,1233.81 L601.59,1235.31 L601.7,1236.81 L601.82,1238.31 L601.94,1239.81 L602.05,1241.31 L602.17,1242.81 L602.29,1244.31 L602.4,1245.81 L602.52,1247.31 L602.64,1248.81 L602.76,1250.31 L602.88,1251.81 L602.99,1253.31 L603.11,1254.81 L603.23,1256.3 L603.35,1257.8 L603.47,1259.3 L603.59,1260.8 L603.72,1262.3 L603.84,1263.8 L603.96,1265.29 L604.08,1266.79 L604.2,1268.29 L604.32,1269.79 L604.45,1271.28 L604.57,1272.78 L604.69,1274.28 L604.82,1275.78 L604.94,1277.27 L605.07,1278.77 L605.19,1280.27 L605.31,1281.76 L605.44,1283.26 L605.56,1284.76 L605.69,1286.26 L605.81,1287.75 L605.94,1289.25 L606.07,1290.75 L606.19,1292.24 L606.32,1293.74 L606.44,1295.23 L606.57,1296.73 L606.7,1298.23 L606.82,1299.72 L606.95,1301.22 L607.08,1302.72 L607.21,1304.21 L607.33,1305.71 L607.46,1307.2 L607.59,1308.7 L607.72,1310.2 L607.85,1311.69 L607.97,1313.19 L608.1,1314.68 L608.23,1316.18 L608.36,1317.68 L608.49,1319.17 L608.62,1320.67 L608.75,1322.16 L608.87,1323.66 L609,1325.16 L609.13,1326.65 L609.26,1328.15 L609.39,1329.64 L609.52,1331.14 L609.65,1332.64 L609.78,1334.13 L609.91,1335.63 L610.04,1337.12 L610.17,1338.62 L610.3,1340.12 L610.43,1341.61 L610.55,1343.11 L610.68,1344.6 L610.81,1346.1 L610.94,1347.6 L611.07,1349.09 L611.2,1350.59 L611.33,1352.08 L611.46,1353.58 L611.59,1355.08 L611.72,1356.57 L611.85,1358.07 L611.98,1359.57 L612.11,1361.06 L612.24,1362.56 L612.36,1364.06 L612.49,1365.55 L612.62,1367.05 L612.75,1368.55 L612.88,1370.04 L613.01,1371.54 L613.14,1373.04 L613.26,1374.53 L613.39,1376.03 L613.52,1377.53 L613.65,1379.02 L613.78,1380.52 L613.9,1382.02 L614.03,1383.52 L614.16,1385.01 L614.29,1386.51 L614.41,1388.01 L614.54,1389.51 L614.67,1391.01 L614.79,1392.5 L614.92,1394 L615.04,1395.5 L615.17,1397 L615.3,1398.5 L615.42,1400 L615.55,1401.5 L615.67,1402.99 L615.8,1404.49 L615.92,1405.99 L616.05,1407.49 L616.17,1408.99 L616.29,1410.49 L616.42,1411.99 L616.54,1413.49 L616.66,1414.99 L616.79,1416.49 L616.91,1417.99 L617.03,1419.49 L617.15,1420.99 L617.27,1422.49 L617.4,1423.99 L617.52,1425.49 L617.64,1427 L617.76,1428.5 L617.88,1430 L618,1431.5" fill="none" stroke="#009000" stroke-width="4.6" stroke-linecap="round" stroke-linejoin="round" stroke-dasharray="8 17" stroke-dashoffset="22.27"/>
</g>
<line x1="157.55" y1="927" x2="157.55" y2="1506.78" stroke="#000" stroke-width="1.5" stroke-dasharray="4.7 5.2" stroke-dashoffset="8.2"/>
<line x1="445.35" y1="927" x2="445.35" y2="1506.78" stroke="#000" stroke-width="1.5" stroke-dasharray="4.7 5.2" stroke-dashoffset="8.2"/>
<line x1="618.03" y1="927" x2="618.03" y2="1506.78" stroke="#000" stroke-width="1.5" stroke-dasharray="4.7 5.2" stroke-dashoffset="8.2"/>
<rect x="112" y="1114" width="235" height="31" fill="#fff"/>
<rect x="112" y="1162" width="235" height="75" fill="#fff"/>
<text x="116.9" y="1148" font-size="26.7" fill="#000000" text-anchor="start">Trap density [cm<tspan dy="-10.3" font-size="18">-3</tspan><tspan dy="10.3">]:</tspan></text>
<line x1="118.9" y1="1183.3" x2="177.6" y2="1183.3" stroke="#0000ff" stroke-width="4.8" stroke-linecap="round"/>
<line x1="118.9" y1="1219.6" x2="171" y2="1219.6" stroke="#0000ff" stroke-width="4.8" stroke-linecap="round" stroke-dasharray="7.2 15.4"/>
<text x="185.6" y="1190.8" font-size="26.7" fill="#000000" text-anchor="start">5 x 10<tspan dy="-10.3" font-size="18">15</tspan></text>
<text x="185.6" y="1227.4" font-size="26.7" fill="#000000" text-anchor="start">2.45 x 10<tspan dy="-10.3" font-size="18">16</tspan></text>
<text x="110.3" y="995.2" font-size="40.3" fill="#000000" text-anchor="start">(b) I = 50 mA</text>
<line x1="157.55" y1="1506.78" x2="157.55" y2="1497.78" stroke="#000000" stroke-width="2" stroke-linecap="butt"/>
<line x1="157.55" y1="927" x2="157.55" y2="936" stroke="#000000" stroke-width="2" stroke-linecap="butt"/>
<text x="157.55" y="1535.8" font-size="26" fill="#000000" text-anchor="middle">265</text>
<line x1="301.45" y1="1506.78" x2="301.45" y2="1497.78" stroke="#000000" stroke-width="2" stroke-linecap="butt"/>
<line x1="301.45" y1="927" x2="301.45" y2="936" stroke="#000000" stroke-width="2" stroke-linecap="butt"/>
<text x="301.45" y="1535.8" font-size="26" fill="#000000" text-anchor="middle">270</text>
<line x1="445.35" y1="1506.78" x2="445.35" y2="1497.78" stroke="#000000" stroke-width="2" stroke-linecap="butt"/>
<line x1="445.35" y1="927" x2="445.35" y2="936" stroke="#000000" stroke-width="2" stroke-linecap="butt"/>
<text x="445.35" y="1535.8" font-size="26" fill="#000000" text-anchor="middle">275</text>
<line x1="589.25" y1="1506.78" x2="589.25" y2="1497.78" stroke="#000000" stroke-width="2" stroke-linecap="butt"/>
<line x1="589.25" y1="927" x2="589.25" y2="936" stroke="#000000" stroke-width="2" stroke-linecap="butt"/>
<text x="589.25" y="1535.8" font-size="26" fill="#000000" text-anchor="middle">280</text>
<line x1="733.15" y1="1506.78" x2="733.15" y2="1497.78" stroke="#000000" stroke-width="2" stroke-linecap="butt"/>
<line x1="733.15" y1="927" x2="733.15" y2="936" stroke="#000000" stroke-width="2" stroke-linecap="butt"/>
<text x="733.15" y="1535.8" font-size="26" fill="#000000" text-anchor="middle">285</text>
<line x1="229.5" y1="1506.78" x2="229.5" y2="1502.78" stroke="#000000" stroke-width="2" stroke-linecap="butt"/>
<line x1="229.5" y1="927" x2="229.5" y2="931" stroke="#000000" stroke-width="2" stroke-linecap="butt"/>
<line x1="373.4" y1="1506.78" x2="373.4" y2="1502.78" stroke="#000000" stroke-width="2" stroke-linecap="butt"/>
<line x1="373.4" y1="927" x2="373.4" y2="931" stroke="#000000" stroke-width="2" stroke-linecap="butt"/>
<line x1="517.3" y1="1506.78" x2="517.3" y2="1502.78" stroke="#000000" stroke-width="2" stroke-linecap="butt"/>
<line x1="517.3" y1="927" x2="517.3" y2="931" stroke="#000000" stroke-width="2" stroke-linecap="butt"/>
<line x1="661.2" y1="1506.78" x2="661.2" y2="1502.78" stroke="#000000" stroke-width="2" stroke-linecap="butt"/>
<line x1="661.2" y1="927" x2="661.2" y2="931" stroke="#000000" stroke-width="2" stroke-linecap="butt"/>
<line x1="85.6" y1="927" x2="94.6" y2="927" stroke="#000000" stroke-width="2" stroke-linecap="butt"/>
<text x="76.7" y="934.5" font-size="26" fill="#000000" text-anchor="end">2</text>
<line x1="85.6" y1="995.21" x2="94.6" y2="995.21" stroke="#000000" stroke-width="2" stroke-linecap="butt"/>
<text x="76.7" y="1002.71" font-size="26" fill="#000000" text-anchor="end">1</text>
<line x1="85.6" y1="1063.42" x2="94.6" y2="1063.42" stroke="#000000" stroke-width="2" stroke-linecap="butt"/>
<text x="76.7" y="1070.92" font-size="26" fill="#000000" text-anchor="end">0</text>
<line x1="85.6" y1="1131.63" x2="94.6" y2="1131.63" stroke="#000000" stroke-width="2" stroke-linecap="butt"/>
<text x="76.7" y="1139.13" font-size="26" fill="#000000" text-anchor="end">-1</text>
<line x1="85.6" y1="1199.84" x2="94.6" y2="1199.84" stroke="#000000" stroke-width="2" stroke-linecap="butt"/>
<text x="76.7" y="1207.34" font-size="26" fill="#000000" text-anchor="end">-2</text>
<line x1="85.6" y1="1268.05" x2="94.6" y2="1268.05" stroke="#000000" stroke-width="2" stroke-linecap="butt"/>
<text x="76.7" y="1275.55" font-size="26" fill="#000000" text-anchor="end">-3</text>
<line x1="85.6" y1="1336.26" x2="94.6" y2="1336.26" stroke="#000000" stroke-width="2" stroke-linecap="butt"/>
<text x="76.7" y="1343.76" font-size="26" fill="#000000" text-anchor="end">-4</text>
<line x1="85.6" y1="1404.47" x2="94.6" y2="1404.47" stroke="#000000" stroke-width="2" stroke-linecap="butt"/>
<text x="76.7" y="1411.97" font-size="26" fill="#000000" text-anchor="end">-5</text>
<line x1="85.6" y1="1472.68" x2="94.6" y2="1472.68" stroke="#000000" stroke-width="2" stroke-linecap="butt"/>
<text x="76.7" y="1480.18" font-size="26" fill="#000000" text-anchor="end">-6</text>
<line x1="85.6" y1="961.11" x2="89.6" y2="961.11" stroke="#000000" stroke-width="2" stroke-linecap="butt"/>
<line x1="85.6" y1="1029.32" x2="89.6" y2="1029.32" stroke="#000000" stroke-width="2" stroke-linecap="butt"/>
<line x1="85.6" y1="1097.53" x2="89.6" y2="1097.53" stroke="#000000" stroke-width="2" stroke-linecap="butt"/>
<line x1="85.6" y1="1165.73" x2="89.6" y2="1165.73" stroke="#000000" stroke-width="2" stroke-linecap="butt"/>
<line x1="85.6" y1="1233.94" x2="89.6" y2="1233.94" stroke="#000000" stroke-width="2" stroke-linecap="butt"/>
<line x1="85.6" y1="1302.15" x2="89.6" y2="1302.15" stroke="#000000" stroke-width="2" stroke-linecap="butt"/>
<line x1="85.6" y1="1370.37" x2="89.6" y2="1370.37" stroke="#000000" stroke-width="2" stroke-linecap="butt"/>
<line x1="85.6" y1="1438.57" x2="89.6" y2="1438.57" stroke="#000000" stroke-width="2" stroke-linecap="butt"/>
<line x1="85.6" y1="1506.78" x2="89.6" y2="1506.78" stroke="#000000" stroke-width="2" stroke-linecap="butt"/>
<line x1="805.3" y1="926" x2="805.3" y2="1507.78" stroke="#0000ff" stroke-width="2" stroke-linecap="butt"/>
<line x1="805.3" y1="1506.78" x2="796.3" y2="1506.78" stroke="#0000ff" stroke-width="2" stroke-linecap="butt"/>
<text x="813.5" y="1514.59" font-size="25.7" fill="#0000ff" text-anchor="start">0.0</text>
<line x1="805.3" y1="1448.8" x2="801.3" y2="1448.8" stroke="#0000ff" stroke-width="2" stroke-linecap="butt"/>
<line x1="805.3" y1="1390.82" x2="796.3" y2="1390.82" stroke="#0000ff" stroke-width="2" stroke-linecap="butt"/>
<text x="813.5" y="1400.22" font-size="25.7" fill="#0000ff" text-anchor="start">5.0&#215;10<tspan dx="1.5" dy="-10" font-size="16.7">18</tspan></text>
<line x1="805.3" y1="1332.84" x2="801.3" y2="1332.84" stroke="#0000ff" stroke-width="2" stroke-linecap="butt"/>
<line x1="805.3" y1="1274.86" x2="796.3" y2="1274.86" stroke="#0000ff" stroke-width="2" stroke-linecap="butt"/>
<text x="813.5" y="1284.26" font-size="25.7" fill="#0000ff" text-anchor="start">1.0&#215;10<tspan dx="1.5" dy="-10" font-size="16.7">19</tspan></text>
<line x1="805.3" y1="1216.88" x2="801.3" y2="1216.88" stroke="#0000ff" stroke-width="2" stroke-linecap="butt"/>
<line x1="805.3" y1="1158.9" x2="796.3" y2="1158.9" stroke="#0000ff" stroke-width="2" stroke-linecap="butt"/>
<text x="813.5" y="1168.3" font-size="25.7" fill="#0000ff" text-anchor="start">1.5&#215;10<tspan dx="1.5" dy="-10" font-size="16.7">19</tspan></text>
<line x1="805.3" y1="1100.92" x2="801.3" y2="1100.92" stroke="#0000ff" stroke-width="2" stroke-linecap="butt"/>
<line x1="805.3" y1="1042.94" x2="796.3" y2="1042.94" stroke="#0000ff" stroke-width="2" stroke-linecap="butt"/>
<text x="813.5" y="1052.35" font-size="25.7" fill="#0000ff" text-anchor="start">2.0&#215;10<tspan dx="1.5" dy="-10" font-size="16.7">19</tspan></text>
<line x1="805.3" y1="984.96" x2="801.3" y2="984.96" stroke="#0000ff" stroke-width="2" stroke-linecap="butt"/>
<line x1="805.3" y1="926.98" x2="796.3" y2="926.98" stroke="#0000ff" stroke-width="2" stroke-linecap="butt"/>
<text x="813.5" y="936.38" font-size="25.7" fill="#0000ff" text-anchor="start">2.5&#215;10<tspan dx="1.5" dy="-10" font-size="16.7">19</tspan></text>
<text transform="translate(954,1448.2) rotate(-90)" font-size="35.5" fill="#0000ff">Electron density in QW (cm<tspan dy="-14" font-size="24.5">-3</tspan><tspan dy="14">)</tspan></text>
<line x1="992.2" y1="926" x2="992.2" y2="1507.78" stroke="#ff0000" stroke-width="2" stroke-linecap="butt"/>
<line x1="992.2" y1="1506.78" x2="983.2" y2="1506.78" stroke="#ff0000" stroke-width="2" stroke-linecap="butt"/>
<text x="1000.7" y="1514.59" font-size="25.5" fill="#ff0000" text-anchor="start">0.00</text>
<line x1="992.2" y1="1465.37" x2="988.2" y2="1465.37" stroke="#ff0000" stroke-width="2" stroke-linecap="butt"/>
<line x1="992.2" y1="1423.95" x2="983.2" y2="1423.95" stroke="#ff0000" stroke-width="2" stroke-linecap="butt"/>
<text x="1000.7" y="1433.36" font-size="25.5" fill="#ff0000" text-anchor="start">2.50&#215;10<tspan dx="1.5" dy="-10" font-size="16.7">18</tspan></text>
<line x1="992.2" y1="1382.54" x2="988.2" y2="1382.54" stroke="#ff0000" stroke-width="2" stroke-linecap="butt"/>
<line x1="992.2" y1="1341.12" x2="983.2" y2="1341.12" stroke="#ff0000" stroke-width="2" stroke-linecap="butt"/>
<text x="1000.7" y="1350.52" font-size="25.5" fill="#ff0000" text-anchor="start">5.00&#215;10<tspan dx="1.5" dy="-10" font-size="16.7">18</tspan></text>
<line x1="992.2" y1="1299.71" x2="988.2" y2="1299.71" stroke="#ff0000" stroke-width="2" stroke-linecap="butt"/>
<line x1="992.2" y1="1258.29" x2="983.2" y2="1258.29" stroke="#ff0000" stroke-width="2" stroke-linecap="butt"/>
<text x="1000.7" y="1267.69" font-size="25.5" fill="#ff0000" text-anchor="start">7.50&#215;10<tspan dx="1.5" dy="-10" font-size="16.7">18</tspan></text>
<line x1="992.2" y1="1216.88" x2="988.2" y2="1216.88" stroke="#ff0000" stroke-width="2" stroke-linecap="butt"/>
<line x1="992.2" y1="1175.46" x2="983.2" y2="1175.46" stroke="#ff0000" stroke-width="2" stroke-linecap="butt"/>
<text x="1000.7" y="1184.87" font-size="25.5" fill="#ff0000" text-anchor="start">1.00&#215;10<tspan dx="1.5" dy="-10" font-size="16.7">19</tspan></text>
<line x1="992.2" y1="1134.05" x2="988.2" y2="1134.05" stroke="#ff0000" stroke-width="2" stroke-linecap="butt"/>
<line x1="992.2" y1="1092.63" x2="983.2" y2="1092.63" stroke="#ff0000" stroke-width="2" stroke-linecap="butt"/>
<text x="1000.7" y="1102.03" font-size="25.5" fill="#ff0000" text-anchor="start">1.25&#215;10<tspan dx="1.5" dy="-10" font-size="16.7">19</tspan></text>
<line x1="992.2" y1="1051.22" x2="988.2" y2="1051.22" stroke="#ff0000" stroke-width="2" stroke-linecap="butt"/>
<line x1="992.2" y1="1009.8" x2="983.2" y2="1009.8" stroke="#ff0000" stroke-width="2" stroke-linecap="butt"/>
<text x="1000.7" y="1019.2" font-size="25.5" fill="#ff0000" text-anchor="start">1.50&#215;10<tspan dx="1.5" dy="-10" font-size="16.7">19</tspan></text>
<line x1="992.2" y1="968.39" x2="988.2" y2="968.39" stroke="#ff0000" stroke-width="2" stroke-linecap="butt"/>
<line x1="992.2" y1="926.97" x2="983.2" y2="926.97" stroke="#ff0000" stroke-width="2" stroke-linecap="butt"/>
<text x="1000.7" y="936.37" font-size="25.5" fill="#ff0000" text-anchor="start">1.75&#215;10<tspan dx="1.5" dy="-10" font-size="16.7">19</tspan></text>
<text transform="translate(1154,1419.5) rotate(-90)" font-size="35.4" fill="#ff0000">Hole density in QW (cm<tspan dy="-14" font-size="24.5">-3</tspan><tspan dy="14">)</tspan></text>
<line x1="1178.5" y1="926" x2="1178.5" y2="1507.78" stroke="#009000" stroke-width="2" stroke-linecap="butt"/>
<line x1="1178.5" y1="1506.78" x2="1169.5" y2="1506.78" stroke="#009000" stroke-width="2" stroke-linecap="butt"/>
<text x="1187.5" y="1514.59" font-size="25.3" fill="#009000" text-anchor="start">0.0</text>
<line x1="1178.5" y1="1448.8" x2="1174.5" y2="1448.8" stroke="#009000" stroke-width="2" stroke-linecap="butt"/>
<line x1="1178.5" y1="1390.82" x2="1169.5" y2="1390.82" stroke="#009000" stroke-width="2" stroke-linecap="butt"/>
<text x="1187.5" y="1400.22" font-size="25.3" fill="#009000" text-anchor="start">2.0&#215;10<tspan dx="1" dy="-10" font-size="16.7">26</tspan></text>
<line x1="1178.5" y1="1332.84" x2="1174.5" y2="1332.84" stroke="#009000" stroke-width="2" stroke-linecap="butt"/>
<line x1="1178.5" y1="1274.86" x2="1169.5" y2="1274.86" stroke="#009000" stroke-width="2" stroke-linecap="butt"/>
<text x="1187.5" y="1284.26" font-size="25.3" fill="#009000" text-anchor="start">4.0&#215;10<tspan dx="1" dy="-10" font-size="16.7">26</tspan></text>
<line x1="1178.5" y1="1216.88" x2="1174.5" y2="1216.88" stroke="#009000" stroke-width="2" stroke-linecap="butt"/>
<line x1="1178.5" y1="1158.9" x2="1169.5" y2="1158.9" stroke="#009000" stroke-width="2" stroke-linecap="butt"/>
<text x="1187.5" y="1168.3" font-size="25.3" fill="#009000" text-anchor="start">6.0&#215;10<tspan dx="1" dy="-10" font-size="16.7">26</tspan></text>
<line x1="1178.5" y1="1100.92" x2="1174.5" y2="1100.92" stroke="#009000" stroke-width="2" stroke-linecap="butt"/>
<line x1="1178.5" y1="1042.94" x2="1169.5" y2="1042.94" stroke="#009000" stroke-width="2" stroke-linecap="butt"/>
<text x="1187.5" y="1052.35" font-size="25.3" fill="#009000" text-anchor="start">8.0&#215;10<tspan dx="1" dy="-10" font-size="16.7">26</tspan></text>
<line x1="1178.5" y1="984.96" x2="1174.5" y2="984.96" stroke="#009000" stroke-width="2" stroke-linecap="butt"/>
<line x1="1178.5" y1="926.98" x2="1169.5" y2="926.98" stroke="#009000" stroke-width="2" stroke-linecap="butt"/>
<text x="1187.5" y="936.38" font-size="25.3" fill="#009000" text-anchor="start">1.0&#215;10<tspan dx="1" dy="-10" font-size="16.7">27</tspan></text>
<text transform="translate(1329.3,1480) rotate(-90)" font-size="35.5" fill="#009000">Radiative recombination (cm<tspan dy="-14" font-size="25">-3</tspan><tspan dy="14">s</tspan><tspan dy="-14" font-size="25">-1</tspan><tspan dy="14">)</tspan></text>
<text x="94.3" y="913.1" font-size="26" fill="#000000" text-anchor="start">interLayer</text>
<text x="287.1" y="910.3" font-size="26" fill="#000000" text-anchor="start">LastBarrier</text>
<text x="514.8" y="908.1" font-size="26" fill="#000000" text-anchor="start">QW</text>
<text x="658.3" y="910.3" font-size="26" fill="#000000" text-anchor="start">FistBarrier</text>
<text transform="translate(27,1311.4) rotate(-90)" font-size="35.45" fill="#000000">Energy (eV)</text>
<text x="357" y="1585.3" font-size="35.45" fill="#000000" text-anchor="start">Depth (nm)</text>
</svg>
</body></html>
